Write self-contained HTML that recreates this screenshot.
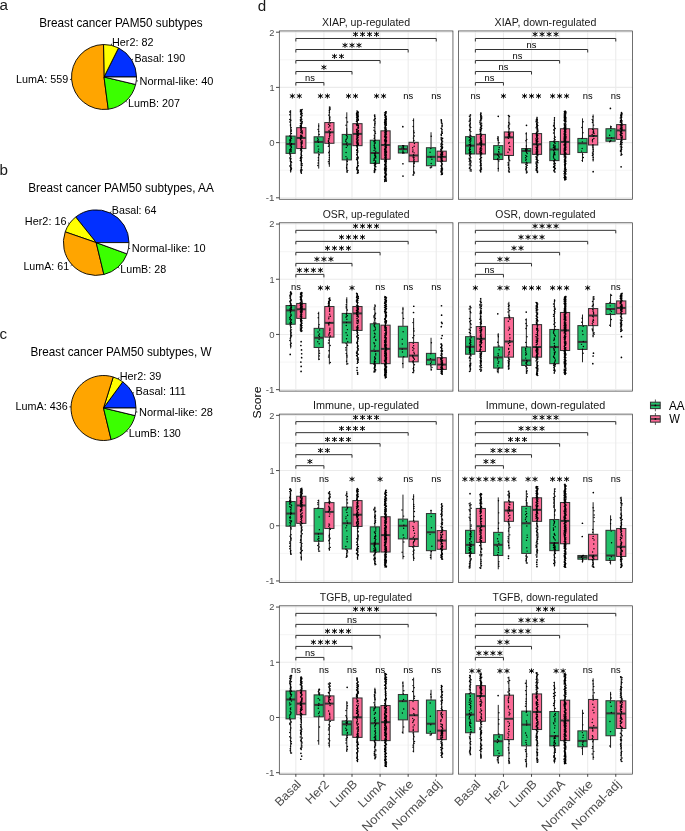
<!DOCTYPE html>
<html><head><meta charset="utf-8"><title>Figure</title>
<style>html,body{margin:0;padding:0;background:#fff;}svg{display:block;will-change:transform;}text{font-family:"Liberation Sans", sans-serif;}</style>
</head><body><svg width="685" height="831" viewBox="0 0 685 831">
<rect width="685" height="831" fill="#fff"/>
<text x="-0.6" y="9.9" font-size="15.2" fill="#1a1a1a">a</text><text x="121" y="27.2" font-size="12.1" text-anchor="middle" textLength="163.46" lengthAdjust="spacingAndGlyphs">Breast cancer PAM50 subtypes</text><path d="M104 77L136.5 77A32.5 32.5 0 0 0 118.53 47.93Z" fill="#0230FF" stroke="#000" stroke-width="0.9" stroke-linejoin="round"/><line x1="131.64" y1="59.91" x2="133.03" y2="59.06" stroke="#000" stroke-width="0.8"/><text x="134.48" y="61.72" font-size="10.05" fill="#000" textLength="50.65" lengthAdjust="spacingAndGlyphs">Basal: 190</text><path d="M104 77L118.53 47.93A32.5 32.5 0 0 0 103.53 44.5Z" fill="#FFFF00" stroke="#000" stroke-width="0.9" stroke-linejoin="round"/><line x1="111.23" y1="45.31" x2="111.59" y2="43.73" stroke="#000" stroke-width="0.8"/><text x="112.02" y="45.67" font-size="10.05" fill="#000" textLength="41.46" lengthAdjust="spacingAndGlyphs">Her2: 82</text><path d="M104 77L103.53 44.5A32.5 32.5 0 1 0 108.25 109.22Z" fill="#FFA500" stroke="#000" stroke-width="0.9" stroke-linejoin="round"/><line x1="71.59" y1="79.37" x2="69.97" y2="79.48" stroke="#000" stroke-width="0.8"/><text x="16.12" y="83.12" font-size="10.05" fill="#000" textLength="52.05" lengthAdjust="spacingAndGlyphs">LumA: 559</text><path d="M104 77L108.25 109.22A32.5 32.5 0 0 0 135.62 84.51Z" fill="#3BFF00" stroke="#000" stroke-width="0.9" stroke-linejoin="round"/><line x1="125.78" y1="101.12" x2="126.87" y2="102.33" stroke="#000" stroke-width="0.8"/><text x="128.02" y="107.05" font-size="10.05" fill="#000" textLength="51.95" lengthAdjust="spacingAndGlyphs">LumB: 207</text><path d="M104 77L135.62 84.51A32.5 32.5 0 0 0 136.5 77Z" fill="#FFFFFF" stroke="#000" stroke-width="0.9" stroke-linejoin="round"/><line x1="136.28" y1="80.78" x2="137.89" y2="80.97" stroke="#000" stroke-width="0.8"/><text x="139.55" y="84.68" font-size="10.05" fill="#000" textLength="73.87" lengthAdjust="spacingAndGlyphs">Normal-like: 40</text><text x="-0.6" y="174.7" font-size="15.2" fill="#1a1a1a">b</text><text x="121" y="191.5" font-size="12.1" text-anchor="middle" textLength="185.51" lengthAdjust="spacingAndGlyphs">Breast cancer PAM50 subtypes, AA</text><path d="M96.2 242.6L129 242.6A32.8 32.8 0 0 0 75.69 217.01Z" fill="#0230FF" stroke="#000" stroke-width="0.9" stroke-linejoin="round"/><line x1="110.39" y1="213.03" x2="111.1" y2="211.55" stroke="#000" stroke-width="0.8"/><text x="111.89" y="213.59" font-size="10.05" fill="#000" textLength="44.5" lengthAdjust="spacingAndGlyphs">Basal: 64</text><path d="M96.2 242.6L75.69 217.01A32.8 32.8 0 0 0 65.21 231.86Z" fill="#FFFF00" stroke="#000" stroke-width="0.9" stroke-linejoin="round"/><line x1="69.4" y1="223.7" x2="68.06" y2="222.75" stroke="#000" stroke-width="0.8"/><text x="24.83" y="225.32" font-size="10.05" fill="#000" textLength="41.76" lengthAdjust="spacingAndGlyphs">Her2: 16</text><path d="M96.2 242.6L65.21 231.86A32.8 32.8 0 0 0 103.9 274.48Z" fill="#FFA500" stroke="#000" stroke-width="0.9" stroke-linejoin="round"/><line x1="71.91" y1="264.65" x2="70.7" y2="265.75" stroke="#000" stroke-width="0.8"/><text x="23.42" y="270.37" font-size="10.05" fill="#000" textLength="45.7" lengthAdjust="spacingAndGlyphs">LumA: 61</text><path d="M96.2 242.6L103.9 274.48A32.8 32.8 0 0 0 127 253.88Z" fill="#3BFF00" stroke="#000" stroke-width="0.9" stroke-linejoin="round"/><line x1="118.03" y1="267.08" x2="119.12" y2="268.3" stroke="#000" stroke-width="0.8"/><text x="120.28" y="273.05" font-size="10.05" fill="#000" textLength="45.9" lengthAdjust="spacingAndGlyphs">LumB: 28</text><path d="M96.2 242.6L127 253.88A32.8 32.8 0 0 0 129 242.6Z" fill="#FFFFFF" stroke="#000" stroke-width="0.9" stroke-linejoin="round"/><line x1="128.5" y1="248.33" x2="130.11" y2="248.61" stroke="#000" stroke-width="0.8"/><text x="131.77" y="252.42" font-size="10.05" fill="#000" textLength="73.87" lengthAdjust="spacingAndGlyphs">Normal-like: 10</text><text x="-0.6" y="338.7" font-size="15.2" fill="#1a1a1a">c</text><text x="121" y="356" font-size="12.1" text-anchor="middle" textLength="180.96" lengthAdjust="spacingAndGlyphs">Breast cancer PAM50 subtypes, W</text><path d="M103.5 408L136 408A32.5 32.5 0 0 0 122.74 381.8Z" fill="#0230FF" stroke="#000" stroke-width="0.9" stroke-linejoin="round"/><line x1="132.5" y1="393.32" x2="133.94" y2="392.58" stroke="#000" stroke-width="0.8"/><text x="135.47" y="395.37" font-size="10.05" fill="#000" textLength="50.51" lengthAdjust="spacingAndGlyphs">Basal: 111</text><path d="M103.5 408L122.74 381.8A32.5 32.5 0 0 0 113.23 376.99Z" fill="#FFFF00" stroke="#000" stroke-width="0.9" stroke-linejoin="round"/><line x1="118.18" y1="379" x2="118.92" y2="377.56" stroke="#000" stroke-width="0.8"/><text x="119.71" y="379.63" font-size="10.05" fill="#000" textLength="41.72" lengthAdjust="spacingAndGlyphs">Her2: 39</text><path d="M103.5 408L113.23 376.99A32.5 32.5 0 1 0 111.11 439.6Z" fill="#FFA500" stroke="#000" stroke-width="0.9" stroke-linejoin="round"/><line x1="71.02" y1="406.9" x2="69.39" y2="406.85" stroke="#000" stroke-width="0.8"/><text x="15.55" y="410.31" font-size="10.05" fill="#000" textLength="52.09" lengthAdjust="spacingAndGlyphs">LumA: 436</text><path d="M103.5 408L111.11 439.6A32.5 32.5 0 0 0 135.1 415.61Z" fill="#3BFF00" stroke="#000" stroke-width="0.9" stroke-linejoin="round"/><line x1="126.48" y1="430.98" x2="127.63" y2="432.13" stroke="#000" stroke-width="0.8"/><text x="128.84" y="436.8" font-size="10.05" fill="#000" textLength="52.02" lengthAdjust="spacingAndGlyphs">LumB: 130</text><path d="M103.5 408L135.1 415.61A32.5 32.5 0 0 0 136 408Z" fill="#FFFFFF" stroke="#000" stroke-width="0.9" stroke-linejoin="round"/><line x1="135.77" y1="411.83" x2="137.39" y2="412.03" stroke="#000" stroke-width="0.8"/><text x="139.05" y="415.74" font-size="10.05" fill="#000" textLength="73.9" lengthAdjust="spacingAndGlyphs">Normal-like: 28</text><rect x="279.3" y="30.95" width="173.65" height="168.3" fill="#fff"/><path d="M279.3 170.2H452.95M279.3 115H452.95M279.3 59.8H452.95" stroke="#EBEBEB" stroke-width="0.55" fill="none"/><path d="M279.3 197.8H452.95M279.3 142.6H452.95M279.3 87.4H452.95M279.3 32.2H452.95M295.84 30.95V199.25M323.92 30.95V199.25M352 30.95V199.25M380.08 30.95V199.25M408.16 30.95V199.25M436.24 30.95V199.25" stroke="#EBEBEB" stroke-width="1.07" fill="none"/><text x="321.95" y="25.95" font-size="10" fill="#1a1a1a" textLength="88.22" lengthAdjust="spacingAndGlyphs">XIAP, up-regulated</text><path d="M290.64 110.09V136.09M290.64 153.36V172.63" stroke="#222" stroke-width="1.0"/><rect x="286.04" y="136.09" width="9.2" height="17.28" fill="#22C16A" stroke="#333333" stroke-width="1.05"/><path d="M286.04 143.98H295.24" stroke="#333333" stroke-width="2"/><path d="M301.29 108.98V127.64M301.29 148.56V173.46" stroke="#222" stroke-width="1.0"/><rect x="296.69" y="127.64" width="9.2" height="20.92" fill="#FB6A96" stroke="#333333" stroke-width="1.05"/><path d="M296.69 137.91H305.89" stroke="#333333" stroke-width="2"/><path d="M318.72 123.22V136.8M318.72 152.98V168.6" stroke="#222" stroke-width="1.0"/><rect x="314.12" y="136.8" width="9.2" height="16.17" fill="#22C16A" stroke="#333333" stroke-width="1.05"/><path d="M314.12 141.91H323.32" stroke="#333333" stroke-width="2"/><path d="M329.37 106.33V122.56M329.37 143.29V166.83" stroke="#222" stroke-width="1.0"/><rect x="324.77" y="122.56" width="9.2" height="20.73" fill="#FB6A96" stroke="#333333" stroke-width="1.05"/><path d="M324.77 132.22H333.97" stroke="#333333" stroke-width="2"/><path d="M346.8 112.3V134.43M346.8 159.88V172.63" stroke="#222" stroke-width="1.0"/><rect x="342.2" y="134.43" width="9.2" height="25.45" fill="#22C16A" stroke="#333333" stroke-width="1.05"/><path d="M342.2 144.26H351.4" stroke="#333333" stroke-width="2"/><path d="M357.45 110.8V123.67M357.45 145.64V173.46" stroke="#222" stroke-width="1.0"/><rect x="352.85" y="123.67" width="9.2" height="21.97" fill="#FB6A96" stroke="#333333" stroke-width="1.05"/><path d="M352.85 133.88H362.05" stroke="#333333" stroke-width="2"/><path d="M374.88 114.23V140.23M374.88 163.36V172.63" stroke="#222" stroke-width="1.0"/><rect x="370.28" y="140.23" width="9.2" height="23.13" fill="#22C16A" stroke="#333333" stroke-width="1.05"/><path d="M370.28 152.98H379.48" stroke="#333333" stroke-width="2"/><path d="M385.53 111.47V130.84M385.53 159.22V181.63" stroke="#222" stroke-width="1.0"/><rect x="380.93" y="130.84" width="9.2" height="28.37" fill="#FB6A96" stroke="#333333" stroke-width="1.05"/><path d="M380.93 144.97H390.13" stroke="#333333" stroke-width="2"/><path d="M402.96 145.8V145.8M402.96 152.98V152.98" stroke="#222" stroke-width="1.0"/><rect x="398.36" y="145.8" width="9.2" height="7.18" fill="#22C16A" stroke="#333333" stroke-width="1.05"/><path d="M398.36 149.11H407.56" stroke="#333333" stroke-width="2"/><path d="M413.61 118.37V142.32M413.61 161.7V175.72" stroke="#222" stroke-width="1.0"/><rect x="409.01" y="142.32" width="9.2" height="19.38" fill="#FB6A96" stroke="#333333" stroke-width="1.05"/><path d="M409.01 155.46H418.21" stroke="#333333" stroke-width="2"/><path d="M431.04 132.22V147.73M431.04 165.73V168.21" stroke="#222" stroke-width="1.0"/><rect x="426.44" y="147.73" width="9.2" height="18" fill="#22C16A" stroke="#333333" stroke-width="1.05"/><path d="M426.44 156.84H435.64" stroke="#333333" stroke-width="2"/><path d="M441.69 137.08V151.16M441.69 161.26V174.84" stroke="#222" stroke-width="1.0"/><rect x="437.09" y="151.16" width="9.2" height="10.1" fill="#FB6A96" stroke="#333333" stroke-width="1.05"/><path d="M437.09 156.84H446.29" stroke="#333333" stroke-width="2"/><path d="M290.8 170.88h0M290.55 170.22h0M291.32 169.33h0M291.53 168.29h0M290.59 167.62h0M290.97 166.9h0M289.76 166.02h0M291.04 165.32h0M290.93 164.02h0M291.63 162.37h0M291.28 161.76h0M290.21 160.94h0M290.41 159.55h0M290.98 158.69h0M289.69 158.04h0M290.56 156.33h0M289.98 154.76h0M289.87 153.49h0M289.76 152.74h0M291.18 151.63h0M289.9 151.3h0M290.14 150.82h0M290.42 150.36h0M291.38 149.97h0M289.8 149.67h0M290.54 149.19h0M290.74 148.11h0M291.41 147.69h0M291.28 146.95h0M291.37 146.25h0M290.2 145.84h0M290.47 145.49h0M290.36 145.08h0M291.41 144.42h0M291.56 143.54h0M289.94 143h0M289.99 142.47h0M290.1 142.06h0M290.11 141.62h0M290.61 140.98h0M290.82 140.71h0M290.17 140.42h0M289.65 140.1h0M290.48 139.79h0M290.38 139.41h0M290.77 138.64h0M291.55 138.21h0M291.02 137.77h0M290.67 137.25h0M290.88 136.82h0M290.99 136.33h0M289.75 135.89h0M291.44 133.5h0M291.2 131.25h0M291.39 130.05h0M291.24 127.69h0M290.42 125.74h0M290.44 124.37h0M289.85 121.92h0M290.91 120.24h0M289.76 119.41h0M289.77 114.84h0M290.06 112.54h0M289.96 111.52h0M301.46 173.22h0M300.81 172.07h0M301.13 171.19h0M300.55 170.62h0M302.11 170.09h0M301 169.6h0M301.21 169.1h0M301.46 167.47h0M302.1 165.42h0M301.13 164.92h0M302.13 163.69h0M301.29 163.21h0M301.35 161.73h0M301.34 161.08h0M300.33 160.43h0M301.17 159.23h0M300.66 158.76h0M300.3 158.21h0M301.89 157.63h0M300.63 157.18h0M301.24 156.22h0M301.74 155.5h0M301.4 154.9h0M300.94 154.03h0M301.33 152.67h0M301.4 151.84h0M301.86 151.06h0M300.5 150.14h0M301.41 149.57h0M300.79 148.93h0M300.84 148.53h0M301.83 148.04h0M301.31 147.61h0M301.41 147.41h0M301.81 147.07h0M302.11 146.84h0M301.18 146.57h0M301.52 146.06h0M301.3 145.58h0M301.31 144.61h0M301.68 144.36h0M301.19 144h0M301.36 143.76h0M301.25 143.46h0M302.17 143.21h0M301.69 142.91h0M302.04 142.54h0M302.17 142.34h0M300.81 142.14h0M301.41 141.9h0M302.18 141.09h0M301.97 140.78h0M300.56 139.89h0M300.53 139.42h0M301.17 138.82h0M300.44 138.38h0M300.77 138.15h0M300.44 137.87h0M301.63 136.99h0M301.86 136.62h0M302.08 136.41h0M300.6 136.22h0M301.72 135.94h0M301.61 135.54h0M300.58 135.24h0M302.06 133.72h0M302.23 133.33h0M300.73 132.61h0M302.2 132.36h0M301.09 132.09h0M301.26 131.84h0M302.27 130.99h0M301.95 130.73h0M300.61 129.96h0M301.15 129.47h0M301.32 129.07h0M300.97 128.44h0M300.68 128.11h0M300.93 127.86h0M301.73 127.44h0M300.33 126.71h0M301.4 126.33h0M301.17 125.8h0M300.33 125.45h0M300.95 124.93h0M301.54 124.33h0M301.31 123.71h0M300.42 123.36h0M302.26 122.93h0M301.87 122.17h0M302.23 121.51h0M300.5 121.04h0M300.82 120.3h0M300.37 119.65h0M301.85 119.22h0M300.83 117.91h0M300.55 117.41h0M301.13 116.89h0M302.11 115.66h0M301.93 115.2h0M300.81 114.5h0M300.59 114.01h0M302.13 113.52h0M301.43 113.13h0M301.69 112.25h0M300.47 111.89h0M300.41 111.3h0M301.67 110.89h0M301.14 110.39h0M300.43 109.93h0M302.17 109.41h0M317.82 165.54h0M318.12 163.05h0M318.34 160.3h0M318.33 157.73h0M319.24 154.77h0M318.3 151.16h0M318.72 149.12h0M318.08 146.16h0M318.41 142.24h0M317.76 140.68h0M318.22 139.77h0M317.75 138.3h0M319.19 134.55h0M318.82 131.37h0M318.1 129.5h0M318.67 126.07h0M329.08 163.67h0M328.37 161.69h0M329.13 159.84h0M329.32 157.6h0M329.38 155.29h0M328.77 152.77h0M329.38 151.3h0M328.38 146.37h0M328.9 145.06h0M328.55 143.33h0M329.17 142.57h0M328.45 141.59h0M328.41 140.78h0M328.98 139.84h0M328.84 138.54h0M329.54 137.87h0M329.43 136.29h0M329.87 135.47h0M329.69 134.29h0M329.8 133.42h0M330.13 132.55h0M329.15 131.33h0M329.02 130.61h0M330.34 129.33h0M328.67 127.12h0M329.82 125.96h0M329.66 125.13h0M328.46 124.27h0M330.04 123.11h0M330.15 120.12h0M329.62 118.85h0M329.84 117.94h0M329.99 116.9h0M328.65 115.11h0M329.42 112.2h0M329.38 110.49h0M330.04 109.53h0M329.98 108.47h0M330.02 107.32h0M347.28 172.09h0M347.75 170.47h0M346.79 168.67h0M346.57 167.54h0M346.76 165.85h0M347.17 164.23h0M347.33 161.48h0M347.03 159.93h0M347.09 158.14h0M345.95 156.6h0M346.09 152.51h0M346.31 147.38h0M347.29 145.84h0M346.41 143.92h0M346.94 142.75h0M345.82 141.55h0M345.92 140.02h0M346.34 139.29h0M347.14 137.97h0M347.18 136.85h0M347.15 136.1h0M346.38 135.19h0M346.83 132.97h0M346.73 131.06h0M346.73 128.97h0M346.04 125.2h0M347.59 121.94h0M346.2 117.83h0M357.23 173.23h0M358.3 172.72h0M358.1 172.19h0M358.16 170.98h0M358.39 170.32h0M356.95 169.72h0M356.67 168.88h0M356.76 167.56h0M357.49 167.09h0M357.81 166.64h0M358.33 165.51h0M357.89 163.49h0M357.74 163.04h0M357.98 162.02h0M357.36 160.57h0M357.55 159.82h0M356.53 159.31h0M358.01 158.59h0M356.92 157.77h0M358.29 157.28h0M357.74 156.8h0M357.06 155.26h0M356.71 154.52h0M356.95 152.84h0M357.72 152.26h0M357.85 150.98h0M356.67 150.44h0M356.59 149.96h0M357.5 149.24h0M357.62 148.59h0M357.23 147.53h0M356.9 146.67h0M357.65 145.72h0M356.47 145.47h0M357.05 145.08h0M357.37 144.85h0M358.37 144.54h0M357.74 144.29h0M358.22 144.06h0M357.4 143.78h0M356.92 143.54h0M356.94 143.17h0M358.37 142.98h0M357.86 142.71h0M357.06 142.34h0M356.49 142.09h0M357.45 141.88h0M357.8 141.37h0M357.29 140.67h0M356.96 140.4h0M357.78 140.18h0M358.3 139.99h0M356.9 139.41h0M356.52 138.96h0M357.13 138.76h0M357.29 138.49h0M357.82 137.93h0M356.85 137.72h0M358.04 137.41h0M357.93 136.92h0M357.46 136.72h0M356.86 136.2h0M358.39 135.6h0M357.07 135.34h0M358.09 135.15h0M356.91 134.95h0M356.89 134.76h0M357.97 134.39h0M357.04 133.9h0M358.35 133.72h0M357.44 133.3h0M356.82 133.03h0M356.9 132.76h0M357.28 132.47h0M357.78 132.21h0M358.35 132h0M356.74 131.58h0M357.24 131.42h0M356.88 130.75h0M358.4 130.43h0M356.73 130.02h0M356.55 129.62h0M356.57 129.35h0M357.24 129.15h0M358.25 128.17h0M358.22 127.98h0M357.92 127.55h0M358.45 127.16h0M358.31 126.03h0M357.11 125.75h0M356.82 125.52h0M358.32 125.23h0M357.94 124.81h0M356.51 124.52h0M357.78 124.14h0M357.21 123.97h0M357.2 123.77h0M357.11 122.07h0M356.79 121.67h0M356.46 121.46h0M357.01 120.89h0M357.15 120.58h0M358.36 120.36h0M356.7 119.94h0M358.38 119.38h0M356.86 118.92h0M357.16 118.43h0M358.09 118.17h0M358.09 117.96h0M357.31 117.54h0M356.55 117.29h0M357.4 117h0M357.2 116.69h0M358.29 116.48h0M356.84 116.1h0M357.18 115.57h0M358.24 115.36h0M356.51 114.94h0M357.27 114.72h0M358.07 114.41h0M357.98 114.08h0M356.53 113.7h0M356.52 113.47h0M356.58 113.22h0M358.29 112.72h0M356.96 112.52h0M357.94 112.11h0M358.25 111.86h0M357.13 111.19h0M356.99 110.93h0M374.28 172.41h0M374.37 171.72h0M374.37 171.24h0M374.19 170.36h0M375.65 169.8h0M375.04 169.4h0M374.53 168.86h0M374.67 168.1h0M375.86 166.65h0M374.89 166.08h0M374.34 165.1h0M375.5 164.79h0M375.19 164.24h0M375.86 163.87h0M374.08 163.36h0M374.83 162.96h0M375.52 162.4h0M375.56 161.68h0M375.71 160.87h0M373.96 160.47h0M374.47 160h0M374.12 159.61h0M374.26 158.57h0M375.83 158h0M375.05 157.37h0M375.74 156.4h0M374.62 155.79h0M375.61 155.1h0M374.78 154.17h0M374.4 153.45h0M375.44 153.01h0M375.77 151.22h0M374.09 150.44h0M375.07 148.99h0M375.12 148.32h0M374.32 147.82h0M374.62 147.05h0M374.16 145.86h0M374.29 145.19h0M374.39 143.87h0M375.08 143.27h0M375.18 142.31h0M374.29 141.88h0M373.9 141.22h0M374.53 140.68h0M375.24 140.15h0M374.25 138.4h0M374.5 137.06h0M374.29 135.15h0M375.47 133.25h0M374.98 131.45h0M374.01 130.28h0M374.08 127.53h0M374.67 124.96h0M374.98 123.51h0M375.16 121.87h0M374.06 120.46h0M374.21 119.46h0M375.27 118.56h0M374.7 116.53h0M374.45 115.29h0M384.66 181.47h0M386.27 181.29h0M386.36 180.99h0M386.42 180.82h0M384.74 180.44h0M384.94 180.25h0M384.75 179.99h0M384.6 179.82h0M386.23 179.36h0M386.15 179.16h0M385.8 178.85h0M386.18 178.62h0M385.79 178.24h0M385.1 177.96h0M384.73 177.75h0M384.73 177.57h0M386.04 177.33h0M384.94 177.17h0M385.17 177h0M385.38 176.74h0M384.57 176.4h0M385.04 176.24h0M385.1 175.87h0M385.96 175.68h0M385.27 175.35h0M385.17 174.88h0M386.46 174.72h0M385.54 174.03h0M386.23 173.68h0M385.77 173.23h0M384.59 172.96h0M385.36 172.63h0M385.4 172.08h0M386.08 171.9h0M385.22 171.7h0M385.94 171.54h0M385.61 171.37h0M384.96 171.15h0M386.25 170.72h0M384.71 170.45h0M386.17 170.06h0M384.87 169.75h0M384.53 169.52h0M384.93 169.21h0M386.05 168.94h0M386.49 168.72h0M384.54 168.32h0M385.51 168.15h0M385.51 167.94h0M386.12 167.75h0M384.9 167.54h0M385.52 167.24h0M385.22 167.09h0M386.19 166.52h0M385.05 166.3h0M386.42 166.11h0M385.1 165.9h0M384.96 165.63h0M385.93 165.32h0M385.53 164.91h0M384.75 164.66h0M385.8 164.39h0M384.69 164.13h0M386.11 163.94h0M385.92 163.31h0M386.1 163h0M385.79 162.85h0M385.24 162.6h0M385.33 162.26h0M385.32 162.09h0M386.31 161.76h0M384.7 161.44h0M386.31 161.07h0M384.58 160.87h0M384.94 160.54h0M385.06 160.29h0M386.33 160.07h0M385.53 159.86h0M385.29 159.49h0M386.3 159.21h0M385 159.09h0M385.45 158.95h0M385.59 158.81h0M386.04 158.59h0M386.04 158.4h0M385.82 158.26h0M385.23 158.02h0M385.18 157.73h0M384.84 157.57h0M386.22 157.43h0M385.85 157.32h0M386.01 157.21h0M384.87 157.1h0M385.41 156.75h0M386.08 156.42h0M385.69 155.84h0M384.78 155.57h0M385.45 155.44h0M386.3 155.34h0M385.01 155.2h0M384.91 155.02h0M385.13 154.91h0M385.94 154.64h0M386.22 154.32h0M384.84 154.18h0M384.84 153.88h0M385.03 153.52h0M385.18 153.27h0M385.57 153.16h0M384.85 152.95h0M385.19 152.79h0M384.91 152.7h0M386.48 152.53h0M385.99 152.42h0M384.73 152.23h0M386.45 152.13h0M384.73 151.83h0M385.3 151.54h0M386.5 151.28h0M386.12 151.06h0M386 150.79h0M385.4 150.54h0M384.92 150.38h0M385.81 150.21h0M384.74 150.07h0M384.94 149.97h0M385.31 149.58h0M384.6 149.39h0M385.33 149.19h0M386.11 149.04h0M385.92 148.8h0M385.53 148.66h0M385.79 148.46h0M385.46 148.33h0M384.81 148.2h0M385.74 148h0M385.34 147.9h0M386.01 147.76h0M386.35 147.58h0M385.39 147.32h0M385.68 147.06h0M386.03 146.89h0M385.37 146.68h0M384.99 146.46h0M385.97 146.26h0M386.29 146.12h0M386.08 145.8h0M385.93 145.51h0M386.23 145.39h0M385.89 145.25h0M385.81 144.86h0M385.44 144.72h0M385.16 144.61h0M385.79 144.47h0M384.73 144.35h0M385.37 144.17h0M386.09 144.04h0M385.96 143.91h0M385.79 143.67h0M385.03 143.48h0M385.38 143.33h0M385.44 143.02h0M385.77 142.9h0M385.35 142.29h0M385.88 142.17h0M386.39 142.06h0M384.9 141.9h0M385.84 141.77h0M386.09 141.47h0M385.31 141.37h0M385.51 141.16h0M386.48 140.96h0M384.61 140.67h0M385.62 140.5h0M384.85 140.33h0M386.09 140.21h0M386.41 140.05h0M385.57 139.86h0M384.73 139.73h0M385.68 139.38h0M385.61 139.05h0M385.96 138.73h0M385.55 138.55h0M385.81 138.42h0M386.19 138.27h0M385.57 138.16h0M385.35 138.03h0M386.43 137.85h0M384.95 137.68h0M385.9 137.56h0M385.31 137.37h0M386.06 137.21h0M384.77 137.11h0M386.5 136.97h0M385.24 136.85h0M384.64 136.71h0M385.08 136.59h0M385.33 136.49h0M384.56 136.31h0M385.37 136.2h0M385.37 135.89h0M385.93 135.63h0M385.23 135.4h0M385.06 135.26h0M384.98 134.76h0M386.01 134.3h0M386.41 134.2h0M385.58 134.04h0M384.97 133.89h0M386.13 133.78h0M385.31 133.29h0M384.95 133.09h0M384.79 132.74h0M386.08 132.64h0M386.15 132.45h0M385.8 132.24h0M385.47 132.11h0M385.65 132.01h0M384.98 131.83h0M386.46 131.59h0M385.24 131.45h0M385.81 131.35h0M386.17 131.21h0M386.16 131.09h0M385.47 130.9h0M385.12 130.54h0M385.63 130.36h0M384.78 129.99h0M386.2 129.82h0M385.24 129.19h0M386.23 129.01h0M385.06 128.84h0M385.28 128.63h0M385.04 128.47h0M385.38 128.26h0M384.9 128.1h0M384.54 127.87h0M385.97 127.74h0M385.09 127.25h0M385.02 126.85h0M385.13 126.38h0M385.49 126.19h0M385.39 126.04h0M385.8 125.83h0M385.85 125.63h0M385.25 125.49h0M386.39 125.34h0M386.24 125.05h0M384.64 124.74h0M386.19 124.26h0M386.34 124.07h0M386.1 123.76h0M384.81 123.6h0M386.19 123.43h0M385.8 122.88h0M384.56 122.74h0M384.55 122.35h0M386.43 121.94h0M385.84 121.75h0M385.03 121.35h0M384.73 121.21h0M384.82 120.99h0M385 120.85h0M386.08 120.47h0M385.22 120.27h0M384.84 119.98h0M386.34 119.84h0M386.11 119.67h0M384.87 119.52h0M386.31 119.22h0M385.75 119.02h0M386.09 118.86h0M385.87 118.6h0M386.32 118.39h0M386.11 118.22h0M386.21 117.89h0M384.92 117.61h0M385.92 117.26h0M385.59 117.11h0M386.01 116.87h0M385.41 116.68h0M386.3 116.32h0M385.64 116.18h0M385.06 116.03h0M385 115.76h0M384.81 115.55h0M385.52 115.35h0M384.65 114.99h0M385.46 114.77h0M384.82 114.5h0M385.51 114.05h0M385.53 113.85h0M385.61 113.38h0M386.26 113.12h0M384.54 112.89h0M386.21 112.67h0M385.47 112.29h0M385.66 112.06h0M385.86 111.81h0M386.21 111.66h0M402.62 152.98h0M403.92 152.98h0M402.98 152.01h0M402.93 150.9h0M403.76 148.72h0M402.03 147.88h0M403.4 147.21h0M403.21 146.25h0M402.64 145.8h0M403.68 145.8h0M412.99 175.05h0M414.45 173.09h0M413.83 171.82h0M413.93 166.31h0M414.19 163.59h0M414.43 162h0M413.83 161.31h0M413.84 160.85h0M413.86 160.19h0M414 159.58h0M413.8 158.22h0M413.97 157.54h0M413.04 156.94h0M413.94 155.64h0M413.53 154.82h0M414.14 152.86h0M412.81 151.7h0M412.97 149.91h0M412.68 147.7h0M414.16 146.24h0M414.44 143.51h0M413.92 140.48h0M413.35 138.12h0M414.26 136.04h0M414.18 132.66h0M413.73 130.9h0M413.13 126.42h0M413.21 120.42h0M430.28 167.71h0M431.66 167.01h0M431.19 163.4h0M431.88 159.34h0M430.93 156.96h0M430.07 152.2h0M430.81 148.57h0M431.22 136.21h0M441.24 174.64h0M442.39 174.25h0M442.3 173.77h0M442.06 173.38h0M442.52 173.06h0M441.38 172.69h0M440.86 171.73h0M441.8 171.21h0M442.28 170.65h0M441.09 170.32h0M442.19 169.5h0M442.55 169.08h0M441.16 168.67h0M441.9 167.99h0M442.05 167.16h0M441.62 166.66h0M441.1 165.92h0M441.2 165.43h0M442.19 164.75h0M442.27 163.86h0M441.61 162.89h0M440.87 161.77h0M442.3 161.22h0M442.23 161.04h0M441.16 160.77h0M441.85 160.59h0M442.48 160.35h0M442.46 160.23h0M441.73 159.94h0M441.64 159.57h0M441.87 159.43h0M441.07 159.26h0M441.07 159.08h0M441.05 158.74h0M442.09 158.6h0M441.42 158.46h0M441.82 158.31h0M441.49 158.12h0M441.72 157.83h0M440.99 157.6h0M440.78 157.4h0M442.68 156.52h0M441.44 156.34h0M440.9 156.18h0M441.96 155.92h0M442.26 155.63h0M441 155.49h0M441.88 155.32h0M441.38 154.94h0M441.73 154.8h0M440.73 154.5h0M440.76 154.37h0M442.67 154.18h0M442.42 153.76h0M441.66 153.55h0M441.82 153.41h0M441.21 153.08h0M442.25 152.88h0M441.54 152.71h0M442.58 152.54h0M442.22 152.39h0M442.33 152.15h0M442.62 152.02h0M441.2 151.85h0M440.77 151.26h0M441.09 150.81h0M441.05 150.45h0M440.86 149.82h0M440.79 149.22h0M441.8 148.79h0M442.43 148.36h0M441.61 148.01h0M442.58 147.41h0M442.51 146.99h0M440.82 146.62h0M441.89 145.68h0M441.48 145.22h0M440.93 144.73h0M442.61 144.35h0M441.2 143.53h0M441.82 143.2h0M441.97 142.66h0M442.6 141.33h0M442.03 140.87h0M441.48 140.35h0M441.59 139.49h0M441.01 139.12h0M442.62 138.6h0M442.67 138.18h0M441.13 137.78h0" stroke="#000" stroke-width="1.45" stroke-linecap="round" fill="none"/><path d="M402.83 126.7h0M402.93 163.74h0M402.99 176.11h0M441.23 119.75h0M441.45 121.07h0M441.54 122.73h0M442.09 123.83h0M442.09 125.49h0M442.03 126.59h0M441.24 128.25h0M441.98 129.35h0M441.9 131.01h0M441.84 132.11h0M442.18 133.22h0M441.25 134.32h0M441.33 135.42h0" stroke="#000" stroke-width="1.7" stroke-linecap="round" fill="none"/><path d="M292.34 98.57L292.34 93.57M289.87 97.49L294.81 94.64M289.87 94.64L294.81 97.49M299.34 98.57L299.34 93.57M296.87 97.49L301.81 94.64M296.87 94.64L301.81 97.49" stroke="#000" stroke-width="0.95" fill="none"/><path d="M320.42 98.57L320.42 93.57M317.95 97.49L322.89 94.64M317.95 94.64L322.89 97.49M327.42 98.57L327.42 93.57M324.95 97.49L329.89 94.64M324.95 94.64L329.89 97.49" stroke="#000" stroke-width="0.95" fill="none"/><path d="M348.5 98.57L348.5 93.57M346.03 97.49L350.97 94.64M346.03 94.64L350.97 97.49M355.5 98.57L355.5 93.57M353.03 97.49L357.97 94.64M353.03 94.64L357.97 97.49" stroke="#000" stroke-width="0.95" fill="none"/><path d="M376.58 98.57L376.58 93.57M374.11 97.49L379.05 94.64M374.11 94.64L379.05 97.49M383.58 98.57L383.58 93.57M381.11 97.49L386.05 94.64M381.11 94.64L386.05 97.49" stroke="#000" stroke-width="0.95" fill="none"/><text x="403.26" y="98.53" font-size="9.15" fill="#000" textLength="9.89" lengthAdjust="spacingAndGlyphs">ns</text><text x="431.34" y="98.53" font-size="9.15" fill="#000" textLength="9.89" lengthAdjust="spacingAndGlyphs">ns</text><text x="304.98" y="80.81" font-size="9.15" fill="#000" textLength="9.89" lengthAdjust="spacingAndGlyphs">ns</text><path d="M323.92 69.83L323.92 64.83M321.45 68.75L326.39 65.9M321.45 65.9L326.39 68.75" stroke="#000" stroke-width="0.95" fill="none"/><path d="M334.46 58.82L334.46 53.82M331.99 57.74L336.93 54.89M331.99 54.89L336.93 57.74M341.46 58.82L341.46 53.82M338.99 57.74L343.93 54.89M338.99 54.89L343.93 57.74" stroke="#000" stroke-width="0.95" fill="none"/><path d="M345 47.81L345 42.81M342.53 46.73L347.47 43.88M342.53 43.88L347.47 46.73M352 47.81L352 42.81M349.53 46.73L354.47 43.88M349.53 43.88L354.47 46.73M359 47.81L359 42.81M356.53 46.73L361.47 43.88M356.53 43.88L361.47 46.73" stroke="#000" stroke-width="0.95" fill="none"/><path d="M355.54 36.79L355.54 31.79M353.07 35.72L358.01 32.87M353.07 32.87L358.01 35.72M362.54 36.79L362.54 31.79M360.07 35.72L365.01 32.87M360.07 32.87L365.01 35.72M369.54 36.79L369.54 31.79M367.07 35.72L372.01 32.87M367.07 32.87L372.01 35.72M376.54 36.79L376.54 31.79M374.07 35.72L379.01 32.87M374.07 32.87L379.01 35.72" stroke="#000" stroke-width="0.95" fill="none"/><path d="M295.84 85.54V82.54H323.92V85.54M295.84 74.53V71.53H352V74.53M295.84 63.52V60.52H380.08V63.52M295.84 52.51V49.51H408.16V52.51M295.84 41.49V38.49H436.24V41.49" stroke="#333" stroke-width="1.0" fill="none"/><rect x="279.3" y="30.95" width="173.65" height="168.3" fill="none" stroke="#333" stroke-width="0.7"/><text x="265.84" y="201.18" font-size="9.46" fill="#4D4D4D" textLength="8.7" lengthAdjust="spacingAndGlyphs">-1</text><text x="269.34" y="145.98" font-size="9.46" fill="#4D4D4D" textLength="5.33" lengthAdjust="spacingAndGlyphs">0</text><text x="269.41" y="90.78" font-size="9.46" fill="#4D4D4D" textLength="5.1" lengthAdjust="spacingAndGlyphs">1</text><text x="269.31" y="35.58" font-size="9.46" fill="#4D4D4D" textLength="5.14" lengthAdjust="spacingAndGlyphs">2</text><path d="M276 197.8H279.3M276 142.6H279.3M276 87.4H279.3M276 32.2H279.3" stroke="#333" stroke-width="0.9"/><rect x="458.6" y="30.95" width="173.9" height="168.3" fill="#fff"/><path d="M458.6 170.2H632.5M458.6 115H632.5M458.6 59.8H632.5" stroke="#EBEBEB" stroke-width="0.55" fill="none"/><path d="M458.6 197.8H632.5M458.6 142.6H632.5M458.6 87.4H632.5M458.6 32.2H632.5M475.37 30.95V199.25M503.45 30.95V199.25M531.53 30.95V199.25M559.61 30.95V199.25M587.69 30.95V199.25M615.77 30.95V199.25" stroke="#EBEBEB" stroke-width="1.07" fill="none"/><text x="494.62" y="25.95" font-size="10" fill="#1a1a1a" textLength="101.73" lengthAdjust="spacingAndGlyphs">XIAP, down-regulated</text><path d="M470.17 114.23V136.64M470.17 153.97V171.64" stroke="#222" stroke-width="1.0"/><rect x="465.57" y="136.64" width="9.2" height="17.33" fill="#22C16A" stroke="#333333" stroke-width="1.05"/><path d="M465.57 145.64H474.77" stroke="#333333" stroke-width="2"/><path d="M480.82 112.18V134.43M480.82 153.97V172.63" stroke="#222" stroke-width="1.0"/><rect x="476.22" y="134.43" width="9.2" height="19.54" fill="#FB6A96" stroke="#333333" stroke-width="1.05"/><path d="M476.22 144.42H485.42" stroke="#333333" stroke-width="2"/><path d="M498.25 136.36V145.64M498.25 159.49V171.64" stroke="#222" stroke-width="1.0"/><rect x="493.65" y="145.64" width="9.2" height="13.86" fill="#22C16A" stroke="#333333" stroke-width="1.05"/><path d="M493.65 154.36H502.85" stroke="#333333" stroke-width="2"/><path d="M508.9 114.94V131.95M508.9 155.46V172.63" stroke="#222" stroke-width="1.0"/><rect x="504.3" y="131.95" width="9.2" height="23.52" fill="#FB6A96" stroke="#333333" stroke-width="1.05"/><path d="M504.3 137.36H513.5" stroke="#333333" stroke-width="2"/><path d="M526.33 132.22V148.56M526.33 162.91V173.73" stroke="#222" stroke-width="1.0"/><rect x="521.73" y="148.56" width="9.2" height="14.35" fill="#22C16A" stroke="#333333" stroke-width="1.05"/><path d="M521.73 150.88H530.93" stroke="#333333" stroke-width="2"/><path d="M536.98 116.71V133.6M536.98 154.36V172.63" stroke="#222" stroke-width="1.0"/><rect x="532.38" y="133.6" width="9.2" height="20.76" fill="#FB6A96" stroke="#333333" stroke-width="1.05"/><path d="M532.38 144.26H541.58" stroke="#333333" stroke-width="2"/><path d="M554.41 116.99V141.5M554.41 160.6V172.63" stroke="#222" stroke-width="1.0"/><rect x="549.81" y="141.5" width="9.2" height="19.1" fill="#22C16A" stroke="#333333" stroke-width="1.05"/><path d="M549.81 149.5H559.01" stroke="#333333" stroke-width="2"/><path d="M565.06 110.8V128.74M565.06 154.36V180.36" stroke="#222" stroke-width="1.0"/><rect x="560.46" y="128.74" width="9.2" height="25.61" fill="#FB6A96" stroke="#333333" stroke-width="1.05"/><path d="M560.46 141.91H569.66" stroke="#333333" stroke-width="2"/><path d="M582.49 118.37V138.46M582.49 152.54V161.98" stroke="#222" stroke-width="1.0"/><rect x="577.89" y="138.46" width="9.2" height="14.08" fill="#22C16A" stroke="#333333" stroke-width="1.05"/><path d="M577.89 143.29H587.09" stroke="#333333" stroke-width="2"/><path d="M593.14 114.5V128.74M593.14 144.97V161.53" stroke="#222" stroke-width="1.0"/><rect x="588.54" y="128.74" width="9.2" height="16.23" fill="#FB6A96" stroke="#333333" stroke-width="1.05"/><path d="M588.54 135.98H597.74" stroke="#333333" stroke-width="2"/><path d="M610.57 125.6V128.74M610.57 141.22V141.91" stroke="#222" stroke-width="1.0"/><rect x="605.97" y="128.74" width="9.2" height="12.48" fill="#22C16A" stroke="#333333" stroke-width="1.05"/><path d="M605.97 138.18H615.17" stroke="#333333" stroke-width="2"/><path d="M621.22 112.18V124.6M621.22 139.4V155.46" stroke="#222" stroke-width="1.0"/><rect x="616.62" y="124.6" width="9.2" height="14.79" fill="#FB6A96" stroke="#333333" stroke-width="1.05"/><path d="M616.62 130.4H625.82" stroke="#333333" stroke-width="2"/><path d="M471.17 170.91h0M471.02 169.53h0M469.37 168.25h0M469.75 167.69h0M470.96 165.72h0M469.28 164.87h0M470.62 164.01h0M469.76 163.11h0M471.13 162.01h0M469.2 161.35h0M470.78 160.78h0M469.85 160.17h0M469.45 159.24h0M469.17 158.26h0M470.83 157.68h0M470.22 156.19h0M469.54 155.4h0M470.04 154.52h0M470.99 153.81h0M469.61 153.53h0M470.31 152.99h0M469.45 152.42h0M469.53 152.15h0M470.71 151.74h0M470.59 151.41h0M469.56 150.89h0M469.33 150.42h0M469.34 149.84h0M470.39 149.48h0M470.16 149.05h0M469.72 148.7h0M469.58 148.03h0M470.39 146.98h0M470.59 146.12h0M470.79 145.78h0M470.34 145.06h0M469.57 144.77h0M469.3 144.43h0M470.64 143.97h0M469.99 142.57h0M470.61 141.6h0M469.28 140.66h0M470.79 140.37h0M469.84 139.37h0M470.85 138.94h0M470.9 138.64h0M470.16 137.71h0M469.2 137.37h0M470.99 136.07h0M470.12 135.23h0M470.91 131.61h0M469.7 130.17h0M469.54 129.35h0M470.83 127.55h0M469.9 126.68h0M469.5 125.17h0M469.91 124.18h0M470.36 123.12h0M469.18 121.32h0M470.21 120.57h0M470.06 119.64h0M470.2 118.7h0M469.41 116.24h0M470.6 114.98h0M480.63 171.8h0M480.4 171.35h0M480.31 171.01h0M480 170.33h0M480.91 169.83h0M481.5 169.09h0M481.04 168.45h0M480.96 167.82h0M481.12 167.19h0M480.22 165.84h0M481.24 165.27h0M480.74 164.92h0M480.92 163.93h0M481.05 163.54h0M480.76 163.16h0M480.44 162.79h0M480.3 162.18h0M480.26 161.64h0M480.84 161.21h0M480.59 160.58h0M480.99 160.2h0M479.84 159.27h0M480.53 158.26h0M481.54 157.45h0M480.3 156.05h0M480.93 155.09h0M480.8 154.42h0M480.39 154.04h0M481.8 153.83h0M480.41 153.37h0M481.36 153.15h0M480.14 152.88h0M479.95 152.59h0M481.56 152.27h0M480.7 151.98h0M479.94 151.58h0M480.6 151.11h0M480.7 150.67h0M481.29 150.43h0M480.04 149.76h0M480.27 149.27h0M481.74 148.96h0M481.3 148.65h0M480.13 148.29h0M480.49 147.83h0M480.52 147.63h0M481.17 147.25h0M481.05 147.06h0M481.52 146.86h0M481.46 146.1h0M480.86 145.4h0M481.3 145.21h0M481.31 144.92h0M481.34 144.67h0M480.77 144.34h0M481.39 144.15h0M481.24 143.89h0M481.65 143.66h0M480.07 143.42h0M481.56 143.19h0M479.83 142.91h0M481.35 142.73h0M480.99 142.49h0M480.82 142.24h0M481.75 141.96h0M480.96 141.17h0M480.66 140.91h0M481.39 140.43h0M481.57 140.2h0M481.03 139.92h0M480.58 139.3h0M480.72 138.89h0M480.74 138.7h0M481.27 138.35h0M480.41 138.05h0M480.6 137.26h0M480.93 136.67h0M480.59 136.41h0M480.46 136.06h0M481.39 135.76h0M481.52 134.99h0M480.82 134.72h0M480.71 133.55h0M480.19 133.13h0M480.43 131.51h0M480.11 130.89h0M480.97 130.23h0M480.98 129.77h0M480 129.34h0M481.66 128.54h0M480.47 127.53h0M481.51 126.78h0M481.5 125.78h0M481.74 125.18h0M480.23 124.6h0M480.67 124.06h0M481.64 123.14h0M479.84 122.73h0M479.91 121.08h0M480.95 120.16h0M480.81 119.32h0M481.66 118.8h0M481.37 118.37h0M480.9 117.8h0M481.82 116.98h0M480.85 116.43h0M480.85 115.94h0M481.19 115.46h0M480.6 114.64h0M480.54 114.13h0M481.01 113.22h0M498.31 168.47h0M498.88 161.02h0M497.59 159.42h0M497.89 158.53h0M499.21 157.62h0M498.9 156.58h0M498.28 155.46h0M497.47 154.42h0M499.04 152.74h0M498.63 151.43h0M498.89 149.46h0M499.23 147.46h0M499.03 142.65h0M498.09 140.23h0M497.56 138.76h0M497.83 137.01h0M509.44 172.05h0M508.55 170.88h0M509.33 168.98h0M508.61 167.41h0M508.24 165.23h0M508.43 164.13h0M508.1 162.73h0M509.71 160.64h0M509.06 159.29h0M508.6 158h0M508.8 156.93h0M508.67 155.75h0M508.01 152.33h0M509.68 150.01h0M509.07 149h0M509.82 146.39h0M508.78 143.36h0M509.14 142.42h0M508.4 138.36h0M507.99 137.3h0M509.76 136.84h0M509.61 136.46h0M508.53 135.95h0M509.7 135.44h0M509.53 135.04h0M508.51 134.58h0M509.11 134.19h0M509.82 133.73h0M508.89 133.38h0M509.8 132.99h0M508.39 132.49h0M508.68 131.96h0M509.34 128.79h0M508.34 126.96h0M508.52 125.44h0M509.65 124.01h0M508.87 122.49h0M509.49 116.47h0M508.39 115.48h0M527 172.59h0M526.94 171.16h0M525.65 169.8h0M526.04 168.54h0M526.77 167.59h0M526.08 166.72h0M527.25 165.34h0M525.75 164.18h0M527.23 163.13h0M526.34 162.18h0M525.78 160.21h0M526.24 159.17h0M525.59 157.71h0M526.74 156.52h0M525.85 155.49h0M527.13 153.41h0M526.51 152.31h0M526.07 151.28h0M525.82 150.67h0M526.55 150.42h0M525.76 150.07h0M527.07 149.48h0M525.58 149.19h0M526.36 148.45h0M526.42 145.92h0M525.87 140.83h0M526.87 139.36h0M526.1 133.74h0M537.51 172.45h0M537.64 171.13h0M536.21 170.49h0M536.56 170.18h0M536.7 169.89h0M536.39 169.51h0M536.1 169.21h0M536.54 168.79h0M536.37 168.26h0M537.38 167.79h0M536.88 167.27h0M536.21 166.25h0M536.63 165.97h0M536.92 165.55h0M536.71 164.57h0M536.32 164.21h0M536.12 163.78h0M536 163.1h0M537.96 162.76h0M537.48 162.32h0M536.15 161.88h0M537.41 161.4h0M537.94 160.38h0M537.11 159.84h0M536.2 159.27h0M536.96 158.9h0M536.85 158.54h0M536.36 157.66h0M537.07 157.26h0M536 156.66h0M537.82 155.78h0M537.27 155.08h0M537.24 154.66h0M537.85 154.31h0M537.29 154.08h0M536.48 153.9h0M536.47 153.64h0M536.26 153.35h0M536.04 152.89h0M537.53 152.64h0M537.66 152.46h0M536.57 152.22h0M536.35 151.85h0M537.26 151.65h0M537.67 151.42h0M537.83 151.11h0M536.32 150.95h0M537.55 150.8h0M537.64 150.63h0M537.46 150.28h0M536.63 149.87h0M536.35 149.4h0M537.63 149.2h0M536.62 149.04h0M536.72 148.88h0M537.08 148.6h0M536.72 148.38h0M537.64 147.83h0M536.46 147.49h0M536.06 147.26h0M537.11 146.91h0M537.24 146.59h0M537.62 146.41h0M537.39 146.03h0M537.79 145.78h0M537.87 145.49h0M536.97 145.13h0M536.98 144.82h0M536.29 144.5h0M536.58 143.51h0M537.14 143.1h0M536.14 142.86h0M537.36 142.09h0M536.31 141.87h0M536.87 141.67h0M537.92 141.21h0M536.16 141.02h0M536.06 140.77h0M536.86 140.55h0M536.36 139.78h0M537.43 139.43h0M535.99 138.82h0M537.66 138.64h0M537.69 138.29h0M537.55 138.11h0M536.83 137.51h0M536.55 137.26h0M537.3 137.08h0M537.01 136.86h0M536.82 136.61h0M536.66 136.25h0M536.86 135.99h0M537.31 135.67h0M537.63 135.44h0M537.79 135.2h0M536.31 135.01h0M536.57 134.77h0M536.87 134.52h0M537.11 134.24h0M536.68 133.99h0M536.37 133.82h0M536.15 133.1h0M536.63 132.69h0M536.9 132.13h0M537.92 131.8h0M537.8 131.17h0M537.71 130.86h0M537.93 130.16h0M537.9 129.85h0M537.22 129.08h0M537.6 128.34h0M536.1 127.76h0M537.33 127.04h0M537.2 126.74h0M536.57 126.34h0M537.12 125.9h0M537.89 125.4h0M536.94 124.99h0M537.27 124.63h0M536.58 124.13h0M536.67 123.14h0M537.75 122.82h0M536.04 121.74h0M536.36 121.35h0M537.34 121.03h0M536.87 120.31h0M536.15 119.98h0M537.3 119.53h0M536.72 118.91h0M537.14 117.87h0M555.06 172.07h0M553.66 170.65h0M554.16 169.87h0M554.88 169.32h0M555.31 168.57h0M554.85 168h0M553.5 167.36h0M554.62 166.95h0M553.61 166.53h0M554.51 166.12h0M555.02 165.19h0M553.64 164.05h0M555.26 163.58h0M554.76 162.96h0M553.92 161.78h0M553.8 161.06h0M554.3 160.43h0M555.09 159.74h0M554.57 159.34h0M553.64 157.94h0M553.45 156.66h0M553.63 155.61h0M555.01 154.81h0M553.78 154.35h0M554.52 153.72h0M553.99 153.17h0M554.78 152.6h0M554.17 151.93h0M553.7 150.47h0M555.16 149.57h0M554.49 149.02h0M554.79 148.74h0M555.03 148.2h0M555.31 147.9h0M553.44 147.59h0M554.09 147.18h0M553.71 146.92h0M554.41 146.63h0M555.16 146.24h0M555.01 145.72h0M553.48 145.37h0M553.77 144.67h0M555.05 143.46h0M554.77 142.77h0M554.2 142.39h0M554.36 142.02h0M553.73 141.12h0M555.1 139.75h0M554.2 138.62h0M555.16 137.26h0M554.63 136.4h0M553.56 132.94h0M554.07 130.57h0M553.84 129.71h0M555.2 128.54h0M554.59 127.67h0M553.5 126.06h0M553.75 125.19h0M554.13 123.04h0M554.35 120.15h0M554.56 117.85h0M564.86 179.96h0M564.7 179.72h0M564.9 179.45h0M566.01 179.26h0M564.83 179.03h0M564.83 178.7h0M564.88 178.19h0M564.35 177.99h0M566.06 177.68h0M564.07 177.44h0M565.28 177.08h0M565.91 176.85h0M564.57 176.48h0M565.28 176.24h0M564.81 175.87h0M564.54 175.42h0M564.46 175.14h0M564.29 174.96h0M565.75 174.24h0M565.63 173.99h0M565.88 173.68h0M564.16 173.5h0M565.45 173.31h0M564.71 172.88h0M565.35 172.66h0M565.16 172.41h0M564.69 172.18h0M566 171.47h0M564.06 171.26h0M565.55 170.57h0M565.77 170.4h0M565.08 170.21h0M565.24 169.86h0M566.05 169.48h0M564.53 168.92h0M565.32 168.6h0M565.55 168.23h0M564.82 168.01h0M565.48 167.42h0M564.85 166.65h0M565.11 166.36h0M565.29 166.11h0M565.41 165.93h0M564.7 165.71h0M565.32 165.23h0M565.15 164.89h0M564.51 164.6h0M565.29 164.36h0M564.59 164.11h0M565.88 163.66h0M565.01 163.45h0M565.5 163.03h0M565.1 162.83h0M565.01 162.53h0M564.5 162.14h0M564.34 161.95h0M565.91 161.35h0M565.12 161.16h0M565.11 160.92h0M565.11 160.74h0M565.69 160.42h0M564.54 160.22h0M564.4 159.74h0M565.7 159.12h0M564.98 158.76h0M565.34 158.44h0M565.71 157.92h0M565.85 157.62h0M565.8 157.3h0M564.15 157.05h0M564.82 156.79h0M565.72 156.31h0M565.7 155.93h0M564.31 155.59h0M564.37 155.4h0M564.56 155.07h0M564.27 154.89h0M564.77 154.33h0M565.67 154.23h0M565.1 153.94h0M564.97 153.73h0M564.24 153.63h0M564.85 153.54h0M566.05 153.35h0M565.45 153.26h0M564.96 153.12h0M565.02 152.97h0M565.66 152.87h0M565.58 152.67h0M564.36 152.58h0M565.42 152.49h0M564.79 152.34h0M565.1 152.2h0M564.54 152.04h0M564.8 151.93h0M564.74 151.47h0M564.82 151.37h0M564.1 151.21h0M564.46 151.1h0M565.2 150.98h0M564.18 150.79h0M564.42 150.68h0M565.5 150.42h0M564.61 150.17h0M564.71 150.07h0M564.54 149.92h0M565.73 149.77h0M564.24 149.65h0M565.33 149.55h0M565.78 149.41h0M564.46 149.31h0M564.91 149.16h0M565.64 149.06h0M565.3 148.93h0M564.8 148.83h0M564.15 148.73h0M564.95 148.57h0M564.79 148.36h0M565.49 148.27h0M564.65 148.16h0M564.88 148h0M565.36 147.92h0M565.68 147.75h0M564.76 147.59h0M564.83 147.45h0M565.22 147.36h0M565.91 147.27h0M564.44 147.12h0M566 147h0M565.48 146.4h0M564.8 146.03h0M565.39 145.89h0M564.72 145.72h0M564.2 145.62h0M565.57 145.48h0M564.82 145.36h0M565.11 145.16h0M565.05 144.86h0M565.86 144.65h0M565.57 144.56h0M564.11 144.43h0M565.25 144.26h0M564.99 143.89h0M564.98 143.62h0M565.74 143.53h0M564.89 143.45h0M565.01 143.21h0M565.84 143.11h0M564.94 142.95h0M565.04 142.55h0M565.08 142.33h0M565.71 142.17h0M565.4 142.06h0M565.54 141.93h0M564.86 141.66h0M564.14 141.53h0M565.42 141.37h0M565.17 141.25h0M565.6 141.14h0M565.6 141.03h0M564.3 140.86h0M564.5 140.67h0M564.21 140.58h0M565.69 140.11h0M564.26 139.9h0M564.24 139.58h0M565.57 139.44h0M565.19 139.22h0M564.17 139h0M565.42 138.86h0M565.48 138.76h0M565.03 138.57h0M564.17 138.48h0M565.44 138.36h0M564.9 138.16h0M565.23 137.98h0M566.06 137.89h0M565.69 137.69h0M565.8 137.59h0M564.35 137.49h0M564.73 137.15h0M565.1 137.06h0M564.07 136.94h0M566.04 136.78h0M564.61 136.55h0M564.58 136.22h0M564.69 136.13h0M564.57 135.96h0M565.78 135.86h0M565.17 135.73h0M565.08 135.35h0M564.9 134.94h0M564.16 134.83h0M564.67 134.59h0M565.79 134.46h0M565.66 134.36h0M565.77 134.24h0M564.57 134.06h0M564.46 133.9h0M564.16 133.74h0M565.13 133.58h0M564.81 133.47h0M564.99 133.27h0M565.04 133.12h0M565.23 132.98h0M564.79 132.54h0M565.66 132.24h0M564.46 132.09h0M565.9 131.96h0M565.17 131.88h0M564.16 131.72h0M564.69 131.56h0M565.13 131.44h0M564.88 131.33h0M565.19 130.87h0M564.71 130.59h0M564.61 130.38h0M565.65 130.25h0M564.64 130h0M565.48 129.84h0M565.66 129.63h0M565.24 129.49h0M564.97 129.39h0M565.93 129.24h0M564.95 129.11h0M565.82 129.01h0M564.18 128.89h0M564.93 128.76h0M565.34 128.35h0M564.16 128.15h0M565.79 127.85h0M564.2 127.64h0M565.25 127.37h0M564.42 127.25h0M565.9 126.99h0M565.18 126.74h0M565.66 126.56h0M565.06 126.38h0M565.41 126.26h0M565.41 126.13h0M564.65 125.96h0M564.48 125.76h0M565.74 125.58h0M564.35 125.02h0M565.9 124.79h0M564.47 124.48h0M564.26 124.04h0M564.25 123.76h0M565.63 123.32h0M565.96 121.76h0M564.89 121.63h0M565.38 121.49h0M564.58 121.36h0M565.87 121.24h0M565.43 120.97h0M564.37 120.82h0M564.17 120.64h0M565.45 120.47h0M564.14 120.33h0M565.73 120.17h0M564.65 120h0M564.53 119.88h0M565.22 119.65h0M564.7 119.41h0M565.18 119.25h0M564.37 119.12h0M565.88 118.99h0M564.71 118.6h0M565.74 118.19h0M564.36 117.91h0M565.66 117.5h0M566.02 117.14h0M564.84 117.01h0M564.13 116.88h0M564.82 116.68h0M565.34 116.55h0M564.51 116.38h0M565.15 116.18h0M564.25 115.62h0M564.99 115.46h0M565.52 115.3h0M564.92 115.14h0M565.42 114.87h0M564.29 114.32h0M565.72 113.98h0M564.3 113.71h0M565.91 113.34h0M566.05 113.11h0M565.94 112.91h0M565.11 112.69h0M564.64 112.57h0M564.76 112.31h0M565.56 112.15h0M565.05 112.03h0M565.92 111.88h0M564.25 111.72h0M565.03 111.55h0M565.79 111.38h0M565.26 111.19h0M565.14 111.05h0M582.18 160.42h0M583.38 157.47h0M582.8 154.62h0M581.59 151.11h0M582.16 148.45h0M582.39 141.85h0M581.98 138.5h0M582.97 132.71h0M581.85 127.42h0M583.07 121.69h0M593.13 159.83h0M593.21 157.46h0M592.38 155.46h0M593.08 154.23h0M592.47 152.99h0M593.21 151.15h0M593.15 149.47h0M592.87 147.73h0M592.54 146.05h0M592.95 144.81h0M592.55 141.86h0M592.39 140.61h0M592.62 139.59h0M593.88 138.55h0M593.14 136.35h0M593.92 135.49h0M592.17 134.49h0M594.03 133.42h0M593.12 132.8h0M593.72 132.01h0M593.28 131.24h0M593.52 129.98h0M592.6 129.23h0M593.64 125.12h0M592.45 122.56h0M592.67 120.65h0M592.2 119.47h0M592.93 116.68h0M609.69 141.71h0M610.06 141.33h0M610.77 140.59h0M611.54 137.88h0M609.65 135.21h0M610.81 130.66h0M610.95 128.14h0M611.2 126.68h0M620.93 155.14h0M621.91 154.58h0M621.46 154.04h0M620.8 151.41h0M620.4 151.03h0M620.76 150.53h0M621.62 149.59h0M621.1 149.06h0M621.54 148.09h0M621.83 147.56h0M620.46 146.85h0M621.59 146.14h0M620.3 144.64h0M621.87 144.28h0M620.59 143.89h0M620.76 143.06h0M622.14 142.52h0M620.94 141.76h0M620.67 141.26h0M622 140.64h0M621.44 140.05h0M622.01 138.72h0M621.01 137.94h0M621.22 137.66h0M622.13 137.39h0M621.23 137.1h0M622.2 136.81h0M620.6 135.84h0M621.88 135.39h0M620.54 135.17h0M621.27 134.88h0M620.22 134.56h0M620.57 134.06h0M622.11 133.47h0M621.13 133.26h0M621.84 132.99h0M620.72 132.47h0M620.92 132.1h0M620.42 131.83h0M621.33 131.55h0M621.94 130.73h0M621.25 129.8h0M620.97 129.62h0M622.08 129.38h0M622.01 129.01h0M621.55 128.76h0M620.37 128.44h0M621.47 128.08h0M621.11 127.88h0M622.14 127.7h0M620.94 127.54h0M621.54 127.12h0M621.48 126.91h0M620.97 126.6h0M621.26 126.34h0M621.57 126.2h0M622.03 126h0M621.22 125.55h0M620.95 125.37h0M622.17 125.24h0M620.33 125.08h0M621.89 124.94h0M621.59 124.77h0M621.33 124.62h0M621.12 124.35h0M621.72 123.86h0M622 123.38h0M621.68 123.06h0M621.72 122.46h0M620.29 122.17h0M620.87 121.83h0M620.49 121.45h0M622.13 121.08h0M622 120.81h0M620.51 120.48h0M621.4 120.02h0M621.37 119.12h0M620.31 118h0M621 117.64h0M621.71 117.37h0M621.5 116.77h0M620.78 116.09h0M621.74 115.74h0M620.8 115.43h0M621.31 115.05h0M621.06 114.4h0M622.18 114h0M621.52 113.66h0M621.83 113.2h0M621.57 112.39h0" stroke="#000" stroke-width="1.45" stroke-linecap="round" fill="none"/><path d="M498.26 116.32h0M526.49 125.32h0M593.16 171.64h0M610.41 108.43h0M621.1 166.83h0" stroke="#000" stroke-width="1.7" stroke-linecap="round" fill="none"/><text x="470.47" y="98.53" font-size="9.15" fill="#000" textLength="9.89" lengthAdjust="spacingAndGlyphs">ns</text><path d="M503.45 98.57L503.45 93.57M500.98 97.49L505.92 94.64M500.98 94.64L505.92 97.49" stroke="#000" stroke-width="0.95" fill="none"/><path d="M524.53 98.57L524.53 93.57M522.06 97.49L527 94.64M522.06 94.64L527 97.49M531.53 98.57L531.53 93.57M529.06 97.49L534 94.64M529.06 94.64L534 97.49M538.53 98.57L538.53 93.57M536.06 97.49L541 94.64M536.06 94.64L541 97.49" stroke="#000" stroke-width="0.95" fill="none"/><path d="M552.61 98.57L552.61 93.57M550.14 97.49L555.08 94.64M550.14 94.64L555.08 97.49M559.61 98.57L559.61 93.57M557.14 97.49L562.08 94.64M557.14 94.64L562.08 97.49M566.61 98.57L566.61 93.57M564.14 97.49L569.08 94.64M564.14 94.64L569.08 97.49" stroke="#000" stroke-width="0.95" fill="none"/><text x="582.79" y="98.53" font-size="9.15" fill="#000" textLength="9.89" lengthAdjust="spacingAndGlyphs">ns</text><text x="610.87" y="98.53" font-size="9.15" fill="#000" textLength="9.89" lengthAdjust="spacingAndGlyphs">ns</text><text x="484.51" y="80.81" font-size="9.15" fill="#000" textLength="9.89" lengthAdjust="spacingAndGlyphs">ns</text><text x="498.55" y="69.79" font-size="9.15" fill="#000" textLength="9.89" lengthAdjust="spacingAndGlyphs">ns</text><text x="512.59" y="58.78" font-size="9.15" fill="#000" textLength="9.89" lengthAdjust="spacingAndGlyphs">ns</text><text x="526.63" y="47.77" font-size="9.15" fill="#000" textLength="9.89" lengthAdjust="spacingAndGlyphs">ns</text><path d="M535.07 36.79L535.07 31.79M532.6 35.72L537.54 32.87M532.6 32.87L537.54 35.72M542.07 36.79L542.07 31.79M539.6 35.72L544.54 32.87M539.6 32.87L544.54 35.72M549.07 36.79L549.07 31.79M546.6 35.72L551.54 32.87M546.6 32.87L551.54 35.72M556.07 36.79L556.07 31.79M553.6 35.72L558.54 32.87M553.6 32.87L558.54 35.72" stroke="#000" stroke-width="0.95" fill="none"/><path d="M475.37 85.54V82.54H503.45V85.54M475.37 74.53V71.53H531.53V74.53M475.37 63.52V60.52H559.61V63.52M475.37 52.51V49.51H587.69V52.51M475.37 41.49V38.49H615.77V41.49" stroke="#333" stroke-width="1.0" fill="none"/><rect x="458.6" y="30.95" width="173.9" height="168.3" fill="none" stroke="#333" stroke-width="0.7"/><rect x="279.3" y="222.8" width="173.65" height="168.3" fill="#fff"/><path d="M279.3 362.05H452.95M279.3 306.85H452.95M279.3 251.65H452.95" stroke="#EBEBEB" stroke-width="0.55" fill="none"/><path d="M279.3 389.65H452.95M279.3 334.45H452.95M279.3 279.25H452.95M279.3 224.05H452.95M295.84 222.8V391.1M323.92 222.8V391.1M352 222.8V391.1M380.08 222.8V391.1M408.16 222.8V391.1M436.24 222.8V391.1" stroke="#EBEBEB" stroke-width="1.07" fill="none"/><text x="322.65" y="217.8" font-size="10" fill="#1a1a1a" textLength="86.8" lengthAdjust="spacingAndGlyphs">OSR, up-regulated</text><path d="M290.64 291.01V305.53M290.64 324.24V348.42" stroke="#222" stroke-width="1.0"/><rect x="286.04" y="305.53" width="9.2" height="18.71" fill="#22C16A" stroke="#333333" stroke-width="1.05"/><path d="M286.04 310.38H295.24" stroke="#333333" stroke-width="2"/><path d="M301.29 292.39V303.48M301.29 318.39V331.8" stroke="#222" stroke-width="1.0"/><rect x="296.69" y="303.48" width="9.2" height="14.9" fill="#FB6A96" stroke="#333333" stroke-width="1.05"/><path d="M296.69 309.28H305.89" stroke="#333333" stroke-width="2"/><path d="M318.72 311.76V328.38M318.72 347.48V360.17" stroke="#222" stroke-width="1.0"/><rect x="314.12" y="328.38" width="9.2" height="19.1" fill="#22C16A" stroke="#333333" stroke-width="1.05"/><path d="M314.12 337.76H323.32" stroke="#333333" stroke-width="2"/><path d="M329.37 297.63V306.52M329.37 337.1V364.31" stroke="#222" stroke-width="1.0"/><rect x="324.77" y="306.52" width="9.2" height="30.58" fill="#FB6A96" stroke="#333333" stroke-width="1.05"/><path d="M324.77 322.86H333.97" stroke="#333333" stroke-width="2"/><path d="M346.8 297.25V313.42M346.8 342.9V365.03" stroke="#222" stroke-width="1.0"/><rect x="342.2" y="313.42" width="9.2" height="29.48" fill="#22C16A" stroke="#333333" stroke-width="1.05"/><path d="M342.2 322.42H351.4" stroke="#333333" stroke-width="2"/><path d="M357.45 293.11V306.52M357.45 330.42V363.65" stroke="#222" stroke-width="1.0"/><rect x="352.85" y="306.52" width="9.2" height="23.9" fill="#FB6A96" stroke="#333333" stroke-width="1.05"/><path d="M352.85 313.42H362.05" stroke="#333333" stroke-width="2"/><path d="M374.88 304.15V323.8M374.88 363.65V372.65" stroke="#222" stroke-width="1.0"/><rect x="370.28" y="323.8" width="9.2" height="39.85" fill="#22C16A" stroke="#333333" stroke-width="1.05"/><path d="M370.28 350.9H379.48" stroke="#333333" stroke-width="2"/><path d="M385.53 296.25V325.18M385.53 363.65V378.17" stroke="#222" stroke-width="1.0"/><rect x="380.93" y="325.18" width="9.2" height="38.47" fill="#FB6A96" stroke="#333333" stroke-width="1.05"/><path d="M380.93 348.86H390.13" stroke="#333333" stroke-width="2"/><path d="M402.96 306.91V326.28M402.96 357.03V368.23" stroke="#222" stroke-width="1.0"/><rect x="398.36" y="326.28" width="9.2" height="30.75" fill="#22C16A" stroke="#333333" stroke-width="1.05"/><path d="M398.36 348.69H407.56" stroke="#333333" stroke-width="2"/><path d="M413.61 318V342.45M413.61 361.83V373.31" stroke="#222" stroke-width="1.0"/><rect x="409.01" y="342.45" width="9.2" height="19.38" fill="#FB6A96" stroke="#333333" stroke-width="1.05"/><path d="M409.01 355.59H418.21" stroke="#333333" stroke-width="2"/><path d="M431.04 337.76V353.38M431.04 364.75V370.55" stroke="#222" stroke-width="1.0"/><rect x="426.44" y="353.38" width="9.2" height="11.37" fill="#22C16A" stroke="#333333" stroke-width="1.05"/><path d="M426.44 359.79H435.64" stroke="#333333" stroke-width="2"/><path d="M441.69 343.56V357.69M441.69 369.45V374.41" stroke="#222" stroke-width="1.0"/><rect x="437.09" y="357.69" width="9.2" height="11.76" fill="#FB6A96" stroke="#333333" stroke-width="1.05"/><path d="M437.09 364.59H446.29" stroke="#333333" stroke-width="2"/><path d="M291 346.04h0M290.47 344.7h0M291.26 343.15h0M289.86 340.53h0M290.25 338.25h0M290.93 336.91h0M291.57 335.68h0M290.91 334.91h0M291.02 333.74h0M291.19 332.19h0M290.43 330.94h0M291.52 329.86h0M291.12 327.2h0M290.32 325.66h0M290.43 324.88h0M291.25 324.02h0M290.34 323.55h0M290.01 322.88h0M291.38 322.39h0M290.7 321.66h0M290.68 320.97h0M290.98 320.21h0M291.44 319.71h0M289.91 319.2h0M290.32 318.59h0M289.77 317.43h0M290.47 316.82h0M290.64 316.13h0M291.34 315.14h0M290.98 314.64h0M290.8 313.97h0M290.45 312.31h0M290.79 311.55h0M290.19 310.56h0M291.33 309.85h0M291.22 309.57h0M291.32 309.23h0M289.94 308.98h0M290.98 308.75h0M291.15 308.51h0M290.64 307.83h0M291.44 307.61h0M291.44 307.13h0M291.13 306.78h0M291.28 306.45h0M290.94 306.02h0M291.4 305.73h0M289.9 305.56h0M291.05 305.09h0M291.05 304.22h0M290.86 303.56h0M290.19 302.67h0M289.77 301.28h0M290.85 300.8h0M291.29 300.05h0M290.19 298.42h0M290.07 297.06h0M290.09 296.35h0M289.83 295.25h0M290.99 294.68h0M291.59 293.7h0M291.24 293.22h0M290.36 292.75h0M291.04 292.19h0M301.06 331.59h0M301.91 331.09h0M301.97 330.63h0M300.56 330.19h0M300.32 329.89h0M300.72 329.41h0M301.46 329.04h0M301.05 328.4h0M300.31 328.06h0M301.95 327.81h0M301.86 327.35h0M301.22 326.28h0M300.38 325.92h0M302.07 325.62h0M301.36 325.33h0M300.43 324.61h0M300.94 324.22h0M301.54 323.85h0M302.06 323.2h0M301.26 322.7h0M301.57 322.15h0M300.7 321.51h0M300.78 321.15h0M302.1 320.84h0M301.06 320.58h0M300.5 320.12h0M301.47 319.79h0M300.54 319.54h0M300.69 319.07h0M301.2 318.65h0M301.46 318.37h0M301.56 317.74h0M301.7 317.36h0M301.17 317.16h0M300.43 316.82h0M301.74 316.52h0M300.4 315.94h0M301.23 315.42h0M301.09 315.18h0M301.64 314.98h0M301.72 314.65h0M300.77 314.46h0M301.59 314.05h0M301.67 313.88h0M301.23 312.9h0M300.57 312.69h0M302.11 312.14h0M301.49 311.74h0M300.42 311.55h0M300.77 311.25h0M302.26 310.94h0M300.75 310.76h0M301.07 310.59h0M301.87 310.13h0M301.94 309.88h0M301.56 309.68h0M301.77 309.12h0M300.37 308.98h0M300.48 308.83h0M302.24 308.67h0M301.9 308.33h0M300.37 308.02h0M300.39 307.85h0M300.77 307.71h0M302.15 307.55h0M300.73 307.25h0M301.63 307.1h0M302.15 306.53h0M301.57 306.42h0M302.13 306.31h0M300.82 306.2h0M300.6 306.08h0M300.33 305.39h0M301.8 305.07h0M300.5 304.93h0M302.24 304.77h0M301.71 304.65h0M300.66 304.44h0M301.9 304.3h0M300.62 304.19h0M301.31 304.07h0M300.5 303.87h0M301.86 303.72h0M302.07 303.48h0M302.12 302.62h0M300.29 302.41h0M301.99 301.87h0M301.4 301.64h0M301.93 301.23h0M301.29 301.02h0M301.53 300.76h0M301.48 300.53h0M301.89 300.04h0M300.45 299.72h0M300.4 299.27h0M301.38 299.05h0M300.87 298.31h0M301.08 298.02h0M300.31 297.13h0M301.78 296.71h0M300.34 296.45h0M301.95 296.06h0M301.91 295.3h0M301.21 295.03h0M300.53 294.54h0M301.59 294.09h0M300.7 293.72h0M301.15 293.39h0M300.51 293.1h0M302.24 292.88h0M301.38 292.58h0M319.19 359.2h0M319.31 355.89h0M319.55 353.32h0M319.39 350.87h0M319.15 343.81h0M317.78 341.66h0M319.08 339.19h0M319.42 336.49h0M318.58 335.18h0M319.48 333.92h0M318.08 332.04h0M319.61 330.04h0M318.6 326.93h0M319.13 324.64h0M318.23 317.66h0M318.32 313.51h0M330.3 362.48h0M328.55 357.06h0M328.79 355.12h0M328.94 350.66h0M330.18 345.47h0M328.4 343.04h0M328.89 340.32h0M329.8 336.93h0M330.35 335.89h0M328.72 335.04h0M329.25 333.75h0M329.74 332.49h0M329.75 330.6h0M329.86 329.73h0M329.88 328.14h0M328.87 324.9h0M328.88 324.14h0M328.43 323.26h0M329.75 322.44h0M328.79 318.71h0M328.89 317.12h0M330.3 316.15h0M329.66 314.14h0M329.55 311.25h0M329.68 310.1h0M329.57 308.99h0M329.76 308.01h0M328.98 306.53h0M328.5 305.52h0M328.5 304.86h0M328.4 303.53h0M329.09 303.01h0M328.65 302.13h0M328.6 301.54h0M329.36 300.89h0M330.31 300.33h0M329.75 299.38h0M328.92 298.66h0M329.91 297.96h0M347.77 363.81h0M346.57 361.3h0M347.1 356.88h0M346.94 355.2h0M346.25 353.48h0M345.93 349.97h0M345.83 347.76h0M347.51 345.3h0M346.06 343.6h0M347.73 341.7h0M346.53 338.75h0M347.25 335.18h0M346.08 332.67h0M347.38 329.61h0M346.3 325.41h0M346.53 322.48h0M346.85 319.24h0M346.02 317.3h0M346.3 316.62h0M347.39 315.81h0M346.37 314.83h0M346.56 313.49h0M347.33 309.98h0M346.25 307.98h0M346.19 306.71h0M346.24 304.82h0M346.57 302.05h0M346.53 300.01h0M357.27 363.38h0M358.23 362.16h0M357.77 361.53h0M358.17 360.34h0M358.36 359.72h0M356.99 358.89h0M358.33 357.94h0M357.27 356.46h0M356.55 355.52h0M358.28 354.28h0M356.66 353.53h0M356.49 352.82h0M357.03 351.81h0M357.03 351.23h0M358.38 350.01h0M358.19 348.41h0M357.29 347.52h0M357.51 346.88h0M358.15 346.33h0M358.06 345.73h0M357.76 345.16h0M357.48 343.55h0M356.68 343h0M356.94 342.3h0M357.77 341.49h0M357.62 340.7h0M358.05 339.33h0M358.25 338.46h0M358.37 337.74h0M356.84 337.02h0M356.6 336.1h0M358.25 335.47h0M357.59 334.31h0M356.81 333.11h0M357.83 332.37h0M356.96 331.39h0M356.92 330.61h0M357.18 330.24h0M357.5 329.79h0M357.8 329.4h0M356.6 329.11h0M357.93 328.72h0M357.7 328.38h0M357.39 328.08h0M357.79 327.82h0M358.05 327.54h0M356.47 327.11h0M357.4 326.82h0M357.81 325.97h0M357.87 325.45h0M357.75 323.41h0M356.81 323.01h0M358.37 322.02h0M358.02 321.15h0M356.92 320.88h0M357.31 320.4h0M358.37 319.93h0M356.86 318.71h0M357.27 318.28h0M358.37 316.95h0M358.25 316.67h0M356.91 316.37h0M357.92 315.69h0M357.17 315.41h0M357.78 315.11h0M357.98 314.76h0M356.71 314.39h0M356.9 314.09h0M356.88 313.55h0M356.98 313.35h0M356.52 313.22h0M356.72 313.05h0M357.26 312.91h0M357.29 312.77h0M356.61 312.52h0M357.61 312.32h0M358.33 312.04h0M357.6 311.89h0M357.16 311.68h0M357.86 311.54h0M357.32 311.26h0M356.8 310.91h0M357.41 310.71h0M356.49 310.59h0M357.8 310.23h0M356.77 310.09h0M357.19 309.96h0M358.37 309.68h0M357.98 309.48h0M358.12 309.33h0M357.73 309.04h0M357.72 308.65h0M357.86 308.41h0M358.38 308.28h0M356.84 308.04h0M357.98 307.92h0M357.05 307.75h0M356.96 307.5h0M358.09 306.94h0M357.65 306.83h0M358.15 306.4h0M358.2 305.95h0M357.63 305.74h0M356.85 305.44h0M356.48 305.1h0M357.52 303.43h0M357.9 302.57h0M356.99 302.2h0M356.59 301.93h0M356.46 301.16h0M356.8 300.94h0M357.84 300.55h0M356.46 300.21h0M356.91 299.99h0M356.98 299.35h0M357.87 298.74h0M358.42 298.5h0M356.49 297.72h0M356.68 297.18h0M358.32 296.9h0M358.39 296.58h0M356.75 296.32h0M357.12 296.04h0M357.49 295.83h0M357.09 295.31h0M357.28 295.07h0M357.41 294.83h0M356.97 294.05h0M356.56 293.63h0M356.62 293.22h0M373.98 371.94h0M374.91 371.28h0M374.18 370.91h0M375.74 370.01h0M375.63 369.64h0M374.8 369.33h0M374.28 368.79h0M374.12 367.95h0M374.89 367.37h0M374.92 367.01h0M374.61 366.16h0M375.31 365.81h0M374.94 365.49h0M375.43 364.98h0M374.09 364.39h0M374.02 364h0M374.65 363.65h0M374.85 363.19h0M374.39 362.52h0M375.22 361.66h0M374.32 361.18h0M374.52 360.71h0M374.83 359.58h0M375.3 358.68h0M375.42 358.22h0M374.62 357.7h0M374.77 356.61h0M375.74 355.08h0M375.75 353.69h0M375.12 351.53h0M374.09 349.1h0M374.79 346.74h0M375.15 345.6h0M374.44 343.76h0M373.95 342.67h0M375.84 340.54h0M375.7 339.35h0M374.14 337.42h0M374.81 336.21h0M375.12 334.09h0M374.48 333.15h0M374.02 330.76h0M375.38 329.79h0M375.42 328.09h0M374.75 326.74h0M374.05 325.81h0M374.67 324.69h0M374.07 323.68h0M375.81 323.03h0M373.98 322.21h0M374.46 319.9h0M375.42 318.47h0M374.15 317.81h0M374.09 317.06h0M374.02 316.31h0M374.21 315.47h0M374.94 314.75h0M375.55 313.2h0M374.22 309.61h0M374.23 307.9h0M375.41 306.09h0M385.27 377.96h0M385.31 377.84h0M385.26 377.62h0M386.36 377.15h0M385.61 376.98h0M385.08 376.86h0M385.19 376.53h0M386.17 376.05h0M384.85 375.82h0M385.91 375.28h0M384.57 375.13h0M384.92 375h0M384.65 374.83h0M386.14 374.39h0M384.82 374.26h0M384.99 373.99h0M384.65 373.89h0M385.06 373.56h0M386 373.3h0M385.97 373.17h0M386.35 372.98h0M386.42 372.74h0M385.63 372.59h0M386.37 372.31h0M384.71 372.17h0M386.38 371.94h0M385.4 371.72h0M384.92 371.47h0M386.03 371.28h0M386.25 371.15h0M385.3 371.04h0M384.72 370.92h0M386.28 370.8h0M386.04 370.61h0M385.72 370.41h0M386.48 370.05h0M384.61 369.93h0M384.64 369.63h0M384.78 369.42h0M384.57 369.25h0M385.95 368.95h0M385.79 368.83h0M384.75 368.72h0M384.85 368.53h0M384.89 368.42h0M385.75 368.16h0M385.87 368.05h0M386.47 367.82h0M385.25 367.71h0M386.49 367.6h0M385.4 367.42h0M385.31 367.32h0M385.04 367.07h0M385 366.95h0M386.48 366.68h0M386.52 366.45h0M385.94 366.34h0M384.88 366.15h0M384.89 365.91h0M384.83 365.81h0M385.23 365.43h0M386 365.17h0M384.65 365.02h0M385.59 364.91h0M385.89 364.73h0M384.6 364.59h0M385.41 364.38h0M386.11 364.23h0M385.68 364.12h0M385.43 363.92h0M386.29 363.81h0M385.73 363.68h0M385.2 363.42h0M385.32 363.13h0M386.42 362.93h0M386.25 362.46h0M386.36 362.08h0M385.65 361.87h0M384.81 361.73h0M384.88 361.44h0M385.3 361.29h0M385.91 361.06h0M384.54 360.8h0M386.13 360.65h0M386.1 360.43h0M385.56 360.33h0M384.54 360.18h0M386.13 359.97h0M385.36 359.77h0M385.87 359.66h0M385.67 359.52h0M385.99 359.39h0M385.35 359.28h0M386.45 359.16h0M386.44 359.06h0M386.39 358.95h0M385.76 358.82h0M385.16 358.61h0M385.28 358.38h0M385.07 358.22h0M386.34 358.09h0M386.11 357.96h0M386.11 357.85h0M386.17 357.69h0M386.51 357.44h0M385.91 357.32h0M385.17 357.19h0M386.05 357.09h0M385.05 356.92h0M385.75 356.82h0M384.85 356.46h0M386.25 356.26h0M385.51 356.09h0M385.08 355.99h0M386.38 355.7h0M384.7 355.46h0M386.39 355.07h0M386.04 354.97h0M384.83 354.85h0M386.05 354.72h0M385.68 354.43h0M386.34 354.31h0M385.7 354.04h0M385.38 353.88h0M386.4 353.73h0M384.7 353.53h0M386.08 353.39h0M384.74 353.27h0M385.08 353.07h0M384.76 352.88h0M386.27 352.78h0M385.41 352.65h0M385.98 352.36h0M385.04 352.18h0M385.99 351.7h0M385.83 351.47h0M384.73 351.31h0M385.52 351.12h0M385.97 350.93h0M384.96 350.8h0M385.84 350.67h0M385.09 350.54h0M385.27 350.4h0M386.37 350.18h0M386.42 350h0M386.53 349.9h0M385.38 349.68h0M385.67 349.51h0M386.15 349.13h0M386.05 348.9h0M385.44 348.66h0M386.26 348.4h0M385.33 347.95h0M386.43 347.68h0M385.48 347.36h0M384.77 347.11h0M386.03 346.71h0M384.82 346.16h0M385.89 345.66h0M384.64 345.14h0M386.51 344.94h0M385.61 344.7h0M386.01 344.45h0M384.79 344.16h0M385.8 343.73h0M385.28 343.52h0M385.03 342.82h0M386.16 342.62h0M384.6 342.39h0M385.49 341.73h0M384.7 341.48h0M386.23 341.2h0M386.32 341h0M384.6 340.79h0M385.46 340.15h0M385.47 339.96h0M385.97 339.75h0M385.99 339.47h0M385.22 339.19h0M386.4 338.6h0M384.9 337.89h0M384.8 337.68h0M386.16 337.46h0M384.77 337.14h0M384.9 336.84h0M385.53 336.66h0M385.2 335.87h0M384.86 335.55h0M386.39 335.07h0M385.48 334.78h0M386.1 334.49h0M385.03 333.93h0M386.36 333.75h0M384.97 333.58h0M386.34 332.8h0M385.76 332.4h0M386.47 331.98h0M386.07 331.42h0M385.79 331.23h0M385.6 331h0M386.24 330.65h0M385.42 330.45h0M384.73 330.27h0M386.36 329.95h0M386.14 329.45h0M385.89 329.28h0M386.02 328.94h0M384.99 328.71h0M385.46 328.54h0M386.18 328.33h0M386.45 327.91h0M386.38 327.73h0M384.85 327.42h0M385.9 327.24h0M385.64 327.08h0M385.34 326.75h0M384.87 326.56h0M384.8 326.13h0M385.47 325.94h0M385.52 325.59h0M385.07 325.25h0M385.27 324.89h0M385.64 323.79h0M386.05 323.56h0M385.71 323.19h0M384.85 322.83h0M386.3 322.51h0M385.27 322.08h0M386.45 321.81h0M386.49 321.6h0M384.81 321.19h0M385.69 320.93h0M386.46 320.7h0M385.3 320.45h0M385.62 320.21h0M385.16 319.51h0M384.59 319.29h0M384.94 318.78h0M384.78 318.5h0M385.1 318.3h0M385.79 318.04h0M385.66 317.41h0M386.43 316.69h0M385.9 316.42h0M385.25 315.99h0M386.43 315.56h0M385.8 315.33h0M385.62 315.08h0M386.26 314.77h0M385.87 314.41h0M385.25 313.72h0M385.74 313.45h0M385.13 313.02h0M386.47 312.75h0M385.02 312.54h0M386.48 312.12h0M384.66 311.65h0M384.55 311.36h0M385.64 311.02h0M384.94 310.58h0M385.54 310.13h0M384.77 309.77h0M386.2 309.55h0M385.87 309.22h0M385.9 308.96h0M386.38 308.72h0M386.51 308.52h0M385.89 308.28h0M385.96 307.87h0M384.53 307.67h0M384.63 307.17h0M385.38 306.94h0M386.47 306.51h0M385.16 306.01h0M385.67 305.78h0M384.55 305.37h0M385.36 305.12h0M386.34 304.68h0M385.71 304.46h0M386.18 304.1h0M384.56 303.58h0M384.94 303.05h0M384.89 302.82h0M386.19 302.62h0M384.73 302.17h0M386.39 301.82h0M385.06 301.51h0M386.29 301.27h0M385.56 300.99h0M385.18 300.78h0M386.46 300.5h0M385.34 300.28h0M385.92 299.61h0M384.66 299.14h0M386.19 298.87h0M386.49 297.66h0M384.75 297.47h0M386.02 297.17h0M385.07 296.68h0M384.83 296.35h0M402.68 363.5h0M403.76 356.79h0M402.47 352h0M402.24 349.14h0M402.28 344.06h0M402.26 339.2h0M403.14 331.84h0M403.56 318.39h0M402.28 312.97h0M402.97 309.08h0M412.79 372.55h0M413.91 370.75h0M413.46 369.66h0M413.23 368.55h0M413.63 367.49h0M414.48 364.65h0M413.1 362.87h0M412.92 361.77h0M413.22 361.27h0M413.26 360.82h0M414.43 359.25h0M414.02 358.76h0M413.47 357.66h0M412.94 356.9h0M412.7 356.33h0M412.85 355.43h0M414.3 353.84h0M413.91 352.23h0M412.92 350.22h0M413.86 348.84h0M412.73 347.54h0M413.62 345.82h0M413.28 343.15h0M412.81 337.75h0M414.09 335.6h0M414.04 330.98h0M413.63 328.7h0M412.95 322.61h0M431.41 369.78h0M432.03 367.36h0M430.71 365.87h0M430.57 363.4h0M431.38 361.92h0M430.49 358.69h0M430.84 353.72h0M431.42 342.76h0M442.11 374.32h0M442.33 374.21h0M441.66 373.72h0M442.15 373.58h0M441.12 373.38h0M441.59 373.11h0M441.41 372.79h0M441.3 372.59h0M441.41 372.35h0M442.2 372.22h0M442.16 371.99h0M441.1 371.74h0M441.16 371.49h0M442.26 371.38h0M442 370.97h0M442.04 370.78h0M441.96 370.64h0M442.08 370.27h0M441.24 369.9h0M440.81 369.52h0M441.41 369.4h0M440.75 369.29h0M442.61 369.05h0M441.74 368.93h0M442.03 368.57h0M442.62 368.42h0M442.3 368.17h0M441.15 367.96h0M441.36 367.79h0M440.91 367.56h0M442.28 367.38h0M442.16 367.26h0M441.67 367.1h0M441.43 366.78h0M441.23 366.51h0M441.66 366.29h0M442.11 366.11h0M442.48 365.66h0M442.39 365.46h0M442.43 365.34h0M441.57 365.19h0M441.53 365.01h0M441.32 364.84h0M442.64 364.72h0M441.06 364.61h0M441.01 364.37h0M441.25 364.21h0M442.53 363.97h0M442.4 363.79h0M441.35 363.46h0M442.39 363.15h0M442.47 362.68h0M441.54 362.36h0M441.07 362.14h0M442.24 361.92h0M441.44 361.76h0M440.93 360.94h0M442.5 360.68h0M441.57 360.25h0M441.48 360.02h0M441.88 359.85h0M441.2 359.5h0M440.73 359.21h0M441.47 359.03h0M441.45 358.79h0M440.71 358.52h0M441.43 358.32h0M442.21 358.15h0M441.36 357.91h0M442.05 357.71h0M441.94 356.18h0M441.07 355.56h0M440.73 355.1h0M442.04 354.37h0M441.91 353.83h0M441.28 353.35h0M441.09 351.62h0M442.4 351.3h0M442.51 350.79h0M441.16 350.4h0M441.86 349.12h0M441.84 348.49h0M441.33 348.02h0M440.76 347.47h0M441.34 346.76h0M441.98 345.84h0M441.89 345.33h0M441.71 344.96h0M440.93 344.29h0M441.12 343.82h0" stroke="#000" stroke-width="1.45" stroke-linecap="round" fill="none"/><path d="M290.21 354.38h0M301.14 341.63h0M300.88 345.49h0M301.52 349.91h0M301.64 353.77h0M301.64 357.63h0M300.89 362.05h0M301.16 366.47h0M301.09 371.43h0M357.11 367.57h0M357.04 370.33h0M357.57 372.54h0M357.65 374.03h0M413.78 306.24h0M413.54 312.48h0M441.5 305.75h0M441.61 315.13h0M441.55 322.31h0M442.09 323.41h0M441.31 326.72h0M442.18 335.55h0M441.43 338.31h0" stroke="#000" stroke-width="1.7" stroke-linecap="round" fill="none"/><text x="290.94" y="290.38" font-size="9.15" fill="#000" textLength="9.89" lengthAdjust="spacingAndGlyphs">ns</text><path d="M320.42 290.42L320.42 285.42M317.95 289.34L322.89 286.49M317.95 286.49L322.89 289.34M327.42 290.42L327.42 285.42M324.95 289.34L329.89 286.49M324.95 286.49L329.89 289.34" stroke="#000" stroke-width="0.95" fill="none"/><path d="M352 290.42L352 285.42M349.53 289.34L354.47 286.49M349.53 286.49L354.47 289.34" stroke="#000" stroke-width="0.95" fill="none"/><text x="375.18" y="290.38" font-size="9.15" fill="#000" textLength="9.89" lengthAdjust="spacingAndGlyphs">ns</text><text x="403.26" y="290.38" font-size="9.15" fill="#000" textLength="9.89" lengthAdjust="spacingAndGlyphs">ns</text><text x="431.34" y="290.38" font-size="9.15" fill="#000" textLength="9.89" lengthAdjust="spacingAndGlyphs">ns</text><path d="M299.38 272.69L299.38 267.69M296.91 271.62L301.85 268.77M296.91 268.77L301.85 271.62M306.38 272.69L306.38 267.69M303.91 271.62L308.85 268.77M303.91 268.77L308.85 271.62M313.38 272.69L313.38 267.69M310.91 271.62L315.85 268.77M310.91 268.77L315.85 271.62M320.38 272.69L320.38 267.69M317.91 271.62L322.85 268.77M317.91 268.77L322.85 271.62" stroke="#000" stroke-width="0.95" fill="none"/><path d="M316.92 261.68L316.92 256.68M314.45 260.61L319.39 257.75M314.45 257.75L319.39 260.61M323.92 261.68L323.92 256.68M321.45 260.61L326.39 257.75M321.45 257.75L326.39 260.61M330.92 261.68L330.92 256.68M328.45 260.61L333.39 257.75M328.45 257.75L333.39 260.61" stroke="#000" stroke-width="0.95" fill="none"/><path d="M327.46 250.67L327.46 245.67M324.99 249.59L329.93 246.74M324.99 246.74L329.93 249.59M334.46 250.67L334.46 245.67M331.99 249.59L336.93 246.74M331.99 246.74L336.93 249.59M341.46 250.67L341.46 245.67M338.99 249.59L343.93 246.74M338.99 246.74L343.93 249.59M348.46 250.67L348.46 245.67M345.99 249.59L350.93 246.74M345.99 246.74L350.93 249.59" stroke="#000" stroke-width="0.95" fill="none"/><path d="M341.5 239.66L341.5 234.66M339.03 238.58L343.97 235.73M339.03 235.73L343.97 238.58M348.5 239.66L348.5 234.66M346.03 238.58L350.97 235.73M346.03 235.73L350.97 238.58M355.5 239.66L355.5 234.66M353.03 238.58L357.97 235.73M353.03 235.73L357.97 238.58M362.5 239.66L362.5 234.66M360.03 238.58L364.97 235.73M360.03 235.73L364.97 238.58" stroke="#000" stroke-width="0.95" fill="none"/><path d="M355.54 228.64L355.54 223.64M353.07 227.57L358.01 224.72M353.07 224.72L358.01 227.57M362.54 228.64L362.54 223.64M360.07 227.57L365.01 224.72M360.07 224.72L365.01 227.57M369.54 228.64L369.54 223.64M367.07 227.57L372.01 224.72M367.07 224.72L372.01 227.57M376.54 228.64L376.54 223.64M374.07 227.57L379.01 224.72M374.07 224.72L379.01 227.57" stroke="#000" stroke-width="0.95" fill="none"/><path d="M295.84 277.39V274.39H323.92V277.39M295.84 266.38V263.38H352V266.38M295.84 255.37V252.37H380.08V255.37M295.84 244.36V241.36H408.16V244.36M295.84 233.34V230.34H436.24V233.34" stroke="#333" stroke-width="1.0" fill="none"/><rect x="279.3" y="222.8" width="173.65" height="168.3" fill="none" stroke="#333" stroke-width="0.7"/><text x="265.84" y="393.03" font-size="9.46" fill="#4D4D4D" textLength="8.7" lengthAdjust="spacingAndGlyphs">-1</text><text x="269.34" y="337.83" font-size="9.46" fill="#4D4D4D" textLength="5.33" lengthAdjust="spacingAndGlyphs">0</text><text x="269.41" y="282.63" font-size="9.46" fill="#4D4D4D" textLength="5.1" lengthAdjust="spacingAndGlyphs">1</text><text x="269.31" y="227.43" font-size="9.46" fill="#4D4D4D" textLength="5.14" lengthAdjust="spacingAndGlyphs">2</text><path d="M276 389.65H279.3M276 334.45H279.3M276 279.25H279.3M276 224.05H279.3" stroke="#333" stroke-width="0.9"/><rect x="458.6" y="222.8" width="173.9" height="168.3" fill="#fff"/><path d="M458.6 362.05H632.5M458.6 306.85H632.5M458.6 251.65H632.5" stroke="#EBEBEB" stroke-width="0.55" fill="none"/><path d="M458.6 389.65H632.5M458.6 334.45H632.5M458.6 279.25H632.5M458.6 224.05H632.5M475.37 222.8V391.1M503.45 222.8V391.1M531.53 222.8V391.1M559.61 222.8V391.1M587.69 222.8V391.1M615.77 222.8V391.1" stroke="#EBEBEB" stroke-width="1.07" fill="none"/><text x="495.32" y="217.8" font-size="10" fill="#1a1a1a" textLength="100.32" lengthAdjust="spacingAndGlyphs">OSR, down-regulated</text><path d="M470.17 305.53V336.66M470.17 354.21V371.93" stroke="#222" stroke-width="1.0"/><rect x="465.57" y="336.66" width="9.2" height="17.55" fill="#22C16A" stroke="#333333" stroke-width="1.05"/><path d="M465.57 346.76H474.77" stroke="#333333" stroke-width="2"/><path d="M480.82 297.91V326.56M480.82 351.45V371.54" stroke="#222" stroke-width="1.0"/><rect x="476.22" y="326.56" width="9.2" height="24.9" fill="#FB6A96" stroke="#333333" stroke-width="1.05"/><path d="M476.22 338.76H485.42" stroke="#333333" stroke-width="2"/><path d="M498.25 333.18V347.04M498.25 368.07V373.31" stroke="#222" stroke-width="1.0"/><rect x="493.65" y="347.04" width="9.2" height="21.03" fill="#22C16A" stroke="#333333" stroke-width="1.05"/><path d="M493.65 357.41H502.85" stroke="#333333" stroke-width="2"/><path d="M508.9 301.83V317.72M508.9 357.14V369.61" stroke="#222" stroke-width="1.0"/><rect x="504.3" y="317.72" width="9.2" height="39.41" fill="#FB6A96" stroke="#333333" stroke-width="1.05"/><path d="M504.3 341.52H513.5" stroke="#333333" stroke-width="2"/><path d="M526.33 318.39V347.04M526.33 365.42V374.03" stroke="#222" stroke-width="1.0"/><rect x="521.73" y="347.04" width="9.2" height="18.38" fill="#22C16A" stroke="#333333" stroke-width="1.05"/><path d="M521.73 360.45H530.93" stroke="#333333" stroke-width="2"/><path d="M536.98 302.1V324.62M536.98 357.14V375.68" stroke="#222" stroke-width="1.0"/><rect x="532.38" y="324.62" width="9.2" height="32.51" fill="#FB6A96" stroke="#333333" stroke-width="1.05"/><path d="M532.38 347.04H541.58" stroke="#333333" stroke-width="2"/><path d="M554.41 299.29V329.48M554.41 363.65V373.59" stroke="#222" stroke-width="1.0"/><rect x="549.81" y="329.48" width="9.2" height="34.17" fill="#22C16A" stroke="#333333" stroke-width="1.05"/><path d="M549.81 347.04H559.01" stroke="#333333" stroke-width="2"/><path d="M565.06 296.25V312.48M565.06 350.51V374.69" stroke="#222" stroke-width="1.0"/><rect x="560.46" y="312.48" width="9.2" height="38.03" fill="#FB6A96" stroke="#333333" stroke-width="1.05"/><path d="M560.46 330.42H569.66" stroke="#333333" stroke-width="2"/><path d="M582.49 314.52V325.62M582.49 349.41V362.27" stroke="#222" stroke-width="1.0"/><rect x="577.89" y="325.62" width="9.2" height="23.79" fill="#22C16A" stroke="#333333" stroke-width="1.05"/><path d="M577.89 341.9H587.09" stroke="#333333" stroke-width="2"/><path d="M593.14 296.25V308.56M593.14 325.62V337.38" stroke="#222" stroke-width="1.0"/><rect x="588.54" y="308.56" width="9.2" height="17.06" fill="#FB6A96" stroke="#333333" stroke-width="1.05"/><path d="M588.54 315.52H597.74" stroke="#333333" stroke-width="2"/><path d="M610.57 293.77V303.48M610.57 314.52V327" stroke="#222" stroke-width="1.0"/><rect x="605.97" y="303.48" width="9.2" height="11.04" fill="#22C16A" stroke="#333333" stroke-width="1.05"/><path d="M605.97 309H615.17" stroke="#333333" stroke-width="2"/><path d="M621.22 293.11V300.94M621.22 313.86V331.8" stroke="#222" stroke-width="1.0"/><rect x="616.62" y="300.94" width="9.2" height="12.92" fill="#FB6A96" stroke="#333333" stroke-width="1.05"/><path d="M616.62 307.9H625.82" stroke="#333333" stroke-width="2"/><path d="M469.49 371.58h0M470.49 369.75h0M470.5 368.62h0M470.06 367h0M469.98 366.22h0M469.64 365.66h0M470.75 365.02h0M470.08 364.07h0M470.83 363.17h0M469.92 360.67h0M470.64 358.69h0M469.23 358.03h0M469.61 356.94h0M471.09 355.82h0M470.53 354.69h0M470.52 354.04h0M470.16 353.59h0M470.11 353.28h0M469.57 352.47h0M469.52 352.23h0M470.46 351.89h0M470.56 351.61h0M469.69 351.09h0M470.46 350.81h0M469.44 350.46h0M470.4 350.22h0M469.51 349.95h0M470.19 349.64h0M469.8 349.36h0M470.27 349.02h0M469.44 348.57h0M470.14 348.11h0M470.4 347.65h0M469.44 347.3h0M469.79 346.74h0M470.53 346.08h0M470.26 345.47h0M470.4 344.87h0M470.73 344.49h0M470.31 344.07h0M469.61 343.43h0M470.06 342.78h0M470.83 342.17h0M470.3 341.37h0M470.68 340.49h0M469.9 339.97h0M470.07 339.02h0M471.11 337.79h0M470.81 336h0M470.48 333.57h0M469.38 332.49h0M470.39 330.36h0M469.24 329.19h0M471.04 327.54h0M471.11 324.6h0M470.63 323.45h0M469.71 321.75h0M470.86 320.49h0M469.52 318.5h0M470.83 312.69h0M470.21 311.61h0M469.2 309.09h0M470.95 307.79h0M470.05 306.45h0M480.83 371.29h0M481.49 369.96h0M479.85 369.57h0M481.68 367.62h0M480.22 367.02h0M479.9 365.88h0M481.36 365.4h0M480.96 364.78h0M480.9 363.61h0M480.26 363.06h0M481.38 361.98h0M480.43 361.4h0M481.27 361.03h0M480.28 360.46h0M480.97 359.88h0M481.12 358.58h0M480.56 357.97h0M480.78 357.58h0M479.95 356.94h0M481.11 356.53h0M481.2 355.96h0M480.13 355.33h0M480.92 354.67h0M481.29 354.29h0M480.02 353.79h0M481.5 353.31h0M481.56 352.8h0M479.92 351.63h0M480.32 351.18h0M479.99 350.39h0M480.33 350.09h0M479.99 349.81h0M480.8 349.57h0M480.32 349.07h0M480.42 348.83h0M480.74 347.48h0M480.56 347.19h0M481.4 346.75h0M481.27 346.37h0M480.05 346.05h0M480.27 345.53h0M479.84 345.08h0M480.48 344.57h0M480.04 344.14h0M481.21 343.66h0M481.38 343.28h0M481.81 342.42h0M480.24 342.18h0M479.89 341.89h0M481.33 341.65h0M480.64 341.02h0M481.68 340.58h0M480.6 340.16h0M480.44 339.85h0M479.97 339.43h0M481.72 338.72h0M480.84 338.37h0M480.7 338.08h0M480.69 337.86h0M481.36 337.27h0M481.48 336.86h0M480.77 336.52h0M480.18 335.94h0M480.63 335.72h0M481.6 334.89h0M480.64 334.64h0M481.14 333.86h0M480.94 333.38h0M480.74 332.87h0M480.97 332.6h0M480.31 332.15h0M480.93 331.38h0M481.55 330.79h0M479.98 330.45h0M480.56 329.98h0M481.58 329.6h0M481.78 329.28h0M479.85 328.49h0M481.07 328.04h0M481.08 327.82h0M481.51 327.29h0M480.76 327.06h0M480.08 326.63h0M480.42 324.87h0M481.25 323.84h0M481.28 323.31h0M480.23 322.76h0M481.11 321.74h0M481.13 321.06h0M481.14 319.85h0M479.86 319.24h0M480.7 318.56h0M480.47 317.19h0M481.01 316.64h0M480.49 316.09h0M480.08 313.82h0M481.16 313.27h0M480.39 312.74h0M481.4 312.01h0M480.43 311.29h0M480.91 310.44h0M481.44 308.62h0M480.05 307.72h0M481.28 306.45h0M479.96 305.84h0M481.69 305.04h0M479.87 304.44h0M481.27 302.42h0M480.56 301.83h0M480.18 301.18h0M480.61 298.75h0M497.47 371.7h0M497.33 369.94h0M498.15 368.75h0M499 367.66h0M497.66 365.87h0M498.13 363.23h0M498.78 361.69h0M497.8 359.89h0M497.56 358.13h0M498.29 355.44h0M498.1 353.7h0M499.13 349.84h0M499.04 346.02h0M497.73 342.15h0M498.37 336.69h0M498.08 334.91h0M508.46 368.9h0M508.89 368.17h0M508.27 366.84h0M508.77 365.8h0M508.46 365.14h0M509.07 364.06h0M508.5 363.2h0M508.45 362.38h0M509.18 361.67h0M508.07 360.81h0M509.5 359.74h0M508.89 358.84h0M508.36 357.85h0M508.13 355.87h0M508.92 354.19h0M508.91 352.81h0M509.34 351.67h0M508.65 349.32h0M508.72 348.48h0M509.69 345.41h0M508.45 343.58h0M509.86 342.51h0M509.69 340.5h0M509.88 337.9h0M509.79 334.57h0M508.41 330.1h0M509.53 328.81h0M509.12 327.11h0M508.31 321.32h0M509.9 319.31h0M509.2 317.82h0M509.52 316.81h0M509.02 315.32h0M508.06 312h0M509.63 310.6h0M508.25 309.03h0M508.42 306.55h0M509.13 305.46h0M508.29 304h0M526.82 372.98h0M526.76 371.45h0M527.21 370.69h0M527 368.64h0M527.09 367.97h0M525.87 366.5h0M526.9 364.36h0M526.28 363.84h0M525.95 363.37h0M526.07 362.79h0M526.93 362.06h0M527.02 361.68h0M527.02 361.22h0M526.67 360.47h0M525.67 358.1h0M525.64 355h0M526.47 354.02h0M525.75 352.79h0M526 351.11h0M525.53 349.92h0M525.64 348.49h0M526.76 346.56h0M525.78 342.39h0M527.03 336.81h0M525.99 328.45h0M527.03 325.79h0M525.94 323.47h0M525.86 319.84h0M537.77 375.53h0M536.48 374.81h0M537.13 374.52h0M536.74 374.22h0M536.57 373.93h0M537.5 373.45h0M537.21 373.05h0M536.64 372.64h0M537.07 371.56h0M537.84 370.92h0M537.11 370.26h0M537.81 369.58h0M537.11 368.64h0M537.96 368.14h0M536.04 367.76h0M536.9 367.47h0M537.08 366.9h0M537.43 366.4h0M537.92 365.78h0M537.23 365.38h0M536.94 364.8h0M537.25 363.82h0M537.05 362.83h0M537.39 362.51h0M537.87 361.6h0M536.01 360.89h0M536.62 359.65h0M537.73 359.02h0M536.1 358.42h0M537.56 358.06h0M536.04 357.6h0M537.28 357.06h0M537.58 356.82h0M536.46 356.45h0M536.74 356.08h0M536.43 355.56h0M537.39 355.15h0M537.04 354.89h0M537.19 354.67h0M536.63 354.37h0M537.15 354.19h0M537.89 354.01h0M537.54 353.14h0M537.88 352.96h0M536.47 352.74h0M537.01 352.58h0M536.75 352.34h0M536.67 352.11h0M537.59 351.72h0M536.33 351.48h0M537.1 351.22h0M537.53 350.91h0M537.85 350.72h0M536.02 350.38h0M536.52 349.97h0M536.97 349.61h0M537.85 349.46h0M536.31 349.16h0M537.66 348.82h0M536.77 348.28h0M537.08 347.91h0M537.84 347.74h0M536.11 347.57h0M536.64 347.19h0M536.29 346.97h0M536.25 345.08h0M536.59 344.62h0M537.38 343.94h0M537.14 342.84h0M536.22 342.21h0M537.58 341.54h0M536.99 341.12h0M536.27 340.6h0M537.62 340.24h0M537.62 339.36h0M536.41 338.97h0M537.86 338.62h0M537.6 337.94h0M536.44 337.02h0M535.98 336.63h0M537.71 335.94h0M537.63 335.44h0M536.18 334.48h0M537.51 334.13h0M537.53 333.03h0M537.25 332.57h0M537.65 331.39h0M537.95 330.52h0M536.64 330.07h0M537.65 329.34h0M537.82 328.91h0M536.61 328.5h0M537.35 328.1h0M537.35 326.83h0M537.68 325.28h0M537.11 324.88h0M536.53 323.72h0M536.48 323.31h0M537.07 322.94h0M536.25 321.99h0M537.7 321.32h0M537.76 320.58h0M536.46 320.21h0M537.37 319.73h0M537.33 319.37h0M536.22 318.43h0M537.54 317.61h0M537.51 317.24h0M536.59 316.39h0M536.18 315.97h0M536.54 315.1h0M537.52 314.32h0M536.91 313.64h0M537.61 312.92h0M536.3 312.31h0M536.19 310.73h0M536.68 310.3h0M537.74 309.68h0M536.3 309.18h0M536.13 308.56h0M537.49 307.67h0M536.16 307.1h0M537.32 306.49h0M536.15 305.88h0M536.47 305.36h0M537.31 304.93h0M537.73 303.92h0M536.8 303.44h0M536.88 302.78h0M536.04 302.42h0M554.16 372.93h0M555.07 371.05h0M553.84 370.32h0M554.92 369.92h0M554.35 369.36h0M554.23 368.68h0M553.8 367.21h0M555.01 366.33h0M554.87 365.72h0M553.59 365.35h0M555.37 364.56h0M553.85 364.23h0M554.16 363.8h0M554.24 363.18h0M554.56 362.14h0M555.19 361.01h0M555.3 359.96h0M554.68 358.23h0M554.14 357.57h0M553.62 356.94h0M553.55 356.3h0M554.45 354.82h0M554.58 353.64h0M554.3 352.64h0M555.37 351.98h0M554.24 350.82h0M554.11 349.94h0M554.25 349.31h0M553.75 348.75h0M555.29 347.51h0M554.59 346.51h0M554.5 345.35h0M554.26 343.54h0M553.91 340.51h0M554.04 339.87h0M554.4 339.23h0M554.3 337.96h0M555.37 336.01h0M554.54 334.91h0M553.82 333.46h0M553.52 332.84h0M553.73 331.28h0M554.1 330.15h0M554.97 329.37h0M555.19 326.52h0M553.88 324.33h0M554.97 322.83h0M554.29 320.96h0M554.49 319.87h0M554.48 318.37h0M553.5 316.2h0M553.54 314.37h0M554.75 313h0M554.79 311.48h0M554.17 310.46h0M555.25 309.37h0M555.05 308.19h0M554.01 306.41h0M553.54 303.91h0M554.52 301.34h0M554.72 300.33h0M565.18 374.58h0M564.78 374.29h0M564.84 373.81h0M564.91 373.5h0M564.8 373.33h0M566 373.15h0M564.24 372.88h0M564.09 372.68h0M565.5 372.17h0M564.85 371.94h0M564.96 371.59h0M565.24 371.4h0M564.79 371.05h0M564.54 370.86h0M564.09 370.68h0M565.81 370.42h0M565.94 370.04h0M564.63 369.88h0M564.99 369.67h0M564.71 369.45h0M564.18 369.27h0M565.85 368.47h0M565.73 367.24h0M564.54 366.92h0M564.57 366.1h0M565.46 365.92h0M565.65 365.76h0M565 365.49h0M564.83 365.26h0M564.53 365.09h0M565.66 364.83h0M565.79 364.57h0M565.78 364.3h0M564.29 363.65h0M565.25 363.48h0M566.03 363.29h0M565.49 363.11h0M564.98 362.93h0M564.35 362.7h0M564.18 362.33h0M565.52 362.04h0M564.2 361.76h0M565.68 361.5h0M565.39 361.32h0M565.01 361.03h0M565.84 360.75h0M565.93 360.17h0M565.29 359.95h0M564.26 359.73h0M565.24 359.51h0M564.9 358.44h0M564.56 358.03h0M565.92 357.79h0M565.52 357.38h0M564.3 357.13h0M564.52 356.75h0M564.75 356.51h0M565.21 356.2h0M564.71 355.96h0M564.94 355.54h0M565.69 355.34h0M564.42 355.09h0M565.5 354.66h0M564.72 354.49h0M565.95 354.23h0M565.96 353.98h0M564.71 353.81h0M565.27 353.55h0M564.28 353.24h0M564.88 352.97h0M565.31 352.78h0M565.34 352.32h0M564.75 351.85h0M564.13 351.61h0M564.31 351.42h0M565.18 351h0M564.4 350.79h0M564.67 350.18h0M565.3 349.97h0M565.86 349.71h0M565.09 349.42h0M564.57 348.99h0M565.23 348.7h0M564.61 348.55h0M565.62 348.34h0M564.37 348.14h0M564.58 347.96h0M564.94 347.67h0M565.88 347.36h0M564.39 346.62h0M564.44 346.38h0M564.32 346.23h0M564.49 346.09h0M564.72 345.82h0M564.85 345.53h0M565.58 345.33h0M564.87 345.09h0M565.01 344.89h0M564.85 344.66h0M565.61 344.38h0M565.87 343.94h0M564.91 343.77h0M565.9 343.61h0M564.56 343.3h0M566.02 343.03h0M565.11 342.69h0M565.42 342.54h0M564.82 342.39h0M564.6 342.24h0M564.33 341.97h0M565.83 341.8h0M564.78 341.61h0M565.46 341.45h0M564.98 340.65h0M565.11 340.05h0M564.47 339.69h0M564.41 339.4h0M564.73 339.08h0M565.42 338.74h0M565.15 338.1h0M564.06 337.86h0M565.48 337.53h0M564.93 337.35h0M564.2 337.19h0M564.58 337h0M564.48 336.71h0M565.71 336.57h0M565.16 336.41h0M564.71 336.1h0M564.56 335.89h0M564.64 335.5h0M564.62 335.18h0M564.75 334.99h0M565.64 334.81h0M565.64 334.66h0M565.46 334.24h0M565.83 333.85h0M565.37 333.29h0M564.29 333.1h0M564.15 332.96h0M564.39 332.68h0M564.58 332.19h0M565.12 331.94h0M565.7 331.72h0M565.23 331.59h0M564.92 331.37h0M564.54 331.17h0M566.02 331h0M565.57 330.69h0M564.74 330.07h0M564.15 329.92h0M566.02 329.79h0M564.57 329.58h0M565.76 329.43h0M564.29 328.95h0M565.37 328.75h0M564.77 328.48h0M565.84 328.26h0M564.65 328.13h0M564.26 327.67h0M564.46 327.54h0M565.67 327.4h0M566.02 327.12h0M565.35 326.84h0M565.42 326.49h0M564.62 326.35h0M564.6 326.23h0M564.23 326.09h0M566.03 325.7h0M564.15 325.48h0M565.28 325.35h0M564.76 325.06h0M564.43 324.92h0M564.93 324.63h0M565.92 324.3h0M564.56 323.96h0M564.39 323.83h0M565.32 323.69h0M565.37 323.5h0M565.08 323.28h0M564.42 322.97h0M565.81 322.77h0M564.28 322.12h0M564.41 321.91h0M564.54 321.76h0M565.09 321.28h0M565.01 321.08h0M565.17 320.64h0M565.51 320.5h0M565.85 320.38h0M565 320.05h0M564.14 319.86h0M565.72 319.42h0M564.1 319.29h0M564.7 319.16h0M564.35 318.92h0M565.26 318.68h0M565.62 318.38h0M564.32 317.99h0M564.65 317.49h0M565.76 317.36h0M565.44 317.17h0M564.28 316.94h0M565.43 316.7h0M565.65 316.57h0M564.88 316.21h0M564.37 315.93h0M565.38 315.69h0M564.7 315.42h0M564.33 315.29h0M564.39 315.16h0M564.86 315.03h0M564.31 314.78h0M564.83 314.62h0M565.16 314.49h0M565.16 314.35h0M564.87 314.22h0M565.66 314.04h0M564.24 313.91h0M564.72 313.76h0M565.93 313.49h0M565.79 313.27h0M565.9 312.94h0M565.59 312.68h0M565.13 312.54h0M565.64 312.4h0M565.21 312.28h0M564.3 312.03h0M564.57 311.88h0M564.25 311.72h0M565.81 311.54h0M564.7 311.32h0M564.87 311.19h0M565.14 310.92h0M564.26 310.76h0M565.47 310.56h0M565.65 310.45h0M565.65 310.3h0M565.82 310.06h0M564.69 309.85h0M564.35 309.71h0M565.58 309.59h0M565.45 309.25h0M564.8 309.03h0M564.75 308.68h0M564.37 308.54h0M565.72 308.38h0M564.98 308.2h0M565.68 307.91h0M564.74 307.73h0M564.7 307.6h0M565.09 307.48h0M565.55 307.09h0M565.83 306.66h0M564.77 306.5h0M565.45 306.22h0M564.87 306.05h0M565.78 305.76h0M565.58 305.31h0M565.17 305.14h0M564.79 304.79h0M564.61 304.44h0M565.83 304.29h0M565.66 304.13h0M564.67 303.86h0M564.23 303.7h0M564.45 303.54h0M565.99 303.34h0M564.14 303.2h0M565.68 302.87h0M565.12 302.75h0M565.17 302.59h0M565.14 301.89h0M564.88 301.69h0M565.17 301.57h0M564.24 301.39h0M565.9 301.27h0M564.27 301.1h0M564.34 300.78h0M565.41 300.63h0M565.34 300.36h0M565.67 300.16h0M565.45 299.88h0M565.92 299.77h0M564.16 299.57h0M564.08 299.32h0M564.53 299.12h0M565.62 299.01h0M564.37 298.87h0M565.12 298.74h0M565.6 298.37h0M564.37 298.02h0M565.11 297.9h0M565.86 297.67h0M565.55 297.41h0M564.86 297.2h0M565.02 297.07h0M564.62 296.88h0M565.98 296.58h0M565.63 296.38h0M583.1 353.16h0M582.55 349.2h0M583.41 346.4h0M581.5 344.35h0M583.28 341.49h0M582.92 334.4h0M582.47 331h0M583.19 326.21h0M581.79 322.33h0M582.17 318.26h0M592.99 335.89h0M594.11 334.35h0M593.81 333.48h0M594.06 332.6h0M592.58 330.7h0M592.58 329.85h0M592.19 328.95h0M592.69 325.03h0M592.25 323.36h0M593.2 322.36h0M592.74 321.16h0M593.49 320.42h0M593.26 319.17h0M593.33 317h0M592.74 316.21h0M593.61 313.96h0M593.52 313.3h0M593.57 312.35h0M593.08 311.21h0M593.07 309.81h0M592.71 309.13h0M592.22 306.31h0M593.07 305.37h0M593.37 304.19h0M592.51 301.57h0M593.86 299.53h0M593.9 298.17h0M593.85 296.84h0M609.79 325.28h0M611.26 319.54h0M610.25 313.6h0M611.39 311.36h0M610.23 309.93h0M610.18 305.85h0M609.92 302.51h0M611.5 295.28h0M620.67 331.5h0M621.1 331.02h0M622.19 330.14h0M620.87 329.74h0M620.85 329.12h0M621.17 328.69h0M620.54 326.95h0M621.02 326.24h0M621.62 325.72h0M620.87 325.21h0M621.81 324.3h0M620.59 323.81h0M620.42 323.09h0M621.47 322.56h0M621.13 321.29h0M622.06 320.47h0M620.43 319.97h0M621.71 318.56h0M621.56 317.78h0M620.96 316.88h0M620.48 316.12h0M621.44 314.74h0M621.74 314.32h0M621.17 313.69h0M621.17 313.54h0M621.59 313.4h0M621.44 313.25h0M621.07 313.03h0M620.59 312.77h0M621.15 311.76h0M621.32 311.48h0M622.01 311.3h0M622.21 311.14h0M621.33 310.93h0M620.88 310.38h0M620.67 310.21h0M621.48 310.02h0M621.7 309.74h0M620.72 309.58h0M621.6 309.35h0M622.22 308.99h0M621 308.14h0M622.1 307.83h0M621.09 307.65h0M621.52 307.46h0M621.95 307.22h0M620.63 306.85h0M620.91 306.67h0M622.19 306.32h0M620.35 306.12h0M620.83 305.91h0M621.17 305.67h0M621.71 305.5h0M621.48 305.31h0M622.08 305.05h0M621.56 304.15h0M620.22 303.76h0M620.36 303.26h0M620.29 303.08h0M621.08 302.76h0M620.27 302.54h0M621.27 302.15h0M621.49 301.95h0M620.62 301.5h0M621.93 300.77h0M621.05 300.51h0M622.14 300.22h0M620.94 299.83h0M621.46 299.58h0M621.3 299.14h0M620.75 298.87h0M621.78 298.54h0M620.23 298.32h0M620.72 297.91h0M620.86 297.66h0M621.98 296.88h0M621.22 296.68h0M620.29 296.44h0M620.82 296.15h0M621.44 295.93h0M621.84 295.64h0M620.44 295.43h0M621.78 295.24h0M621 294.91h0M621.27 294.54h0M621.06 294.19h0M621.1 294.01h0M622.2 293.79h0M622.06 293.4h0M622.06 293.21h0" stroke="#000" stroke-width="1.45" stroke-linecap="round" fill="none"/><path d="M497.78 313.86h0M526.22 312.04h0M593.46 353.22h0M593.13 355.98h0M592.82 363.71h0M621.46 336.66h0M621.42 357.41h0" stroke="#000" stroke-width="1.7" stroke-linecap="round" fill="none"/><path d="M475.37 290.42L475.37 285.42M472.9 289.34L477.84 286.49M472.9 286.49L477.84 289.34" stroke="#000" stroke-width="0.95" fill="none"/><path d="M499.95 290.42L499.95 285.42M497.48 289.34L502.42 286.49M497.48 286.49L502.42 289.34M506.95 290.42L506.95 285.42M504.48 289.34L509.42 286.49M504.48 286.49L509.42 289.34" stroke="#000" stroke-width="0.95" fill="none"/><path d="M524.53 290.42L524.53 285.42M522.06 289.34L527 286.49M522.06 286.49L527 289.34M531.53 290.42L531.53 285.42M529.06 289.34L534 286.49M529.06 286.49L534 289.34M538.53 290.42L538.53 285.42M536.06 289.34L541 286.49M536.06 286.49L541 289.34" stroke="#000" stroke-width="0.95" fill="none"/><path d="M552.61 290.42L552.61 285.42M550.14 289.34L555.08 286.49M550.14 286.49L555.08 289.34M559.61 290.42L559.61 285.42M557.14 289.34L562.08 286.49M557.14 286.49L562.08 289.34M566.61 290.42L566.61 285.42M564.14 289.34L569.08 286.49M564.14 286.49L569.08 289.34" stroke="#000" stroke-width="0.95" fill="none"/><path d="M587.69 290.42L587.69 285.42M585.22 289.34L590.16 286.49M585.22 286.49L590.16 289.34" stroke="#000" stroke-width="0.95" fill="none"/><text x="610.87" y="290.38" font-size="9.15" fill="#000" textLength="9.89" lengthAdjust="spacingAndGlyphs">ns</text><text x="484.51" y="272.66" font-size="9.15" fill="#000" textLength="9.89" lengthAdjust="spacingAndGlyphs">ns</text><path d="M499.95 261.68L499.95 256.68M497.48 260.61L502.42 257.75M497.48 257.75L502.42 260.61M506.95 261.68L506.95 256.68M504.48 260.61L509.42 257.75M504.48 257.75L509.42 260.61" stroke="#000" stroke-width="0.95" fill="none"/><path d="M513.99 250.67L513.99 245.67M511.52 249.59L516.46 246.74M511.52 246.74L516.46 249.59M520.99 250.67L520.99 245.67M518.52 249.59L523.46 246.74M518.52 246.74L523.46 249.59" stroke="#000" stroke-width="0.95" fill="none"/><path d="M521.03 239.66L521.03 234.66M518.56 238.58L523.5 235.73M518.56 235.73L523.5 238.58M528.03 239.66L528.03 234.66M525.56 238.58L530.5 235.73M525.56 235.73L530.5 238.58M535.03 239.66L535.03 234.66M532.56 238.58L537.5 235.73M532.56 235.73L537.5 238.58M542.03 239.66L542.03 234.66M539.56 238.58L544.5 235.73M539.56 235.73L544.5 238.58" stroke="#000" stroke-width="0.95" fill="none"/><path d="M535.07 228.64L535.07 223.64M532.6 227.57L537.54 224.72M532.6 224.72L537.54 227.57M542.07 228.64L542.07 223.64M539.6 227.57L544.54 224.72M539.6 224.72L544.54 227.57M549.07 228.64L549.07 223.64M546.6 227.57L551.54 224.72M546.6 224.72L551.54 227.57M556.07 228.64L556.07 223.64M553.6 227.57L558.54 224.72M553.6 224.72L558.54 227.57" stroke="#000" stroke-width="0.95" fill="none"/><path d="M475.37 277.39V274.39H503.45V277.39M475.37 266.38V263.38H531.53V266.38M475.37 255.37V252.37H559.61V255.37M475.37 244.36V241.36H587.69V244.36M475.37 233.34V230.34H615.77V233.34" stroke="#333" stroke-width="1.0" fill="none"/><rect x="458.6" y="222.8" width="173.9" height="168.3" fill="none" stroke="#333" stroke-width="0.7"/><rect x="279.3" y="414.1" width="173.65" height="168.3" fill="#fff"/><path d="M279.3 553.35H452.95M279.3 498.15H452.95M279.3 442.95H452.95" stroke="#EBEBEB" stroke-width="0.55" fill="none"/><path d="M279.3 580.95H452.95M279.3 525.75H452.95M279.3 470.55H452.95M279.3 415.35H452.95M295.84 414.1V582.4M323.92 414.1V582.4M352 414.1V582.4M380.08 414.1V582.4M408.16 414.1V582.4M436.24 414.1V582.4" stroke="#EBEBEB" stroke-width="1.07" fill="none"/><text x="313.04" y="409.1" font-size="10" fill="#1a1a1a" textLength="105.93" lengthAdjust="spacingAndGlyphs">Immune, up-regulated</text><path d="M290.64 488.38V501.52M290.64 526.19V554.79" stroke="#222" stroke-width="1.0"/><rect x="286.04" y="501.52" width="9.2" height="24.67" fill="#22C16A" stroke="#333333" stroke-width="1.05"/><path d="M286.04 513.55H295.24" stroke="#333333" stroke-width="2"/><path d="M301.29 488.1V496.27M301.29 523.38V560.64" stroke="#222" stroke-width="1.0"/><rect x="296.69" y="496.27" width="9.2" height="27.1" fill="#FB6A96" stroke="#333333" stroke-width="1.05"/><path d="M296.69 505.44H305.89" stroke="#333333" stroke-width="2"/><path d="M318.72 499.75V508.47M318.72 541.26V552.03" stroke="#222" stroke-width="1.0"/><rect x="314.12" y="508.47" width="9.2" height="32.79" fill="#22C16A" stroke="#333333" stroke-width="1.05"/><path d="M314.12 533.64H323.32" stroke="#333333" stroke-width="2"/><path d="M329.37 491.42V502.62M329.37 528.51V550.65" stroke="#222" stroke-width="1.0"/><rect x="324.77" y="502.62" width="9.2" height="25.89" fill="#FB6A96" stroke="#333333" stroke-width="1.05"/><path d="M324.77 511.89H333.97" stroke="#333333" stroke-width="2"/><path d="M346.8 491.14V507.09M346.8 548.99V557.55" stroke="#222" stroke-width="1.0"/><rect x="342.2" y="507.09" width="9.2" height="41.9" fill="#22C16A" stroke="#333333" stroke-width="1.05"/><path d="M342.2 523.27H351.4" stroke="#333333" stroke-width="2"/><path d="M357.45 488.38V500.58M357.45 526.44V559.64" stroke="#222" stroke-width="1.0"/><rect x="352.85" y="500.58" width="9.2" height="25.86" fill="#FB6A96" stroke="#333333" stroke-width="1.05"/><path d="M352.85 514.71H362.05" stroke="#333333" stroke-width="2"/><path d="M374.88 506.65V526.85M374.88 552.03V565.44" stroke="#222" stroke-width="1.0"/><rect x="370.28" y="526.85" width="9.2" height="25.17" fill="#22C16A" stroke="#333333" stroke-width="1.05"/><path d="M370.28 543.75H379.48" stroke="#333333" stroke-width="2"/><path d="M385.53 489.76V516.75M385.53 552.03V567.26" stroke="#222" stroke-width="1.0"/><rect x="380.93" y="516.75" width="9.2" height="35.27" fill="#FB6A96" stroke="#333333" stroke-width="1.05"/><path d="M380.93 535.13H390.13" stroke="#333333" stroke-width="2"/><path d="M402.96 494.62V519.13M402.96 538.89V559.26" stroke="#222" stroke-width="1.0"/><rect x="398.36" y="519.13" width="9.2" height="19.76" fill="#22C16A" stroke="#333333" stroke-width="1.05"/><path d="M398.36 525.75H407.56" stroke="#333333" stroke-width="2"/><path d="M413.61 494.23V521.17M413.61 546.51V561.02" stroke="#222" stroke-width="1.0"/><rect x="409.01" y="521.17" width="9.2" height="25.34" fill="#FB6A96" stroke="#333333" stroke-width="1.05"/><path d="M409.01 538.89H418.21" stroke="#333333" stroke-width="2"/><path d="M431.04 509.85V513.55M431.04 550.65V559.64" stroke="#222" stroke-width="1.0"/><rect x="426.44" y="513.55" width="9.2" height="37.09" fill="#22C16A" stroke="#333333" stroke-width="1.05"/><path d="M426.44 532.26H435.64" stroke="#333333" stroke-width="2"/><path d="M441.69 503.34V530.61M441.69 549.27V559.64" stroke="#222" stroke-width="1.0"/><rect x="437.09" y="530.61" width="9.2" height="18.66" fill="#FB6A96" stroke="#333333" stroke-width="1.05"/><path d="M437.09 540.54H446.29" stroke="#333333" stroke-width="2"/><path d="M291.11 554.23h0M290.79 553.2h0M290.46 551.79h0M290.77 550.53h0M289.79 548.75h0M289.83 546.42h0M290.26 545.11h0M289.89 543.39h0M289.74 541.88h0M291.07 539.91h0M291.1 538.52h0M290.87 537.6h0M290.05 536.29h0M291.08 534.63h0M291.29 528.89h0M290.88 527.52h0M290.09 525.56h0M290.77 524.1h0M290.43 523.62h0M290.18 522.92h0M289.94 522.52h0M291.37 521.83h0M290.9 521.34h0M291.51 520.91h0M289.98 520.33h0M290.17 518.31h0M290.66 517.87h0M289.76 517.41h0M290.24 516.58h0M290.72 514.64h0M290.6 513.74h0M291.46 513.25h0M290.79 512.59h0M290.92 511.04h0M290.81 509.47h0M291.21 508.07h0M290.37 507h0M289.64 506.61h0M291.6 505.67h0M291.22 504.85h0M289.89 504.32h0M289.86 503.55h0M290.08 503.08h0M290.96 502.62h0M289.9 501.89h0M289.68 501.45h0M290.63 500.78h0M289.65 500.16h0M290.16 499.61h0M290.4 498.82h0M290.05 498.37h0M289.64 497.65h0M290.16 497.09h0M290.13 496.45h0M290.29 495.23h0M290.47 494.42h0M290.36 493.54h0M290.29 492.96h0M289.68 491.6h0M291.31 490.8h0M291.12 490.27h0M290.63 489.75h0M289.65 489.3h0M290.11 488.65h0M301.29 559.1h0M301.35 557.7h0M301.07 556.97h0M300.56 553.16h0M300.33 552.36h0M301.41 551.28h0M302.23 550.53h0M300.85 549.61h0M300.99 548.39h0M300.93 547.26h0M301.77 546.12h0M301.28 545.07h0M301.88 543.5h0M300.3 542.47h0M300.56 540.77h0M300.7 539.28h0M301.03 536.94h0M301.09 536.09h0M301.06 535.41h0M302.22 533.81h0M301.17 531.95h0M301.44 530.9h0M302.22 529.9h0M301.57 528.73h0M301.48 527.87h0M301.95 527.04h0M300.96 525.61h0M300.36 524.76h0M302.21 523.59h0M301.36 523.11h0M301.45 522.13h0M300.42 521.67h0M301.78 520.84h0M301.04 519.43h0M301.58 518.71h0M300.86 517.64h0M302.13 517.09h0M301.03 516.7h0M300.84 516.3h0M302.08 515.72h0M300.74 514.66h0M300.83 514.21h0M301.26 513.88h0M302.25 513.06h0M300.52 511.75h0M300.71 511.29h0M301.88 510.52h0M300.44 510.03h0M301.12 509.6h0M301.86 508.91h0M301.72 508.12h0M301.88 507.3h0M300.52 506.79h0M302.07 506.24h0M301 505.72h0M301.92 504.98h0M301.23 504.73h0M302.07 504.56h0M301.25 504.35h0M300.81 504.14h0M300.59 503.9h0M301.28 503.71h0M300.39 503.16h0M300.62 502.91h0M302.04 502.7h0M301.44 502.43h0M302.02 501.98h0M300.59 501.78h0M301.25 501.44h0M301.23 500.96h0M300.51 500.76h0M300.82 500.44h0M302.13 500.12h0M301.74 499.93h0M301.31 499.73h0M301.51 499.27h0M302.01 498.87h0M302.2 498.63h0M301.48 498.46h0M300.39 497.69h0M302.03 497.47h0M300.62 497.17h0M300.77 496.86h0M300.56 496.2h0M301.31 495.93h0M301.46 495.63h0M301.21 495.48h0M301.23 495.28h0M300.57 494.99h0M301.73 494.59h0M301.37 494.39h0M300.91 493.93h0M301.96 493.77h0M302.17 493.41h0M302.13 493.19h0M302.26 493.01h0M300.43 492.63h0M301.07 492.38h0M301.19 492.15h0M300.8 491.65h0M301.78 491.42h0M302.1 491.13h0M300.57 490.91h0M301.3 490.25h0M302.22 490.03h0M302.07 489.79h0M301.19 489.43h0M300.5 489.1h0M301.2 488.67h0M301.33 488.49h0M301.86 488.2h0M319.66 551.1h0M318.43 548.98h0M319.15 547.02h0M317.79 545.46h0M318.75 543.93h0M318.8 540.81h0M317.92 539.29h0M318.88 538.27h0M318.61 536.53h0M318.37 533.91h0M319.38 529.63h0M319.1 517.04h0M317.96 507.92h0M317.93 504.61h0M317.82 502.69h0M318.25 500.56h0M329.46 549.82h0M329.08 548.51h0M330.3 547.35h0M329.53 543.15h0M328.85 540.81h0M329.5 539.47h0M330.08 538.22h0M329.11 536.89h0M329.24 535.49h0M329.52 534.12h0M330.34 529.17h0M329.65 527.93h0M328.73 526.14h0M329.53 524.91h0M329.01 523.99h0M329.32 516.21h0M329.8 513.88h0M328.41 511.69h0M329.39 510.53h0M329 509.92h0M329.57 509.41h0M330.01 508.89h0M329.3 508.36h0M329.63 507.69h0M328.95 506.98h0M328.88 506.2h0M329.39 503.7h0M329.44 503.06h0M328.82 502.11h0M329.9 501.52h0M329.37 500.86h0M329.08 498.91h0M328.88 498.19h0M330.04 497.56h0M330.17 496.32h0M330.25 494.13h0M328.87 493.55h0M328.51 492.89h0M329.63 491.8h0M346.2 557.2h0M347.05 556.2h0M346.82 555.48h0M346.75 553.64h0M347.65 552.05h0M347.32 550.47h0M345.97 549.18h0M345.86 546.46h0M347.2 541.76h0M346.99 539.06h0M347.1 536.64h0M346.8 530.87h0M345.87 527.86h0M346.7 525.79h0M347.47 523.09h0M347 520.97h0M345.89 518.62h0M346.05 516.87h0M347.61 515.31h0M346.89 512.39h0M346.13 509.96h0M347.21 508.76h0M347.65 507.53h0M347.53 503.07h0M347.09 499.71h0M347.41 496.59h0M345.98 495.26h0M346.73 493.73h0M357.67 558.89h0M357.5 557.4h0M358.19 555.75h0M358.24 554.79h0M357.1 554.15h0M356.47 553.34h0M358.01 552.1h0M357.75 551.38h0M357.76 550.73h0M356.6 550.15h0M356.6 549.33h0M358.25 548.75h0M357.18 548.14h0M357.4 547.35h0M358.4 546.54h0M356.84 544.8h0M357.72 544.23h0M356.57 542.14h0M357.57 540.64h0M357.93 539.77h0M356.76 538.69h0M357.97 538.15h0M358.39 536.65h0M358.1 535.57h0M358.03 534.98h0M358.34 531.81h0M357.88 530.94h0M357.55 528.69h0M358.1 527.9h0M358.06 526.83h0M357.71 526.39h0M357.79 526.12h0M356.81 525.84h0M357.13 525.64h0M357.1 525.46h0M358.17 525.12h0M358.01 524.41h0M357.03 524.13h0M358.44 523.56h0M356.57 523.25h0M356.57 522.86h0M357.11 522.67h0M356.6 522.25h0M358.35 521.92h0M357.17 521.71h0M357.23 521.48h0M358.16 521.24h0M357.52 520.59h0M357.71 520.29h0M357.33 519.6h0M357.37 519.19h0M358.36 518.9h0M357 517.9h0M357.5 517.63h0M357.41 517.02h0M356.73 516.8h0M356.74 516.57h0M357.46 516.3h0M358.05 516.07h0M357.31 515.88h0M356.57 515.7h0M358.32 515.4h0M356.73 515.12h0M358.22 514.72h0M356.54 514.41h0M357.75 513.98h0M356.74 513.4h0M356.97 513.06h0M357.29 512.75h0M357.96 512.52h0M357.32 512.23h0M357.29 511.82h0M357.25 511.46h0M357.49 510.93h0M357.01 510.5h0M358.36 509.46h0M356.83 508.88h0M356.72 508.58h0M357.55 507.64h0M357.15 507.42h0M357.89 507.07h0M356.53 506.78h0M357.8 506.48h0M357.18 506.22h0M358.3 505.88h0M357.05 505.6h0M357.32 505.22h0M357.08 504.57h0M357.52 504.33h0M357.01 503.86h0M357.79 503.42h0M357.27 503.18h0M357.87 502.95h0M357.03 502.58h0M357.36 502.36h0M357.56 502.01h0M357.89 501.04h0M357.75 500.41h0M357.31 500.09h0M356.62 499.76h0M356.67 499.48h0M356.74 499.17h0M356.82 498.31h0M356.82 497.98h0M357.77 497.21h0M357.13 496.89h0M358.27 496.57h0M356.92 496.22h0M356.94 495.95h0M356.82 495.74h0M356.74 495.32h0M357.81 495.05h0M357.61 494.85h0M356.95 494.51h0M358.07 494.31h0M357.8 494.03h0M357.31 493.31h0M357.67 493.11h0M357.76 492.86h0M357.33 492.6h0M356.63 491.83h0M357.18 491.53h0M358.34 491.31h0M357.2 490.79h0M357.73 490.54h0M356.63 490.27h0M358 489.76h0M358.18 489.54h0M357.2 489.05h0M357.19 488.58h0M375.75 564.56h0M375.56 563.92h0M374.64 563.18h0M375.09 561.75h0M374.98 561.26h0M374.28 560h0M373.95 559.31h0M375.35 558.69h0M374.21 558.22h0M375.01 557.35h0M373.91 555.85h0M373.92 555.36h0M374.21 554.49h0M375.19 553.89h0M375.11 553.43h0M375.86 552.39h0M375.2 551.65h0M374.92 551h0M373.91 550.7h0M375.8 550.3h0M374.86 549.87h0M375.6 549.41h0M373.96 548.8h0M375.55 548.18h0M374.83 547.18h0M374.31 546.42h0M374.69 546.08h0M374.03 545.61h0M375.04 544.74h0M374.32 544.24h0M375.28 543.8h0M374.23 543.01h0M375.26 542.32h0M375.12 541.65h0M375.3 540.75h0M375.78 539.35h0M374.47 538.57h0M375.25 537.94h0M374.67 536.79h0M375.67 536.17h0M375.53 535.52h0M375.41 533.74h0M375.08 533.06h0M374.4 532.02h0M375.7 531h0M375.82 529.12h0M375.78 527.85h0M374.56 523.57h0M375.52 522.28h0M375.24 521.11h0M375.56 520.14h0M375.48 518.18h0M374.79 517.38h0M374.67 516.7h0M375.47 515.96h0M375.19 515.03h0M374.96 512.04h0M375.63 511.21h0M373.94 510.08h0M373.91 509.16h0M374.81 507.95h0M386.37 567.06h0M384.78 566.89h0M385.25 566.78h0M386.34 566.64h0M386.26 566.44h0M386.49 566.26h0M386.52 566.11h0M385.14 565.5h0M384.66 565.33h0M385.03 565.15h0M385.53 564.91h0M384.56 564.73h0M385.04 564.08h0M385.48 563.98h0M385.89 563.84h0M384.84 563.54h0M384.78 563.37h0M385.19 563.26h0M384.71 563.07h0M384.77 562.92h0M384.74 562.61h0M386.13 562.41h0M386.29 562.29h0M384.62 562.17h0M386.14 561.96h0M386.22 561.71h0M385.83 561.59h0M385.13 561.25h0M386.17 561.1h0M384.69 560.9h0M384.62 560.76h0M386.44 560.63h0M384.97 560.53h0M386.36 560.42h0M386.04 559.98h0M384.62 559.76h0M384.72 559.63h0M385.82 559.37h0M384.82 559.27h0M385.86 559.14h0M385.87 558.88h0M384.99 558.38h0M385.48 558.04h0M384.95 557.92h0M386.27 557.61h0M385.79 557.46h0M385.91 557.32h0M385.77 557.12h0M384.65 556.79h0M386.3 556.66h0M386.09 556.54h0M385.56 556.41h0M385.71 556.28h0M385.51 556.14h0M386.04 555.88h0M385.6 555.65h0M385.09 555.4h0M385.56 555.16h0M384.96 555.05h0M384.54 554.93h0M385.57 554.82h0M386.27 554.44h0M385.97 554.21h0M384.95 554h0M385.55 553.85h0M385.7 553.55h0M385.69 553.4h0M385.45 553.14h0M385.55 552.97h0M385.91 552.64h0M386.29 552.49h0M385.56 552.23h0M386.1 552.06h0M385.89 551.87h0M384.77 551.76h0M385.05 551.64h0M385.16 551.48h0M385.24 551.25h0M385.51 551h0M385.12 550.88h0M386.53 550.68h0M386 550.45h0M385.27 550.25h0M385.93 549.98h0M386.38 549.85h0M384.85 549.56h0M385.79 549.4h0M386.45 548.91h0M385.28 548.74h0M386.28 548.56h0M386.14 548.38h0M385.17 548.16h0M384.82 548.03h0M386.14 547.81h0M385.36 547.62h0M385.23 547.5h0M385.46 547.31h0M385.99 547.09h0M386.32 546.86h0M386.36 546.73h0M386.06 546.49h0M384.88 546.15h0M385.27 545.89h0M384.54 545.57h0M384.93 545.21h0M385.21 544.96h0M384.88 544.7h0M385.48 544.53h0M384.79 544.31h0M385.84 544.03h0M385.35 543.8h0M385.02 543.28h0M385.9 543.01h0M385.19 542.73h0M384.58 542.5h0M386.21 542.19h0M386.04 541.93h0M386.29 541.77h0M385.12 541.49h0M385.06 541.28h0M385.92 541.11h0M384.82 540.25h0M386.46 540.1h0M385.84 539.85h0M385.63 539.7h0M384.63 539.57h0M385.1 539.27h0M385.38 538.95h0M386.49 538.72h0M384.82 538.54h0M385.71 538.43h0M384.69 538.19h0M386.47 537.97h0M386.02 537.84h0M386.15 537.66h0M386.03 537.54h0M384.89 537.38h0M385.01 537.22h0M384.61 537h0M385.63 536.56h0M384.69 536.43h0M384.91 536.26h0M384.88 536.02h0M386.37 535.65h0M386.11 535.5h0M385.1 535.38h0M386.47 535.26h0M384.85 535.07h0M384.81 534.94h0M385.29 534.79h0M386.14 534.55h0M384.73 534.32h0M386.11 534.13h0M385.62 533.97h0M386.13 533.59h0M385.2 533.47h0M384.61 533.22h0M384.73 532.82h0M385.98 532.65h0M385.54 532.51h0M386.06 532.3h0M384.93 532.14h0M385.09 531.97h0M384.95 531.81h0M386.23 531.67h0M385.94 531.45h0M384.84 531.16h0M385.98 531h0M384.61 530.67h0M385.46 530.42h0M385.04 530.23h0M386.06 529.81h0M385.97 529.69h0M385.9 529.56h0M384.92 529.16h0M384.62 528.91h0M385.81 528.64h0M385.92 528.48h0M384.55 528.1h0M386.21 527.93h0M386.32 527.79h0M385.25 527.33h0M385.57 527.18h0M385.83 526.83h0M386.38 526.65h0M385.83 526.48h0M385.56 526.3h0M386.07 526.03h0M385.51 525.6h0M384.6 525.45h0M385.62 525.31h0M385.36 524.61h0M385.2 524.34h0M385.32 523.84h0M384.97 523.56h0M385.15 523.42h0M386.02 523.17h0M386.3 523.04h0M385.44 522.83h0M386.22 522.54h0M384.78 522.39h0M385.56 522.17h0M386.02 521.84h0M386.09 521.65h0M385.3 521.5h0M384.87 521.35h0M386.45 521.2h0M385.75 521.02h0M385.84 520.76h0M385.22 520.59h0M384.76 520.23h0M385.67 520.02h0M385.34 519.73h0M386.31 519.58h0M385.86 519.34h0M386.04 518.96h0M385.67 518.8h0M386.04 518.53h0M384.8 518.1h0M386.52 517.96h0M385.69 517.72h0M385.72 517.55h0M384.91 517.27h0M384.71 517.13h0M385.94 516.84h0M385.98 516.71h0M385.86 516.52h0M385.04 516.19h0M385.5 516.01h0M386.07 515.74h0M385.81 515.16h0M386.35 514.94h0M384.71 514.6h0M386.08 514.27h0M384.56 513.61h0M385.78 512.93h0M385.6 512.67h0M384.68 512.09h0M385.37 511.73h0M385.87 511.51h0M386.26 511.16h0M384.68 510.91h0M385.55 510.52h0M386.12 510.16h0M384.76 509.53h0M386.32 509.07h0M386.41 508.88h0M385.22 508.53h0M384.95 508.05h0M384.82 507.65h0M384.97 507.39h0M385.37 507.01h0M385.94 506.75h0M386.4 506.52h0M385.65 506.26h0M386.44 506.02h0M385.38 505.73h0M385.85 505.54h0M384.53 505.34h0M385.37 505.08h0M384.58 504.52h0M384.79 504.23h0M386.15 503.74h0M384.76 503.51h0M385.13 503.27h0M385.58 502.85h0M385.58 502.26h0M384.59 502.08h0M384.75 501.8h0M385.88 501.61h0M385.34 501.42h0M384.71 501.12h0M385.49 500.71h0M385.27 500.45h0M386.53 500.03h0M384.63 499.85h0M384.89 499.28h0M384.68 498.96h0M385.63 498.52h0M386.45 498.32h0M386.09 497.73h0M384.75 496.94h0M385.61 496.6h0M385.25 496.35h0M386.48 495.32h0M385.94 495.03h0M385.74 494.78h0M385.04 494.42h0M385.4 494.24h0M385.58 493.94h0M385.29 493.7h0M385.66 493.51h0M384.71 493.14h0M385.37 492.8h0M386.5 492.38h0M385.33 491.87h0M385.54 491.19h0M386.04 490.73h0M386.15 490.46h0M386 490.16h0M403.71 556.57h0M402.14 552.3h0M403.86 541.94h0M403.86 537.77h0M403.19 534.96h0M403.64 528.32h0M403.84 525.34h0M402.86 520.89h0M403.67 516.1h0M402.03 509.91h0M414.03 558.34h0M413.51 557.05h0M413.1 554.81h0M413.74 553.06h0M413.23 551.32h0M414.27 550.12h0M412.7 546.94h0M413.88 545.78h0M413.29 543.98h0M413.45 542.58h0M413.69 541.7h0M414.57 540.74h0M414.6 539.35h0M413.32 537.29h0M414.52 535.85h0M414.52 533.22h0M413.66 530.47h0M413.74 528.33h0M413.01 526.55h0M414.19 522.13h0M413.58 520.47h0M414.13 516.45h0M414.45 511.52h0M413.86 508.46h0M414 506.46h0M413.71 504.46h0M412.87 499.23h0M413.53 496.87h0M430.5 557.44h0M430.47 555.14h0M431.31 551.59h0M431.89 546.3h0M430.07 534.37h0M431.47 527.68h0M431.2 516.56h0M431.01 510.46h0M442.59 559.3h0M441.9 559.03h0M442.18 558.67h0M441.88 557.95h0M441.13 557.57h0M440.85 557.32h0M442.18 556.82h0M441.59 556.54h0M440.94 555.56h0M441.81 555.3h0M441.22 555.04h0M441.21 554.55h0M442.44 554.23h0M441.93 553.82h0M442.19 553.42h0M442.32 553.17h0M441.56 552.35h0M441.59 551.64h0M441.55 551.38h0M441.4 550.86h0M442.25 550.39h0M442.46 550.02h0M441.29 549.52h0M442.11 549.19h0M441.12 548.8h0M440.71 548.4h0M442.06 547.87h0M442.24 547.25h0M441.35 546.97h0M442.68 546.42h0M442.13 546.21h0M441.33 545.99h0M442.21 545.75h0M442.38 545.36h0M440.97 544.22h0M442.51 543.76h0M441.56 543.39h0M441.24 542.81h0M441.45 542.29h0M441.75 542.01h0M441.74 541.71h0M441.28 541.46h0M440.81 541.18h0M441.95 540.98h0M442.13 540.71h0M442.08 540.44h0M441.48 539.85h0M442.41 539.61h0M440.72 539.31h0M440.95 538.96h0M440.73 537.84h0M441.8 537.53h0M441.74 537h0M441.15 536.77h0M441.74 535.9h0M440.7 535.01h0M440.76 534.65h0M442.61 534.41h0M442.46 534.11h0M440.83 532.67h0M442 532.21h0M441.71 531.87h0M441.77 531.63h0M442.37 531.01h0M441.97 530.18h0M442.57 529.39h0M442.05 528.32h0M442.52 527.55h0M440.92 526.7h0M442.33 524.55h0M441.33 523.69h0M442.53 522.97h0M442.27 522.23h0M442.62 520.05h0M442.2 518.91h0M441.47 516.41h0M441.74 515.7h0M442.26 514.94h0M440.81 514.17h0M441.77 513.48h0M441.83 512.73h0M442.13 511.26h0M441.37 510.3h0M441.9 509.5h0M442.16 508.78h0M441.45 507.47h0M442.05 506.86h0M442.5 506.05h0M441.43 504.57h0M441.74 503.81h0" stroke="#000" stroke-width="1.45" stroke-linecap="round" fill="none"/><path d="" stroke="#000" stroke-width="1.7" stroke-linecap="round" fill="none"/><text x="290.94" y="481.68" font-size="9.15" fill="#000" textLength="9.89" lengthAdjust="spacingAndGlyphs">ns</text><text x="319.02" y="481.68" font-size="9.15" fill="#000" textLength="9.89" lengthAdjust="spacingAndGlyphs">ns</text><path d="M352 481.72L352 476.72M349.53 480.64L354.47 477.79M349.53 477.79L354.47 480.64" stroke="#000" stroke-width="0.95" fill="none"/><path d="M380.08 481.72L380.08 476.72M377.61 480.64L382.55 477.79M377.61 477.79L382.55 480.64" stroke="#000" stroke-width="0.95" fill="none"/><text x="403.26" y="481.68" font-size="9.15" fill="#000" textLength="9.89" lengthAdjust="spacingAndGlyphs">ns</text><text x="431.34" y="481.68" font-size="9.15" fill="#000" textLength="9.89" lengthAdjust="spacingAndGlyphs">ns</text><path d="M309.88 463.99L309.88 458.99M307.41 462.92L312.35 460.07M307.41 460.07L312.35 462.92" stroke="#000" stroke-width="0.95" fill="none"/><path d="M320.42 452.98L320.42 447.98M317.95 451.91L322.89 449.06M317.95 449.06L322.89 451.91M327.42 452.98L327.42 447.98M324.95 451.91L329.89 449.06M324.95 449.06L329.89 451.91" stroke="#000" stroke-width="0.95" fill="none"/><path d="M327.46 441.97L327.46 436.97M324.99 440.89L329.93 438.04M324.99 438.04L329.93 440.89M334.46 441.97L334.46 436.97M331.99 440.89L336.93 438.04M331.99 438.04L336.93 440.89M341.46 441.97L341.46 436.97M338.99 440.89L343.93 438.04M338.99 438.04L343.93 440.89M348.46 441.97L348.46 436.97M345.99 440.89L350.93 438.04M345.99 438.04L350.93 440.89" stroke="#000" stroke-width="0.95" fill="none"/><path d="M341.5 430.96L341.5 425.96M339.03 429.88L343.97 427.03M339.03 427.03L343.97 429.88M348.5 430.96L348.5 425.96M346.03 429.88L350.97 427.03M346.03 427.03L350.97 429.88M355.5 430.96L355.5 425.96M353.03 429.88L357.97 427.03M353.03 427.03L357.97 429.88M362.5 430.96L362.5 425.96M360.03 429.88L364.97 427.03M360.03 427.03L364.97 429.88" stroke="#000" stroke-width="0.95" fill="none"/><path d="M355.54 419.94L355.54 414.94M353.07 418.87L358.01 416.02M353.07 416.02L358.01 418.87M362.54 419.94L362.54 414.94M360.07 418.87L365.01 416.02M360.07 416.02L365.01 418.87M369.54 419.94L369.54 414.94M367.07 418.87L372.01 416.02M367.07 416.02L372.01 418.87M376.54 419.94L376.54 414.94M374.07 418.87L379.01 416.02M374.07 416.02L379.01 418.87" stroke="#000" stroke-width="0.95" fill="none"/><path d="M295.84 468.69V465.69H323.92V468.69M295.84 457.68V454.68H352V457.68M295.84 446.67V443.67H380.08V446.67M295.84 435.66V432.66H408.16V435.66M295.84 424.64V421.64H436.24V424.64" stroke="#333" stroke-width="1.0" fill="none"/><rect x="279.3" y="414.1" width="173.65" height="168.3" fill="none" stroke="#333" stroke-width="0.7"/><text x="265.84" y="584.33" font-size="9.46" fill="#4D4D4D" textLength="8.7" lengthAdjust="spacingAndGlyphs">-1</text><text x="269.34" y="529.13" font-size="9.46" fill="#4D4D4D" textLength="5.33" lengthAdjust="spacingAndGlyphs">0</text><text x="269.41" y="473.93" font-size="9.46" fill="#4D4D4D" textLength="5.1" lengthAdjust="spacingAndGlyphs">1</text><text x="269.31" y="418.73" font-size="9.46" fill="#4D4D4D" textLength="5.14" lengthAdjust="spacingAndGlyphs">2</text><path d="M276 580.95H279.3M276 525.75H279.3M276 470.55H279.3M276 415.35H279.3" stroke="#333" stroke-width="0.9"/><rect x="458.6" y="414.1" width="173.9" height="168.3" fill="#fff"/><path d="M458.6 553.35H632.5M458.6 498.15H632.5M458.6 442.95H632.5" stroke="#EBEBEB" stroke-width="0.55" fill="none"/><path d="M458.6 580.95H632.5M458.6 525.75H632.5M458.6 470.55H632.5M458.6 415.35H632.5M475.37 414.1V582.4M503.45 414.1V582.4M531.53 414.1V582.4M559.61 414.1V582.4M587.69 414.1V582.4M615.77 414.1V582.4" stroke="#EBEBEB" stroke-width="1.07" fill="none"/><text x="485.72" y="409.1" font-size="10" fill="#1a1a1a" textLength="119.43" lengthAdjust="spacingAndGlyphs">Immune, down-regulated</text><path d="M470.17 502.23V530.33M470.17 553.41V568.36" stroke="#222" stroke-width="1.0"/><rect x="465.57" y="530.33" width="9.2" height="23.07" fill="#22C16A" stroke="#333333" stroke-width="1.05"/><path d="M465.57 544.85H474.77" stroke="#333333" stroke-width="2"/><path d="M480.82 493.24V508.47M480.82 542.37V568.64" stroke="#222" stroke-width="1.0"/><rect x="476.22" y="508.47" width="9.2" height="33.89" fill="#FB6A96" stroke="#333333" stroke-width="1.05"/><path d="M476.22 526.19H485.42" stroke="#333333" stroke-width="2"/><path d="M498.25 497.38V532.37M498.25 555.5V569.3" stroke="#222" stroke-width="1.0"/><rect x="493.65" y="532.37" width="9.2" height="23.13" fill="#22C16A" stroke="#333333" stroke-width="1.05"/><path d="M493.65 544.85H502.85" stroke="#333333" stroke-width="2"/><path d="M508.9 490.48V501.96M508.9 521.33V549.27" stroke="#222" stroke-width="1.0"/><rect x="504.3" y="501.96" width="9.2" height="19.38" fill="#FB6A96" stroke="#333333" stroke-width="1.05"/><path d="M504.3 510.51H513.5" stroke="#333333" stroke-width="2"/><path d="M526.33 490.48V506.37M526.33 553.41V563.78" stroke="#222" stroke-width="1.0"/><rect x="521.73" y="506.37" width="9.2" height="47.03" fill="#22C16A" stroke="#333333" stroke-width="1.05"/><path d="M521.73 523.27H530.93" stroke="#333333" stroke-width="2"/><path d="M536.98 486.34V497.82M536.98 521.33V557.55" stroke="#222" stroke-width="1.0"/><rect x="532.38" y="497.82" width="9.2" height="23.52" fill="#FB6A96" stroke="#333333" stroke-width="1.05"/><path d="M532.38 509.85H541.58" stroke="#333333" stroke-width="2"/><path d="M554.41 488.38V519.51M554.41 550.65V566.54" stroke="#222" stroke-width="1.0"/><rect x="549.81" y="519.51" width="9.2" height="31.13" fill="#22C16A" stroke="#333333" stroke-width="1.05"/><path d="M549.81 543.03H559.01" stroke="#333333" stroke-width="2"/><path d="M565.06 483.96V502.51M565.06 543.75V567.92" stroke="#222" stroke-width="1.0"/><rect x="560.46" y="502.51" width="9.2" height="41.23" fill="#FB6A96" stroke="#333333" stroke-width="1.05"/><path d="M560.46 520.89H569.66" stroke="#333333" stroke-width="2"/><path d="M582.49 555.5V555.5M582.49 559.2V562.4" stroke="#222" stroke-width="1.0"/><rect x="577.89" y="555.5" width="9.2" height="3.7" fill="#22C16A" stroke="#333333" stroke-width="1.05"/><path d="M577.89 557.16H587.09" stroke="#333333" stroke-width="2"/><path d="M593.14 502.23V534.31M593.14 559.64V567.92" stroke="#222" stroke-width="1.0"/><rect x="588.54" y="534.31" width="9.2" height="25.34" fill="#FB6A96" stroke="#333333" stroke-width="1.05"/><path d="M588.54 555.5H597.74" stroke="#333333" stroke-width="2"/><path d="M610.57 515.37V530.33M610.57 560.36V564.5" stroke="#222" stroke-width="1.0"/><rect x="605.97" y="530.33" width="9.2" height="30.03" fill="#22C16A" stroke="#333333" stroke-width="1.05"/><path d="M605.97 555.5H615.17" stroke="#333333" stroke-width="2"/><path d="M621.22 496.71V528.51M621.22 556.44V567.92" stroke="#222" stroke-width="1.0"/><rect x="616.62" y="528.51" width="9.2" height="27.93" fill="#FB6A96" stroke="#333333" stroke-width="1.05"/><path d="M616.62 546.78H625.82" stroke="#333333" stroke-width="2"/><path d="M469.31 567.97h0M469.22 566.85h0M469.39 566.33h0M469.79 565.1h0M469.44 563.76h0M470.03 563.09h0M469.9 561.46h0M470.62 560.24h0M471.1 559.28h0M471.13 558.71h0M470.01 556.73h0M470.46 556.11h0M469.43 555.64h0M470.39 554.68h0M470.94 553.51h0M470.94 553.19h0M469.45 552.92h0M469.5 552.44h0M470.97 552.16h0M470.56 551.85h0M470.69 551.46h0M469.3 550.44h0M470.41 549.93h0M469.22 549.31h0M470.64 549.03h0M470.76 548.55h0M469.81 548.16h0M469.18 547.55h0M470.64 546.73h0M471.17 546.44h0M470.41 546.03h0M469.9 545.68h0M469.83 544.99h0M470.79 544.64h0M471.11 544.15h0M469.9 543.33h0M469.61 542.72h0M471.16 541.83h0M470.03 540.02h0M470.05 539.37h0M469.79 538.73h0M470.62 538.01h0M471.14 536.52h0M470.11 535.94h0M470.88 534.84h0M469.97 534.37h0M470.01 533.85h0M470.77 533.27h0M471.11 532.3h0M470.68 531.45h0M470.58 530.88h0M470.82 528.35h0M471.01 526.37h0M471.08 524.99h0M470.23 520.42h0M469.95 518.77h0M469.18 517.25h0M470.22 514.37h0M469.88 510.9h0M469.17 509.72h0M471.16 508.25h0M469.78 505.64h0M471.03 504.67h0M469.2 503.65h0M480.57 568.21h0M479.88 567.68h0M481.51 565.68h0M480.92 563.8h0M480.98 563.14h0M481.19 561.24h0M480.92 559.37h0M481.63 555.77h0M479.84 554.91h0M481.76 554.41h0M481.05 552.23h0M480.63 551.69h0M481.63 549.55h0M481.61 548.45h0M481.01 547.05h0M479.84 545.56h0M481.07 545.02h0M480.64 543.27h0M480.97 542.32h0M481.48 541.79h0M480.08 541.2h0M481.51 540.72h0M480.44 540.31h0M480.32 539.96h0M479.89 539.62h0M480.03 539.25h0M480.36 538.86h0M480.88 538.38h0M481.7 538.03h0M480.16 537.61h0M480.4 537.32h0M480.57 537.01h0M481.1 536.58h0M480.53 536.15h0M481.16 535.16h0M480.12 534.61h0M479.91 534.28h0M480.98 533.59h0M481.27 532.86h0M480.09 532.23h0M479.92 531.35h0M481.16 530.99h0M479.95 530.48h0M481.67 530.07h0M481.2 529.74h0M480.14 529.31h0M480.64 529h0M479.93 528.55h0M480 528.25h0M480.52 527.47h0M481.58 526.84h0M481.64 525.99h0M481.33 525.54h0M481.09 524.72h0M480.99 524.31h0M480.84 523.96h0M481.13 523.31h0M480.81 522.89h0M480.62 521.78h0M481.49 521.21h0M480.42 520.1h0M480.63 519.31h0M481.18 518.92h0M481.75 518.6h0M480.51 518.24h0M480.69 517.82h0M480.62 516.55h0M480.24 516.23h0M480.53 515.89h0M481.4 515.42h0M480.2 513.65h0M480.78 513.24h0M480.39 512.86h0M480.98 512.41h0M481.37 511.78h0M480.05 511.44h0M480.79 510.99h0M480.2 510.66h0M481.11 510.26h0M481.18 509.69h0M480.26 509.24h0M480.28 508.63h0M480.43 508.23h0M480.48 507.76h0M481.61 507.33h0M481.57 507.01h0M481.4 506.59h0M480.61 506.28h0M480.73 505.79h0M480.22 505.11h0M480.74 504.03h0M481.72 503.73h0M480 503.44h0M480.61 502.68h0M480.21 502.27h0M481.51 501.92h0M480.42 501.05h0M480.79 500.68h0M479.92 500.01h0M481.2 499.71h0M480.85 499.3h0M481.42 498.92h0M481.26 498.36h0M481.31 497.48h0M480.35 496.84h0M480.32 495.47h0M481.02 495.06h0M479.92 494.59h0M481.69 494.25h0M481.26 493.76h0M480.81 493.45h0M498.89 566.3h0M498.66 563.98h0M498.89 561.75h0M497.76 554.65h0M498.26 552.46h0M498.34 550.06h0M498.42 547.9h0M497.28 546.16h0M498.87 543.16h0M498.15 541.15h0M497.57 538.78h0M498.96 534.76h0M498.36 528.57h0M498.73 522.9h0M498.73 512.85h0M498.5 500.8h0M509.6 547.87h0M508.66 545.54h0M508.41 542.56h0M507.96 541.08h0M508.31 538.81h0M508.18 536.69h0M509.76 534.85h0M508.52 530.91h0M508.6 528.86h0M509.85 527.23h0M509.28 525.09h0M508.77 523.64h0M508.11 522.05h0M508.63 520.89h0M508.48 519.36h0M509.8 518.07h0M508.74 515.99h0M509.85 515.23h0M508.44 513.22h0M507.99 511.89h0M509.7 510.93h0M508.05 510.26h0M509.48 509.8h0M509.09 509.05h0M508.47 508.12h0M509.57 507.4h0M508.76 506.75h0M509.87 504.67h0M509.02 504h0M509.79 502.35h0M509.76 501.57h0M508.65 500.48h0M509.28 497.77h0M509.36 496.57h0M509.21 495.63h0M507.95 494.9h0M509.28 494.08h0M509.42 493.33h0M508.29 491.57h0M527.2 562.93h0M525.89 560.71h0M526.3 559.73h0M526.34 558.59h0M527.21 556.95h0M525.94 555.92h0M527.11 551.1h0M526.78 547.83h0M526.47 540.21h0M527.22 537.38h0M527.1 535.12h0M526.83 525.99h0M526.42 521.46h0M525.42 519.63h0M525.77 517.89h0M526.63 516.48h0M525.56 514.69h0M526.62 513.42h0M526.02 511.51h0M526.1 508.73h0M526.98 505.25h0M527.01 503.83h0M526.83 502.4h0M526.22 500.42h0M526.4 498.86h0M527.3 496.75h0M527.18 493.9h0M526.55 491.19h0M536.56 557.07h0M536.08 554.88h0M537.12 553.01h0M537.22 552.29h0M536.77 551.25h0M537.58 550.64h0M537.07 549.99h0M537.35 549.36h0M536.15 547.26h0M536.64 546.54h0M536.02 545.81h0M536.3 545.08h0M537.68 543.64h0M536.25 542.85h0M537.17 541.76h0M536.74 541.15h0M537.33 539.87h0M537.72 539.22h0M537.64 537.8h0M537.91 536.95h0M537.91 535.91h0M536.78 535.06h0M537.96 534h0M537.51 532.48h0M536.54 531.83h0M536.64 530.97h0M537.03 530.14h0M537.67 529.13h0M536.18 528.26h0M537.76 526.89h0M537.32 526.28h0M537.17 525.59h0M536.79 524.01h0M536.74 523.19h0M536.79 521.12h0M537.41 520.93h0M536.87 520.26h0M537.41 519.49h0M537.73 518.81h0M536.15 518.56h0M536.02 518.37h0M537.86 518.19h0M536.37 517.64h0M537.61 517.43h0M536.79 516.94h0M536.43 516.38h0M536 516.13h0M536.84 515.92h0M537.18 515.7h0M536.09 514.73h0M536 514.35h0M536.55 514.16h0M537.74 513.67h0M537.48 513h0M536.49 512.74h0M536.79 512.54h0M536.81 512.31h0M537.4 512.07h0M536.55 511.89h0M536.69 511.44h0M536.99 511.23h0M536.45 511h0M536.84 510.8h0M537.48 509.98h0M536.99 509.62h0M536.09 509.26h0M536.68 509.07h0M537.12 508.69h0M536.44 508.02h0M536.76 507.69h0M537.1 507.3h0M536.71 507.03h0M536.35 506.48h0M537.73 506.18h0M536.11 505.78h0M537.79 505.54h0M536.17 504.94h0M537.09 504.75h0M537.07 504.51h0M536.8 504.11h0M537.23 503.82h0M537.75 503.34h0M536.62 502.84h0M536.1 502.6h0M536.38 502.09h0M537.74 501.57h0M537.18 501.31h0M537.49 501.09h0M536.76 500.82h0M536.63 500.6h0M537.36 500.3h0M537.12 500.04h0M537.81 499.6h0M536.3 499.12h0M536.67 498.67h0M537.36 498.29h0M537.79 497.94h0M536.91 497.74h0M537.56 497.52h0M536.2 497.24h0M537.26 496.95h0M536.64 496.38h0M537.37 496.19h0M536.57 495.58h0M536.35 495.32h0M536.52 495.1h0M537.43 494.52h0M537.4 494.24h0M537.81 493.9h0M536.81 493.62h0M536.11 493.41h0M537.6 493.1h0M536.49 492.2h0M537.42 491.91h0M536.96 491.4h0M536.87 491.21h0M536.04 490.98h0M536.43 490.77h0M537.48 490.47h0M536.9 490.13h0M537.74 489.49h0M537.59 489.25h0M537.05 488.83h0M537.95 488.49h0M535.98 487.93h0M536.78 487.54h0M537.05 487.06h0M536.09 486.88h0M537.72 486.64h0M536.28 486.47h0M554.65 565h0M553.69 563.57h0M555.07 562.67h0M554.69 561.5h0M554.71 560.82h0M554.02 560.09h0M554.94 557.71h0M554.46 557.01h0M554.05 555.02h0M555.39 553.4h0M554.95 552.73h0M554.77 551.97h0M555.09 551.08h0M554.8 550.48h0M554.18 549.54h0M555.32 549.19h0M555.22 548.9h0M554.75 548.62h0M554.28 548.23h0M554.41 547.94h0M553.5 547.59h0M555.19 547.32h0M555.07 547.06h0M554.6 546.8h0M554.34 546.19h0M555.02 545.94h0M553.45 545.29h0M554.21 544.78h0M553.91 544.37h0M554.63 543.79h0M554.12 543.34h0M554.62 542.71h0M555.2 540.07h0M554.23 538.72h0M553.64 537.54h0M553.44 536.7h0M555.08 535.28h0M554.35 534.49h0M554.29 533.37h0M553.47 530.25h0M553.62 529.38h0M553.41 528.02h0M555.2 526.81h0M553.5 525.14h0M554.05 523.77h0M554.36 522.74h0M554.56 521.63h0M553.85 520.82h0M554.7 515.03h0M554.69 511.53h0M555.38 510.04h0M553.6 507.05h0M554 505.34h0M553.62 503.07h0M553.99 501.05h0M553.84 499.37h0M553.47 497.66h0M555.02 496.25h0M553.96 493.87h0M554.9 491.59h0M555.04 488.97h0M565.73 567.34h0M564.68 566.99h0M564.55 566.76h0M564.1 566.54h0M565.13 566.3h0M565.16 565.83h0M564.48 565.63h0M564.58 565.21h0M565.33 564.99h0M564.41 564.42h0M565.63 563.95h0M565.8 563.53h0M564.9 562.94h0M564.32 562.59h0M565.2 562.37h0M564.65 562.03h0M564.27 561.33h0M565.48 560.56h0M565.18 559.95h0M564.6 559.46h0M564.55 559.2h0M565.51 558.47h0M565.89 558.22h0M564.76 557.84h0M565.23 557.64h0M564.5 557.32h0M564.99 556.95h0M565.22 556.75h0M564.67 556.59h0M565.27 556.4h0M565.14 556.21h0M564.15 556.05h0M564.3 555.7h0M564.89 555.51h0M564.36 555.31h0M565.15 555.05h0M565.25 554.72h0M565.31 554.5h0M565.83 554.27h0M565.28 554.04h0M565.6 553.8h0M564.29 553.54h0M565.81 553.19h0M565.92 552.87h0M565.24 552.14h0M565.72 551.68h0M565.16 551.5h0M564.93 551.32h0M564.38 551.05h0M565.02 550.7h0M565.49 550.1h0M565.65 549.71h0M565.85 549.2h0M565.1 549h0M565.95 548.76h0M564.8 548.43h0M564.1 548.18h0M564.91 547.58h0M565.14 547.41h0M565.61 547.17h0M564.53 546.99h0M564.11 546.7h0M565.51 546.41h0M564.44 546.21h0M565.76 545.89h0M565.19 545.65h0M564.33 545.4h0M565.1 545.24h0M565.6 544.96h0M564.51 544.63h0M565.97 544.25h0M564.17 543.89h0M564.36 543.61h0M565.25 543.4h0M565.41 543.08h0M565.26 542.58h0M565.91 542.05h0M564.46 541.82h0M564.15 541.61h0M565.13 541.2h0M564.76 540.84h0M564.85 540.61h0M564.85 540.02h0M565.82 539.83h0M564.63 539.27h0M565.44 538.7h0M565.19 538.32h0M564.63 538.08h0M565.88 537.81h0M564.57 537.25h0M564.66 537.06h0M564.45 536.58h0M565.46 535.89h0M565.45 535.6h0M564.79 535.39h0M564.3 535.23h0M565.25 535.02h0M564.73 534.83h0M565.16 534.64h0M565.37 534.24h0M564.06 533.99h0M564.15 533.84h0M565.7 533.27h0M565.8 533h0M564.23 532.68h0M564.51 532.17h0M564.91 531.95h0M565.73 531.71h0M564.68 531.42h0M565.97 531.26h0M564.24 531.08h0M565.87 530.91h0M564.17 530.64h0M565.26 530.23h0M566 530.03h0M565.5 529.79h0M565.89 529.59h0M564.76 529.42h0M565.97 529.22h0M565.87 528.94h0M564.61 528.51h0M565.6 528.3h0M565.9 528.1h0M564.49 527.94h0M564.84 527.68h0M565.6 527.51h0M565.21 527.36h0M565.9 527.14h0M564.93 526.91h0M564.96 526.75h0M564.39 526.44h0M564.61 526.06h0M565.81 525.69h0M564.58 525.46h0M565.85 525h0M565.67 524.61h0M565.2 524.34h0M564.66 524.1h0M564.06 523.63h0M564.3 523.4h0M565.72 522.81h0M565.98 522.64h0M565.98 522.37h0M564.62 522.16h0M565.93 521.92h0M564.94 521.33h0M564.8 521.08h0M565.88 520.9h0M565.7 520.64h0M565.42 520.46h0M564.63 519.96h0M564.27 519.81h0M564.43 519.68h0M564.59 519.23h0M564.44 519.08h0M565.2 518.79h0M564.69 518.64h0M564.49 518.46h0M565.81 518.17h0M564.8 518h0M564.07 517.87h0M564.08 517.72h0M565.16 517.36h0M564.12 517.15h0M565.17 516.96h0M564.11 516.8h0M565 516.56h0M565.3 516.34h0M565.14 516.12h0M564.49 515.81h0M565.74 515.41h0M566 515.21h0M565.69 514.95h0M565.92 514.72h0M566 514.56h0M564.8 514.26h0M565.15 513.92h0M564.89 513.7h0M565.63 513.43h0M564.4 513.26h0M564.51 513.04h0M564.96 512.82h0M565.15 512.17h0M566.04 511.92h0M564.73 511.79h0M564.07 511.6h0M564.84 511.06h0M565.81 510.88h0M564.25 510.72h0M565.1 510.52h0M565.26 510.28h0M565.74 510.1h0M564.71 509.59h0M565.27 509.44h0M565.96 509.24h0M566 508.97h0M565.19 508.58h0M564.74 508.35h0M565.36 508.21h0M565.52 507.98h0M565.42 507.61h0M565.41 507.36h0M564.83 507.21h0M565.49 507.05h0M564.76 506.86h0M564.53 506.65h0M564.26 506.49h0M565.17 506.35h0M564.4 506.21h0M564.62 505.88h0M564.66 505.68h0M564.8 505.5h0M564.89 505.33h0M566.01 505.16h0M565.11 505.01h0M565.16 504.77h0M564.86 504.65h0M565.16 504.43h0M565.69 504.25h0M565.11 504.11h0M565.08 503.92h0M564.76 503.78h0M564.43 503.47h0M564.49 503.34h0M564.24 503.04h0M564.63 502.81h0M564.14 502.65h0M564.89 502.49h0M565.21 502.15h0M564.29 502h0M565.57 501.79h0M564.96 501.33h0M565.31 501.17h0M564.92 501.03h0M565.65 500.88h0M565.42 500.73h0M564.3 500.49h0M565.16 500.26h0M564.59 500.12h0M565.55 499.8h0M564.8 499.66h0M564.51 499.52h0M564.13 499.32h0M566.03 498.88h0M564.3 498.38h0M564.56 498.11h0M565.92 497.55h0M564.16 497.21h0M564.88 497.08h0M564.93 496.79h0M565.42 496.64h0M565.62 496.47h0M566.01 496.24h0M564.7 496.03h0M564.23 495.86h0M564.49 495.73h0M564.07 495.52h0M564.6 495.36h0M565.3 495.02h0M565.85 494.49h0M564.26 494.07h0M564.6 493.76h0M565.84 493.46h0M565.23 493.27h0M564.86 493.08h0M564.2 492.93h0M564.17 492.73h0M564.49 492.52h0M565.29 492.03h0M564.18 491.6h0M565.07 491.47h0M565.7 491.34h0M564.06 491.04h0M564.63 490.59h0M564.89 490.28h0M565.28 489.99h0M565.53 489.81h0M565.42 489.63h0M564.93 489.41h0M564.74 489.29h0M565.31 489.09h0M564.98 488.87h0M565.92 488.64h0M565.12 488.43h0M565.23 488.28h0M565.39 487.95h0M565.02 487.58h0M565.04 487.32h0M565.39 486.84h0M565.26 486.54h0M566.06 486.36h0M564.67 486.12h0M565.05 485.93h0M566.01 485.74h0M565.69 485.37h0M565.17 485.06h0M564.67 484.87h0M564.42 484.73h0M564.89 484.48h0M564.91 484.27h0M582.43 561.84h0M582.84 560.79h0M582.31 559.55h0M582.67 558.8h0M582.7 558.36h0M581.58 557.23h0M581.6 556.73h0M582.5 556.09h0M583.34 555.5h0M582.9 555.5h0M593.89 567.24h0M593.47 566.62h0M592.25 565.92h0M592.76 564.44h0M593.3 563.83h0M592.97 562.49h0M592.57 560.69h0M592.28 559.38h0M593.87 558.98h0M593.47 558.6h0M592.74 557.45h0M593.08 557.13h0M593.88 556.82h0M592.43 556.48h0M593.4 555.51h0M592.61 551.91h0M593.95 548.7h0M593.74 544.01h0M594.04 539.97h0M592.91 538.39h0M593.16 536.39h0M592.78 532.23h0M592.84 529.53h0M594.05 521.6h0M594.08 517.49h0M594.13 515.01h0M593.96 510.69h0M593.12 507.69h0M610.08 562.62h0M609.96 560.6h0M609.78 558.69h0M611.39 556.78h0M611.57 542.76h0M611.21 531.1h0M610.58 523.74h0M611.06 519.67h0M620.72 567.54h0M621.57 566.62h0M621.39 566.25h0M622.15 565.82h0M621.25 564.82h0M620.93 564.47h0M622.03 564h0M621.47 563.08h0M620.9 561.5h0M621.52 561.02h0M620.52 560h0M620.6 559.53h0M621.99 559.19h0M621.15 558.92h0M621.82 558.63h0M620.65 557.7h0M621.16 557.35h0M620.69 557.06h0M621.82 556.65h0M621.41 556.15h0M621.01 555.78h0M620.99 554.94h0M620.64 554.63h0M620.64 554.38h0M621.6 553.94h0M620.84 553.35h0M620.43 553h0M620.99 552.58h0M621.13 552.35h0M622.2 551.5h0M620.99 551.15h0M621.03 550.81h0M622.16 550.49h0M621.66 550.17h0M621.14 549.73h0M621.02 549.16h0M620.67 548.84h0M620.53 548.48h0M621.16 548.08h0M621.5 547.57h0M620.43 547.21h0M621.17 545.76h0M620.57 545.2h0M621.42 544.23h0M620.91 543.73h0M621.55 543.27h0M621.79 542.67h0M621.03 541.95h0M620.99 541.11h0M620.38 539.81h0M620.64 539.1h0M621.46 538.32h0M621.83 537.88h0M620.5 537.24h0M622.17 536.12h0M622.05 535.68h0M620.95 535.11h0M621.3 534.58h0M621.57 533.8h0M620.88 532.43h0M620.95 531.83h0M621.66 531.27h0M621.19 530.85h0M621.09 530.43h0M621.35 529.97h0M620.45 529.41h0M621.16 528.59h0M620.81 527.5h0M620.55 526.56h0M621.27 525.66h0M621.62 524.63h0M621.27 523.84h0M621.22 523.05h0M621.56 522.24h0M621.06 520.46h0M622.18 519.55h0M620.65 518.57h0M620.24 517.75h0M621.36 516.94h0M621.61 515.71h0M620.98 514.4h0M621.02 513.28h0M620.91 509.99h0M620.71 507.78h0M621.8 504.91h0M621.95 503.58h0M620.78 502.8h0M621.35 500.69h0M621.14 499.91h0M620.48 497.99h0" stroke="#000" stroke-width="1.45" stroke-linecap="round" fill="none"/><path d="M470.03 493.68h0M508.5 556.11h0M508.47 558.32h0M537.06 559.97h0M536.75 562.18h0M536.86 564.39h0M536.95 566.54h0M582.44 523.27h0M582.25 536.51h0M593.3 492.57h0" stroke="#000" stroke-width="1.7" stroke-linecap="round" fill="none"/><path d="M464.87 481.72L464.87 476.72M462.4 480.64L467.34 477.79M462.4 477.79L467.34 480.64M471.87 481.72L471.87 476.72M469.4 480.64L474.34 477.79M469.4 477.79L474.34 480.64M478.87 481.72L478.87 476.72M476.4 480.64L481.34 477.79M476.4 477.79L481.34 480.64M485.87 481.72L485.87 476.72M483.4 480.64L488.34 477.79M483.4 477.79L488.34 480.64" stroke="#000" stroke-width="0.95" fill="none"/><path d="M492.95 481.72L492.95 476.72M490.48 480.64L495.42 477.79M490.48 477.79L495.42 480.64M499.95 481.72L499.95 476.72M497.48 480.64L502.42 477.79M497.48 477.79L502.42 480.64M506.95 481.72L506.95 476.72M504.48 480.64L509.42 477.79M504.48 477.79L509.42 480.64M513.95 481.72L513.95 476.72M511.48 480.64L516.42 477.79M511.48 477.79L516.42 480.64" stroke="#000" stroke-width="0.95" fill="none"/><path d="M528.03 481.72L528.03 476.72M525.56 480.64L530.5 477.79M525.56 477.79L530.5 480.64M535.03 481.72L535.03 476.72M532.56 480.64L537.5 477.79M532.56 477.79L537.5 480.64" stroke="#000" stroke-width="0.95" fill="none"/><path d="M552.61 481.72L552.61 476.72M550.14 480.64L555.08 477.79M550.14 477.79L555.08 480.64M559.61 481.72L559.61 476.72M557.14 480.64L562.08 477.79M557.14 477.79L562.08 480.64M566.61 481.72L566.61 476.72M564.14 480.64L569.08 477.79M564.14 477.79L569.08 480.64" stroke="#000" stroke-width="0.95" fill="none"/><text x="582.79" y="481.68" font-size="9.15" fill="#000" textLength="9.89" lengthAdjust="spacingAndGlyphs">ns</text><text x="610.87" y="481.68" font-size="9.15" fill="#000" textLength="9.89" lengthAdjust="spacingAndGlyphs">ns</text><path d="M485.91 463.99L485.91 458.99M483.44 462.92L488.38 460.07M483.44 460.07L488.38 462.92M492.91 463.99L492.91 458.99M490.44 462.92L495.38 460.07M490.44 460.07L495.38 462.92" stroke="#000" stroke-width="0.95" fill="none"/><path d="M492.95 452.98L492.95 447.98M490.48 451.91L495.42 449.06M490.48 449.06L495.42 451.91M499.95 452.98L499.95 447.98M497.48 451.91L502.42 449.06M497.48 449.06L502.42 451.91M506.95 452.98L506.95 447.98M504.48 451.91L509.42 449.06M504.48 449.06L509.42 451.91M513.95 452.98L513.95 447.98M511.48 451.91L516.42 449.06M511.48 449.06L516.42 451.91" stroke="#000" stroke-width="0.95" fill="none"/><path d="M510.49 441.97L510.49 436.97M508.02 440.89L512.96 438.04M508.02 438.04L512.96 440.89M517.49 441.97L517.49 436.97M515.02 440.89L519.96 438.04M515.02 438.04L519.96 440.89M524.49 441.97L524.49 436.97M522.02 440.89L526.96 438.04M522.02 438.04L526.96 440.89" stroke="#000" stroke-width="0.95" fill="none"/><path d="M521.03 430.96L521.03 425.96M518.56 429.88L523.5 427.03M518.56 427.03L523.5 429.88M528.03 430.96L528.03 425.96M525.56 429.88L530.5 427.03M525.56 427.03L530.5 429.88M535.03 430.96L535.03 425.96M532.56 429.88L537.5 427.03M532.56 427.03L537.5 429.88M542.03 430.96L542.03 425.96M539.56 429.88L544.5 427.03M539.56 427.03L544.5 429.88" stroke="#000" stroke-width="0.95" fill="none"/><path d="M535.07 419.94L535.07 414.94M532.6 418.87L537.54 416.02M532.6 416.02L537.54 418.87M542.07 419.94L542.07 414.94M539.6 418.87L544.54 416.02M539.6 416.02L544.54 418.87M549.07 419.94L549.07 414.94M546.6 418.87L551.54 416.02M546.6 416.02L551.54 418.87M556.07 419.94L556.07 414.94M553.6 418.87L558.54 416.02M553.6 416.02L558.54 418.87" stroke="#000" stroke-width="0.95" fill="none"/><path d="M475.37 468.69V465.69H503.45V468.69M475.37 457.68V454.68H531.53V457.68M475.37 446.67V443.67H559.61V446.67M475.37 435.66V432.66H587.69V435.66M475.37 424.64V421.64H615.77V424.64" stroke="#333" stroke-width="1.0" fill="none"/><rect x="458.6" y="414.1" width="173.9" height="168.3" fill="none" stroke="#333" stroke-width="0.7"/><rect x="279.3" y="605.82" width="173.65" height="168.3" fill="#fff"/><path d="M279.3 745.07H452.95M279.3 689.87H452.95M279.3 634.67H452.95" stroke="#EBEBEB" stroke-width="0.55" fill="none"/><path d="M279.3 772.67H452.95M279.3 717.47H452.95M279.3 662.27H452.95M279.3 607.07H452.95M295.84 605.82V774.12M323.92 605.82V774.12M352 605.82V774.12M380.08 605.82V774.12M408.16 605.82V774.12M436.24 605.82V774.12" stroke="#EBEBEB" stroke-width="1.07" fill="none"/><text x="319.84" y="600.82" font-size="10" fill="#1a1a1a" textLength="92.12" lengthAdjust="spacingAndGlyphs">TGFB, up-regulated</text><path d="M290.64 674.86V691.03M290.64 718.85V753.74" stroke="#222" stroke-width="1.0"/><rect x="286.04" y="691.03" width="9.2" height="27.82" fill="#22C16A" stroke="#333333" stroke-width="1.05"/><path d="M286.04 699.47H295.24" stroke="#333333" stroke-width="2"/><path d="M301.29 676.68V690.75M301.29 714.71V750.26" stroke="#222" stroke-width="1.0"/><rect x="296.69" y="690.75" width="9.2" height="23.96" fill="#FB6A96" stroke="#333333" stroke-width="1.05"/><path d="M296.69 703.61H305.89" stroke="#333333" stroke-width="2"/><path d="M318.72 688.71V694.89M318.72 716.78V744.74" stroke="#222" stroke-width="1.0"/><rect x="314.12" y="694.89" width="9.2" height="21.89" fill="#22C16A" stroke="#333333" stroke-width="1.05"/><path d="M314.12 704.88H323.32" stroke="#333333" stroke-width="2"/><path d="M329.37 682.2V695.89M329.37 720.23V747.5" stroke="#222" stroke-width="1.0"/><rect x="324.77" y="695.89" width="9.2" height="24.34" fill="#FB6A96" stroke="#333333" stroke-width="1.05"/><path d="M324.77 703.61H333.97" stroke="#333333" stroke-width="2"/><path d="M346.8 701.13V720.95M346.8 735.02V751.91" stroke="#222" stroke-width="1.0"/><rect x="342.2" y="720.95" width="9.2" height="14.08" fill="#22C16A" stroke="#333333" stroke-width="1.05"/><path d="M342.2 724.26H351.4" stroke="#333333" stroke-width="2"/><path d="M357.45 677.62V697.98M357.45 737.4V762.02" stroke="#222" stroke-width="1.0"/><rect x="352.85" y="697.98" width="9.2" height="39.41" fill="#FB6A96" stroke="#333333" stroke-width="1.05"/><path d="M352.85 717.33H362.05" stroke="#333333" stroke-width="2"/><path d="M374.88 687.72V706.98M374.88 740.6V759.26" stroke="#222" stroke-width="1.0"/><rect x="370.28" y="706.98" width="9.2" height="33.62" fill="#22C16A" stroke="#333333" stroke-width="1.05"/><path d="M370.28 723.27H379.48" stroke="#333333" stroke-width="2"/><path d="M385.53 673.03V705.55M385.53 740.6V766.87" stroke="#222" stroke-width="1.0"/><rect x="380.93" y="705.55" width="9.2" height="35.05" fill="#FB6A96" stroke="#333333" stroke-width="1.05"/><path d="M380.93 722.16H390.13" stroke="#333333" stroke-width="2"/><path d="M402.96 681.37V694.51M402.96 719.84V733.92" stroke="#222" stroke-width="1.0"/><rect x="398.36" y="694.51" width="9.2" height="25.34" fill="#22C16A" stroke="#333333" stroke-width="1.05"/><path d="M398.36 701.13H407.56" stroke="#333333" stroke-width="2"/><path d="M413.61 677.62V700.47M413.61 731.88V752.36" stroke="#222" stroke-width="1.0"/><rect x="409.01" y="700.47" width="9.2" height="31.41" fill="#FB6A96" stroke="#333333" stroke-width="1.05"/><path d="M409.01 715.26H418.21" stroke="#333333" stroke-width="2"/><path d="M431.04 689.81V700.03M431.04 733.26V735.74" stroke="#222" stroke-width="1.0"/><rect x="426.44" y="700.03" width="9.2" height="33.23" fill="#22C16A" stroke="#333333" stroke-width="1.05"/><path d="M426.44 723.71H435.64" stroke="#333333" stroke-width="2"/><path d="M441.69 684.96V710.57M441.69 739.61V757.88" stroke="#222" stroke-width="1.0"/><rect x="437.09" y="710.57" width="9.2" height="29.04" fill="#FB6A96" stroke="#333333" stroke-width="1.05"/><path d="M437.09 730.61H446.29" stroke="#333333" stroke-width="2"/><path d="M291.53 753.02h0M290.19 750.81h0M290.22 748.83h0M290.54 746.17h0M291.41 743.82h0M291.26 741.63h0M290.41 740.52h0M290.97 738.01h0M289.7 736.81h0M289.77 732.46h0M290.38 730.04h0M290.91 728.02h0M289.92 724.51h0M289.73 723.27h0M291.35 722.09h0M290.01 719.73h0M289.75 718.09h0M289.81 717.06h0M289.8 715.29h0M290.21 714.53h0M290.8 713.68h0M290.95 712.44h0M290.21 711.31h0M290.67 709.37h0M290.3 708.71h0M290.8 707.85h0M289.86 705.09h0M290.89 704.12h0M289.64 702.99h0M291.49 701h0M290.06 699.78h0M290.75 699.12h0M290.02 698.81h0M290.53 698.33h0M290.17 697.79h0M290.92 696.25h0M291.2 695.89h0M291.33 695.01h0M291.59 694.6h0M290.55 694.15h0M290.74 693.77h0M290.34 693.49h0M290.22 692.76h0M290.66 691.87h0M291.59 691.37h0M289.75 691.05h0M291.13 690.47h0M290.29 689.71h0M290.84 688.83h0M290.17 688.29h0M291.08 687.17h0M290.63 686.47h0M290.26 685.87h0M290.54 684.44h0M289.65 683.74h0M289.84 682.28h0M291.46 681.63h0M289.8 681.06h0M290.44 679.84h0M290.98 678.82h0M289.71 678.15h0M291.5 677.02h0M290.05 676.25h0M291.56 675.41h0M301.06 749.34h0M300.56 748.19h0M301.97 746.92h0M301.88 745.13h0M302.22 742.88h0M301.64 741.48h0M300.61 740.81h0M301.14 739.13h0M302.28 738.06h0M300.29 736.91h0M300.97 734.43h0M300.59 733.49h0M300.63 732.75h0M300.84 731.97h0M301.53 731.15h0M300.42 730.24h0M302.02 729.12h0M301.15 727.69h0M300.64 726.82h0M300.49 724.76h0M301.34 722.41h0M300.99 720.92h0M301.29 719.73h0M300.51 718.63h0M301 717.67h0M301.3 716.6h0M300.46 715.72h0M301.29 714.74h0M301.97 714.43h0M301.47 714.19h0M300.55 713.78h0M301.55 713.54h0M300.46 713.24h0M300.57 712.63h0M300.31 711.45h0M301.35 710.56h0M300.65 710.27h0M300.85 710.06h0M300.53 709.82h0M302.08 709.51h0M300.58 708.96h0M301.64 708.43h0M301.9 708.1h0M301.19 707.9h0M301.46 707.43h0M300.96 707.19h0M301.93 706.89h0M301.66 706.04h0M300.45 705.39h0M301.7 705.07h0M300.57 704.85h0M301.25 704.42h0M300.66 704.08h0M301.26 703.81h0M301.6 703.52h0M301.76 703.22h0M300.94 702.7h0M300.4 702.27h0M301.19 701.47h0M302.12 701.03h0M301.39 700.8h0M301.53 700.17h0M301.82 699.78h0M301.57 699.28h0M302.19 698.96h0M302.2 698.63h0M301.77 698.33h0M301.9 697.74h0M300.57 696.95h0M300.82 696.55h0M301.71 695.5h0M301.45 695.2h0M302.01 694.84h0M301.84 694.58h0M300.95 693.62h0M300.63 693.3h0M301.61 693.04h0M300.51 692.53h0M301.28 692.27h0M300.84 692.02h0M301.09 691.73h0M301.6 691.17h0M301.56 690.68h0M301.52 690.3h0M300.41 689.99h0M302.08 689.07h0M301.7 688.49h0M302.1 688.09h0M301.52 687.65h0M301.58 687.22h0M302.07 686.2h0M301.78 685.81h0M301.56 685.26h0M300.37 684.7h0M300.34 684.16h0M301.72 683.47h0M301.98 683.17h0M301.06 682.89h0M300.71 682.54h0M301.17 682.01h0M301.97 681.75h0M301.8 681.41h0M300.55 681.06h0M300.69 679.97h0M300.71 679.66h0M301.78 679.04h0M300.79 678.42h0M302.07 678.12h0M301.11 677.74h0M300.68 677.27h0M301.12 676.99h0M318.08 740.84h0M319.52 727.09h0M319.23 715.95h0M318.61 713.56h0M319.42 711.97h0M318.29 708.33h0M318.5 705.52h0M318.87 703.48h0M319.66 699.94h0M318.21 698.49h0M319.41 694.72h0M319.03 693.93h0M319.56 692.98h0M318.32 691.78h0M319.05 690.2h0M319.5 689.23h0M329.07 745.23h0M328.51 743.11h0M329.67 740.72h0M328.49 738.95h0M328.85 734.37h0M328.47 729.88h0M328.71 727.92h0M329.87 726.31h0M328.9 724.67h0M330.34 721.15h0M328.93 719.34h0M329.97 717.91h0M329.84 716.11h0M329.66 714.41h0M329.58 713.2h0M328.65 710.98h0M330.03 705.56h0M330.22 703.6h0M329.43 702.75h0M328.74 701.55h0M328.54 701.15h0M328.88 700.29h0M330.31 699.81h0M329 699.29h0M328.93 698.57h0M329.42 697.47h0M328.44 697.07h0M329.95 696.49h0M329.93 695.94h0M328.99 693.25h0M328.43 692.49h0M330.17 690.64h0M329.99 689.76h0M329.9 688.41h0M328.79 687.01h0M330.28 686.13h0M329.65 685.12h0M328.43 684h0M330.33 683.18h0M346.64 750.85h0M347.25 749.16h0M347.46 746.55h0M346.08 743.04h0M346.15 740.27h0M346.22 738.8h0M347.33 737.53h0M347.15 735.65h0M347.23 733.74h0M347.42 732.38h0M346.27 730.56h0M346.79 729.71h0M345.81 728.33h0M346.5 725.68h0M347 723.59h0M346.32 723.26h0M347.39 722.83h0M346.22 722.53h0M346.68 721.88h0M347.17 721.48h0M346.24 720.38h0M347.13 718.88h0M346.6 717.15h0M345.9 715.67h0M346.01 710.42h0M347.1 708.1h0M347.45 705.71h0M347.16 702.96h0M357.52 761.45h0M357.02 760.55h0M357.59 759.91h0M357.88 759.43h0M356.9 758.42h0M356.71 757.21h0M357.48 756.73h0M357.25 755.99h0M357.34 755.18h0M357.19 754.19h0M356.78 753.33h0M356.7 752.6h0M357.9 751.81h0M357.72 751.28h0M357.83 750.87h0M357.73 750.38h0M357.48 749.75h0M356.84 748.93h0M358.28 748.26h0M357.52 747.82h0M357.37 746.86h0M356.97 745.92h0M357.2 745.1h0M358.41 744.53h0M357.26 744.06h0M358.06 742.9h0M356.7 742.26h0M357.65 741.63h0M356.99 741.17h0M356.92 740.76h0M357.06 739.62h0M357.24 739.09h0M357.74 738.61h0M357.26 737.7h0M358.17 737.03h0M356.76 736.68h0M358.16 736.21h0M357.32 735.71h0M358.04 735.24h0M357.24 734.68h0M356.96 734.27h0M358.24 733.86h0M357.72 733.48h0M357.89 733.14h0M357.5 732h0M357.87 731.39h0M358.36 730.95h0M357.93 730.52h0M358.39 729.27h0M357.15 728.94h0M357.05 728.02h0M358.22 727.64h0M358.12 727.24h0M358.23 726.77h0M357.32 725.6h0M357.28 724.61h0M358.34 723.98h0M356.86 723.43h0M356.78 722.59h0M356.79 722.22h0M357.06 721.77h0M357.29 721.43h0M357.22 720.1h0M357.37 719.63h0M356.52 718.37h0M357.13 717.93h0M357.47 717.52h0M356.56 717.01h0M357.41 716.64h0M358.26 715.94h0M357.76 715.62h0M358.34 714.83h0M358.17 714.28h0M357.44 713.84h0M356.49 713.32h0M356.57 712.99h0M357.6 712.44h0M358.14 711.67h0M357.11 711.18h0M356.71 710.58h0M357.97 709.99h0M357.53 709.52h0M357.39 708.65h0M356.71 708.31h0M357.56 707.84h0M357.6 706.98h0M357.87 706.3h0M358.25 705.79h0M356.6 705.26h0M358.11 703.63h0M357.09 702.12h0M357.28 701.7h0M357.14 701.38h0M358.07 700.92h0M357.33 700.34h0M356.59 698.88h0M357.4 697.5h0M356.75 697.06h0M356.48 696.66h0M356.55 696.19h0M357.21 695.78h0M357.35 695.45h0M356.45 695.02h0M356.72 694.15h0M358.25 693.46h0M357.54 693.01h0M358.41 692.68h0M357.53 691.75h0M358.36 691.35h0M357.83 690.84h0M357.22 690.49h0M356.55 690.01h0M356.75 689.6h0M358.03 689.06h0M357.77 688.28h0M357.04 687.72h0M356.78 687.34h0M357.73 686.96h0M358.31 686.58h0M356.95 685.35h0M358.44 685.04h0M357.52 684.58h0M356.87 683.81h0M356.81 683.23h0M357.87 682.26h0M358.31 681.88h0M356.86 680.29h0M356.93 679.35h0M356.74 678.21h0M356.87 677.87h0M374.97 758.77h0M375.65 757.53h0M375.8 756.14h0M374.35 755.32h0M375.82 754.67h0M374.43 753.98h0M374.24 753.28h0M374.42 751.55h0M375.87 750.68h0M375.76 749.61h0M374.58 747.49h0M374.84 746.39h0M375.53 745.29h0M375.49 744.28h0M375.67 742.94h0M374.6 742.02h0M374.34 741.24h0M374.91 740.22h0M375.75 739.6h0M375.11 739.01h0M375.62 738.07h0M374.27 737.47h0M374.89 736.83h0M375.71 735.97h0M375.02 734.78h0M375.47 733.36h0M375.5 732.26h0M374.77 731.18h0M375.26 730.26h0M375.26 728.42h0M374.76 726.66h0M374.92 725.56h0M375.5 724.95h0M375.64 724.17h0M375.85 723.51h0M374.61 722.3h0M375.23 721.18h0M374.98 720.44h0M375.58 719.66h0M374.36 718.55h0M374.81 717.59h0M374.39 714.19h0M375.49 713.13h0M375.3 712.56h0M373.89 710.48h0M374.1 709.59h0M374.16 708.44h0M375.06 707.9h0M375.43 706.9h0M374.57 704.96h0M374.04 702.82h0M375.05 699.71h0M375.11 698.97h0M374.74 697.73h0M374.42 696.19h0M374.57 695.46h0M374.34 694.73h0M375.51 692.89h0M374.64 692.11h0M375.31 691.11h0M374.98 689.67h0M386.36 766.58h0M385.16 766.34h0M385.1 765.91h0M385.45 765.62h0M384.95 765.33h0M386.1 765.16h0M386.3 764.95h0M385.95 764.76h0M385.33 764.49h0M386.21 764.19h0M386.4 763.69h0M384.9 763.08h0M385.87 762.86h0M384.88 762.6h0M386.5 762.31h0M386.12 761.66h0M385.35 761.46h0M386.01 761.25h0M385.12 760.98h0M384.66 760.62h0M385.56 759.96h0M384.68 759.68h0M385.44 759.49h0M386.24 759.13h0M385.68 758.8h0M385.06 758.25h0M384.95 757.81h0M385.65 757.36h0M385.55 757.07h0M386.34 756.57h0M384.87 756.32h0M385.46 756.12h0M385.43 755.73h0M385.28 754.93h0M384.9 754.71h0M385.3 754.48h0M385.62 754.27h0M384.92 753.97h0M385.17 753.77h0M385.58 753.38h0M386.41 753.2h0M385.5 752.67h0M385.22 752.27h0M384.6 751.8h0M385.57 751.53h0M385.22 751.26h0M384.76 751.02h0M385.48 750.67h0M385.76 750.41h0M385.23 750.12h0M386 749.94h0M385.79 749.76h0M384.66 749.38h0M384.63 748.82h0M385.58 748.58h0M385.74 748.4h0M385.64 748.2h0M384.99 748.02h0M385.22 747.65h0M385.97 747.41h0M385.32 746.96h0M385.59 746.72h0M384.99 746.19h0M385.79 745.92h0M385.49 745.64h0M384.54 745.46h0M386.04 744.87h0M386.14 744.48h0M386.5 744.3h0M386.41 744.11h0M385.93 743.91h0M385.46 743.6h0M385.06 743.36h0M385.94 743.16h0M385.37 742.96h0M385.18 742.77h0M384.76 742.47h0M385.74 741.76h0M385.95 741.56h0M386.07 741.28h0M384.84 740.99h0M384.94 740.57h0M385.8 740.04h0M384.79 739.88h0M386.3 739.7h0M386.38 739.44h0M385.79 739.3h0M385.05 739.05h0M385.65 738.73h0M386.06 738.48h0M385.22 738.2h0M385.83 738.02h0M385.73 737.63h0M386.35 737.36h0M386.08 737.11h0M385.87 736.99h0M385.62 736.56h0M386.31 736.42h0M385.74 736.09h0M385.91 735.95h0M385.15 735.65h0M384.74 735.48h0M385.65 735.25h0M384.97 734.93h0M386.47 734.76h0M384.97 734.48h0M386.32 734.3h0M385.2 734.17h0M384.91 733.82h0M385.68 733.62h0M385.17 733.44h0M386.52 733.12h0M385.77 732.92h0M384.73 732.74h0M385.15 732.45h0M384.75 732.28h0M385.52 732.12h0M385.59 731.91h0M385.16 731.65h0M385.88 731.35h0M385.42 731.14h0M386.17 730.92h0M385.89 730.63h0M385.05 730.45h0M386.19 730.01h0M384.59 729.73h0M385 729.5h0M384.59 729.25h0M386.43 728.99h0M385.6 728.84h0M386.21 728.6h0M386.51 728.26h0M384.71 727.85h0M386.33 727.48h0M384.57 727.35h0M385.93 727.07h0M386.12 726.85h0M385.3 726.57h0M386.31 726.28h0M386.06 726.12h0M385.53 725.93h0M385.09 725.78h0M384.85 725.44h0M384.68 725.14h0M385.61 724.97h0M385.58 724.68h0M384.91 724.26h0M385.59 724.11h0M384.69 723.94h0M385.13 723.7h0M385.87 723.58h0M384.83 723.42h0M385.58 723.21h0M384.8 722.9h0M386.29 722.72h0M384.95 722.45h0M386.39 722.06h0M386.37 721.85h0M386.46 721.66h0M385.09 721.51h0M385.89 721.25h0M384.67 721.02h0M386.47 720.91h0M385.91 720.74h0M384.6 720.56h0M384.81 720.42h0M384.74 720.28h0M385.23 720h0M386.4 719.89h0M386.11 719.23h0M385.18 718.84h0M386.15 718.61h0M384.55 718.26h0M385.62 718.15h0M385.31 718.01h0M384.68 717.59h0M386.37 717.28h0M385.85 716.76h0M386.52 716.57h0M385.81 716.44h0M385.77 716.31h0M384.78 716.06h0M385.48 715.76h0M386.32 715.54h0M385.65 715.39h0M385.81 715.25h0M385.45 715.1h0M385.25 714.7h0M384.55 714.52h0M384.97 714.29h0M384.9 714.16h0M384.71 713.66h0M384.64 713.53h0M386.04 713.01h0M386.52 712.74h0M385.93 712.62h0M386.19 712.46h0M384.95 712.32h0M386.23 711.89h0M385.29 711.74h0M386.24 711.6h0M385.01 711.42h0M385.13 711.23h0M385.58 711.08h0M384.98 710.89h0M385.05 710.74h0M385.98 710.5h0M386.11 710.31h0M386.5 710.12h0M385.84 709.97h0M385.23 709.8h0M385.47 709.6h0M385.7 709.42h0M385.71 709.07h0M386.36 708.91h0M385.66 708.77h0M386.45 708.63h0M385.49 708.5h0M385.42 708.36h0M384.59 708.24h0M385.18 708.03h0M385.5 707.62h0M384.55 707.39h0M385.41 707.14h0M384.76 706.94h0M385.06 706.73h0M386.3 706.44h0M386.36 706.17h0M384.76 705.43h0M385.71 704.88h0M385.5 704.56h0M384.64 703.76h0M385.12 703.43h0M385.6 703.03h0M385.38 702.74h0M385.67 701.22h0M384.66 700.78h0M385.76 700.29h0M385.75 699.99h0M384.91 699.57h0M385.66 699.14h0M386.4 698.91h0M386.31 698.57h0M385.76 697.41h0M385.57 696.55h0M386.03 695.64h0M385.44 695.19h0M385.94 694.89h0M385.28 694.14h0M385.64 693.9h0M386 693.45h0M385.7 693.22h0M385.74 692.75h0M385.3 692.28h0M385.23 692.05h0M385.84 691.58h0M385.42 690.71h0M385.41 690.08h0M385.29 689.65h0M385.11 688.9h0M385.78 688.61h0M386.29 688.26h0M384.92 687.92h0M385.83 687.55h0M385.59 687.32h0M385.8 686.5h0M385.86 685.9h0M385.33 685.54h0M384.55 685.29h0M385.26 685.01h0M385.57 684.28h0M385.79 683.97h0M386.38 683.72h0M385.85 683.22h0M385.84 682.98h0M385.23 682.61h0M386.12 682.18h0M384.79 681.6h0M386.3 681.22h0M385.51 680.89h0M385.44 680.44h0M385.91 680.14h0M385.62 679.9h0M386.52 679.47h0M384.77 679.24h0M384.66 679h0M385.72 678.43h0M384.98 677.9h0M384.98 677.52h0M386.53 677.24h0M385.59 676.94h0M385.12 676.68h0M385.26 676.42h0M384.98 675.75h0M385.03 675.4h0M384.8 674.76h0M386.48 674.44h0M386 673.93h0M385.25 673.5h0M384.75 673.15h0M402.44 732.28h0M403.72 727.02h0M402.41 712.9h0M403.73 708.97h0M402.63 701.11h0M403.57 699.46h0M403.39 694h0M403.83 690.83h0M403.11 685.95h0M402.68 683.08h0M413.26 751.34h0M412.96 747.13h0M412.98 745.11h0M414.1 743.37h0M414.57 741.55h0M413.41 738.9h0M414.03 736.69h0M413.53 734.9h0M413.02 732.98h0M413.24 730.43h0M413.29 729.14h0M413.11 727.04h0M414.2 724.92h0M412.79 722.53h0M413.38 720.91h0M414.08 719.66h0M412.68 718.37h0M414.54 715.27h0M413.84 713.65h0M413.91 709.39h0M412.99 708.17h0M413.02 701.61h0M414.3 698.33h0M414.56 696.25h0M412.64 691.42h0M414.24 687.64h0M413.01 685.62h0M412.76 679.77h0M430.12 734.96h0M431.45 734.09h0M430.29 731.37h0M430.8 724.65h0M430.37 716.17h0M430.2 703.02h0M431.11 696.9h0M430.64 694.27h0M442.36 757.13h0M441.07 755.56h0M441.75 754.84h0M442.11 754.2h0M442.57 753.73h0M442.44 753.29h0M440.99 752.87h0M442.12 752.11h0M441.55 750.63h0M441.02 749.65h0M441.61 749.13h0M442.57 748.57h0M440.73 747.53h0M442.09 746.96h0M441.77 745.57h0M442.45 745.05h0M441.64 744.09h0M441.19 743.39h0M442.39 742.85h0M440.91 741.82h0M442.07 739.78h0M441.28 738.93h0M440.8 738.61h0M441.03 738.12h0M442.39 737.77h0M441 737.52h0M442.53 737.26h0M440.98 736.3h0M442.55 735.77h0M440.8 735.52h0M442.01 734.93h0M441.76 734.69h0M441.88 734.42h0M442.54 733.95h0M441.14 733.7h0M442.68 733.19h0M441.83 732.87h0M442.31 732.43h0M441.19 732.17h0M442.68 731.73h0M442.13 731.52h0M441.63 731.31h0M441.12 730.9h0M442.45 730.65h0M441.81 730.04h0M442.67 728.85h0M442.46 728.26h0M442.19 727.58h0M442.13 727.04h0M441.03 726.5h0M442.35 725.3h0M442.12 724.46h0M440.89 724h0M440.83 721.44h0M440.89 720.5h0M441.13 719.65h0M442.22 717.83h0M442.22 717.27h0M442.08 716.54h0M441.43 715.83h0M442.57 714.64h0M440.99 714.17h0M441.15 713.44h0M441.57 712.92h0M441.21 712.35h0M442.16 710.87h0M442.36 710.15h0M442.18 709.35h0M441.34 708.52h0M441.85 707h0M441.32 704.25h0M441.79 703.07h0M441.75 702.17h0M441 701.06h0M442.38 700.45h0M442.31 699.85h0M442.25 697.84h0M440.87 696.99h0M441.16 696.34h0M442.19 695.49h0M442.31 694.72h0M441.93 692.79h0M442.56 691.72h0M441.54 691.06h0M441.14 689.57h0M441.64 688.96h0M441.29 687.62h0M441.45 687.05h0M442.25 686.37h0M441.34 685.58h0" stroke="#000" stroke-width="1.45" stroke-linecap="round" fill="none"/><path d="M300.93 753.35h0M301.67 756.11h0M300.81 759.26h0M347.16 687.33h0" stroke="#000" stroke-width="1.7" stroke-linecap="round" fill="none"/><text x="290.94" y="673.4" font-size="9.15" fill="#000" textLength="9.89" lengthAdjust="spacingAndGlyphs">ns</text><text x="319.02" y="673.4" font-size="9.15" fill="#000" textLength="9.89" lengthAdjust="spacingAndGlyphs">ns</text><text x="347.1" y="673.4" font-size="9.15" fill="#000" textLength="9.89" lengthAdjust="spacingAndGlyphs">ns</text><text x="375.18" y="673.4" font-size="9.15" fill="#000" textLength="9.89" lengthAdjust="spacingAndGlyphs">ns</text><text x="403.26" y="673.4" font-size="9.15" fill="#000" textLength="9.89" lengthAdjust="spacingAndGlyphs">ns</text><text x="431.34" y="673.4" font-size="9.15" fill="#000" textLength="9.89" lengthAdjust="spacingAndGlyphs">ns</text><text x="304.98" y="655.68" font-size="9.15" fill="#000" textLength="9.89" lengthAdjust="spacingAndGlyphs">ns</text><path d="M313.42 644.7L313.42 639.7M310.95 643.62L315.89 640.77M310.95 640.77L315.89 643.62M320.42 644.7L320.42 639.7M317.95 643.62L322.89 640.77M317.95 640.77L322.89 643.62M327.42 644.7L327.42 639.7M324.95 643.62L329.89 640.77M324.95 640.77L329.89 643.62M334.42 644.7L334.42 639.7M331.95 643.62L336.89 640.77M331.95 640.77L336.89 643.62" stroke="#000" stroke-width="0.95" fill="none"/><path d="M327.46 633.69L327.46 628.69M324.99 632.61L329.93 629.76M324.99 629.76L329.93 632.61M334.46 633.69L334.46 628.69M331.99 632.61L336.93 629.76M331.99 629.76L336.93 632.61M341.46 633.69L341.46 628.69M338.99 632.61L343.93 629.76M338.99 629.76L343.93 632.61M348.46 633.69L348.46 628.69M345.99 632.61L350.93 629.76M345.99 629.76L350.93 632.61" stroke="#000" stroke-width="0.95" fill="none"/><text x="347.1" y="622.64" font-size="9.15" fill="#000" textLength="9.89" lengthAdjust="spacingAndGlyphs">ns</text><path d="M355.54 611.66L355.54 606.66M353.07 610.59L358.01 607.74M353.07 607.74L358.01 610.59M362.54 611.66L362.54 606.66M360.07 610.59L365.01 607.74M360.07 607.74L365.01 610.59M369.54 611.66L369.54 606.66M367.07 610.59L372.01 607.74M367.07 607.74L372.01 610.59M376.54 611.66L376.54 606.66M374.07 610.59L379.01 607.74M374.07 607.74L379.01 610.59" stroke="#000" stroke-width="0.95" fill="none"/><path d="M295.84 660.41V657.41H323.92V660.41M295.84 649.4V646.4H352V649.4M295.84 638.39V635.39H380.08V638.39M295.84 627.38V624.38H408.16V627.38M295.84 616.36V613.36H436.24V616.36" stroke="#333" stroke-width="1.0" fill="none"/><rect x="279.3" y="605.82" width="173.65" height="168.3" fill="none" stroke="#333" stroke-width="0.7"/><text x="265.84" y="776.05" font-size="9.46" fill="#4D4D4D" textLength="8.7" lengthAdjust="spacingAndGlyphs">-1</text><text x="269.34" y="720.85" font-size="9.46" fill="#4D4D4D" textLength="5.33" lengthAdjust="spacingAndGlyphs">0</text><text x="269.41" y="665.65" font-size="9.46" fill="#4D4D4D" textLength="5.1" lengthAdjust="spacingAndGlyphs">1</text><text x="269.31" y="610.45" font-size="9.46" fill="#4D4D4D" textLength="5.14" lengthAdjust="spacingAndGlyphs">2</text><path d="M276 772.67H279.3M276 717.47H279.3M276 662.27H279.3M276 607.07H279.3" stroke="#333" stroke-width="0.9"/><path d="M295.84 774.12V776.82M323.92 774.12V776.82M352 774.12V776.82M380.08 774.12V776.82M408.16 774.12V776.82M436.24 774.12V776.82" stroke="#333" stroke-width="0.9"/><g transform="translate(295.84 778.62) rotate(-45)"><text x="-31.59" y="8.7" font-size="12.17" fill="#4D4D4D" textLength="31.33" lengthAdjust="spacingAndGlyphs">Basal</text></g><g transform="translate(323.92 778.62) rotate(-45)"><text x="-28.15" y="8.7" font-size="12.17" fill="#4D4D4D" textLength="27.62" lengthAdjust="spacingAndGlyphs">Her2</text></g><g transform="translate(352 778.62) rotate(-45)"><text x="-33.25" y="8.7" font-size="12.17" fill="#4D4D4D" textLength="33.09" lengthAdjust="spacingAndGlyphs">LumB</text></g><g transform="translate(380.08 778.62) rotate(-45)"><text x="-33.23" y="8.7" font-size="12.17" fill="#4D4D4D" textLength="33.16" lengthAdjust="spacingAndGlyphs">LumA</text></g><g transform="translate(408.16 778.62) rotate(-45)"><text x="-67.18" y="8.7" font-size="12.17" fill="#4D4D4D" textLength="67.14" lengthAdjust="spacingAndGlyphs">Normal-like</text></g><g transform="translate(436.24 778.62) rotate(-45)"><text x="-64.54" y="8.7" font-size="12.17" fill="#4D4D4D" textLength="64.33" lengthAdjust="spacingAndGlyphs">Normal-adj</text></g><rect x="458.6" y="605.82" width="173.9" height="168.3" fill="#fff"/><path d="M458.6 745.07H632.5M458.6 689.87H632.5M458.6 634.67H632.5" stroke="#EBEBEB" stroke-width="0.55" fill="none"/><path d="M458.6 772.67H632.5M458.6 717.47H632.5M458.6 662.27H632.5M458.6 607.07H632.5M475.37 605.82V774.12M503.45 605.82V774.12M531.53 605.82V774.12M559.61 605.82V774.12M587.69 605.82V774.12M615.77 605.82V774.12" stroke="#EBEBEB" stroke-width="1.07" fill="none"/><text x="492.51" y="600.82" font-size="10" fill="#1a1a1a" textLength="105.63" lengthAdjust="spacingAndGlyphs">TGFB, down-regulated</text><path d="M470.17 674.86V693.79M470.17 732.71V755.5" stroke="#222" stroke-width="1.0"/><rect x="465.57" y="693.79" width="9.2" height="38.92" fill="#22C16A" stroke="#333333" stroke-width="1.05"/><path d="M465.57 714.54H474.77" stroke="#333333" stroke-width="2"/><path d="M480.82 673.48V685.67M480.82 721.22V758.81" stroke="#222" stroke-width="1.0"/><rect x="476.22" y="685.67" width="9.2" height="35.55" fill="#FB6A96" stroke="#333333" stroke-width="1.05"/><path d="M476.22 696.05H485.42" stroke="#333333" stroke-width="2"/><path d="M498.25 704.88V734.75M498.25 755.78V763.4" stroke="#222" stroke-width="1.0"/><rect x="493.65" y="734.75" width="9.2" height="21.03" fill="#22C16A" stroke="#333333" stroke-width="1.05"/><path d="M493.65 741.26H502.85" stroke="#333333" stroke-width="2"/><path d="M508.9 676.68V695.17M508.9 739.61V764.11" stroke="#222" stroke-width="1.0"/><rect x="504.3" y="695.17" width="9.2" height="44.44" fill="#FB6A96" stroke="#333333" stroke-width="1.05"/><path d="M504.3 718.74H513.5" stroke="#333333" stroke-width="2"/><path d="M526.33 679.71V711.12M526.33 745.84V767.54" stroke="#222" stroke-width="1.0"/><rect x="521.73" y="711.12" width="9.2" height="34.72" fill="#22C16A" stroke="#333333" stroke-width="1.05"/><path d="M521.73 724.65H530.93" stroke="#333333" stroke-width="2"/><path d="M536.98 672.1V693.95M536.98 729.5V762.73" stroke="#222" stroke-width="1.0"/><rect x="532.38" y="693.95" width="9.2" height="35.55" fill="#FB6A96" stroke="#333333" stroke-width="1.05"/><path d="M532.38 711.95H541.58" stroke="#333333" stroke-width="2"/><path d="M554.41 681.76V711.51M554.41 745.84V763.4" stroke="#222" stroke-width="1.0"/><rect x="549.81" y="711.51" width="9.2" height="34.33" fill="#22C16A" stroke="#333333" stroke-width="1.05"/><path d="M549.81 736.13H559.01" stroke="#333333" stroke-width="2"/><path d="M565.06 673.48V700.19M565.06 740.6V763.84" stroke="#222" stroke-width="1.0"/><rect x="560.46" y="700.19" width="9.2" height="40.41" fill="#FB6A96" stroke="#333333" stroke-width="1.05"/><path d="M560.46 720.51H569.66" stroke="#333333" stroke-width="2"/><path d="M582.49 709.74V730.88M582.49 746.78V755.12" stroke="#222" stroke-width="1.0"/><rect x="577.89" y="730.88" width="9.2" height="15.9" fill="#22C16A" stroke="#333333" stroke-width="1.05"/><path d="M577.89 740.87H587.09" stroke="#333333" stroke-width="2"/><path d="M593.14 678.33V699.47M593.14 739.61V759.92" stroke="#222" stroke-width="1.0"/><rect x="588.54" y="699.47" width="9.2" height="40.13" fill="#FB6A96" stroke="#333333" stroke-width="1.05"/><path d="M588.54 727.68H597.74" stroke="#333333" stroke-width="2"/><path d="M610.57 691.86V700.74M610.57 735.74V747.77" stroke="#222" stroke-width="1.0"/><rect x="605.97" y="700.74" width="9.2" height="35" fill="#22C16A" stroke="#333333" stroke-width="1.05"/><path d="M605.97 713.33H615.17" stroke="#333333" stroke-width="2"/><path d="M621.22 676.24V700.85M621.22 728.51V762.02" stroke="#222" stroke-width="1.0"/><rect x="616.62" y="700.85" width="9.2" height="27.66" fill="#FB6A96" stroke="#333333" stroke-width="1.05"/><path d="M616.62 713.61H625.82" stroke="#333333" stroke-width="2"/><path d="M470.67 754.36h0M470.18 753.45h0M469.49 751.95h0M469.71 750.63h0M470.29 749.78h0M470.5 748.16h0M470.44 747.13h0M470.66 744.29h0M469.89 743.04h0M470.7 741.53h0M470.34 739.01h0M469.68 738.12h0M469.42 736.85h0M470.42 734.36h0M470.86 732.65h0M471.07 731.39h0M470.8 729.55h0M470.82 727.19h0M470.35 725.93h0M469.66 725.23h0M469.76 723.86h0M470.89 723.22h0M469.72 722.44h0M470.14 721.7h0M470.27 719.97h0M469.21 718.66h0M469.39 717.28h0M469.57 716.43h0M470.76 715.46h0M470.74 714.71h0M469.34 714.06h0M469.49 713.34h0M471.14 712.65h0M469.5 710.71h0M470.77 709.06h0M470.34 707.53h0M470.91 706.65h0M470.64 705.5h0M469.36 704.55h0M470.71 703.64h0M470.6 702.91h0M469.25 702.14h0M471.05 701.28h0M469.75 700.24h0M470.1 699.25h0M470.22 698.46h0M470.28 696.38h0M470.31 695.66h0M469.3 693.84h0M470.88 692.66h0M470.22 690.07h0M469.37 689.12h0M470.18 687.29h0M469.55 686.1h0M470.03 685.35h0M470.61 684.14h0M470.68 682.24h0M469.49 681.41h0M469.75 680.72h0M471.11 679.66h0M470.43 678.94h0M469.54 677.59h0M470.39 675.94h0M469.67 675.35h0M481.07 757.77h0M481.18 756.82h0M480.75 755.98h0M481.12 755.19h0M480.66 754.25h0M481 751.54h0M479.9 750.36h0M480.64 749.39h0M481.77 748.65h0M480.97 747.82h0M480.5 746.98h0M481.07 746.27h0M481.77 745.18h0M480.75 744.33h0M480.65 743.42h0M481.46 740.46h0M481.52 739.57h0M480.27 738.54h0M481.16 737.54h0M480.42 735.88h0M480.53 734.45h0M481.43 733.74h0M480.55 733.04h0M481.65 732.35h0M480.79 731.49h0M481.55 730.75h0M480.08 729.57h0M480.63 728.89h0M479.89 728.03h0M481.54 726.88h0M481.6 724.59h0M480.79 723.35h0M480.75 722.63h0M481.76 721.69h0M480.59 720.83h0M480.43 720.3h0M480.09 719.43h0M481.66 718.8h0M481.42 717.64h0M480.87 716.98h0M481.28 715.97h0M481.49 714.16h0M481.16 713.68h0M480.04 712.34h0M481.12 711.08h0M481.56 710.44h0M480.77 709.09h0M480.67 706.27h0M481.11 705.26h0M480.2 704.66h0M480.27 704.15h0M481.18 703.66h0M481.81 702.27h0M480.05 701.64h0M481.15 700.97h0M480.83 699.73h0M479.9 698.13h0M480.14 697.61h0M480.43 696.99h0M481.2 696.04h0M480.09 695.8h0M480.57 695.13h0M481.06 694.76h0M481.33 693.65h0M481.81 693.41h0M481.5 693.22h0M480.2 692.98h0M480.94 692.69h0M481.03 692.3h0M480.92 691.85h0M481.01 691.62h0M480.59 691.31h0M480.3 691.11h0M481.15 690.8h0M481.57 690.6h0M481.18 690.32h0M481.14 690.09h0M481.74 689.51h0M480.33 689.01h0M480.97 688.58h0M481.47 688.18h0M481.13 687.91h0M479.82 687.67h0M480.84 687.32h0M481.45 687.02h0M480.22 686.75h0M480.61 686.45h0M481.78 685.34h0M480.73 684.99h0M480.91 684.45h0M481.01 684.1h0M481.52 683.42h0M480.73 682.93h0M481.62 682.59h0M481.23 682.05h0M480.62 681.6h0M481.05 681.17h0M480.42 680.83h0M479.92 680.24h0M480.79 678.69h0M479.91 678.38h0M480.42 677.83h0M481.51 677.52h0M481.76 677.21h0M480.22 676.91h0M480.15 676.29h0M480.53 675.81h0M480.72 675.06h0M480.1 674.29h0M481.43 673.98h0M480.13 673.61h0M498.45 762.66h0M497.38 760.87h0M497.34 759.25h0M497.62 757.43h0M499.14 756.17h0M499.05 753.28h0M497.85 750.6h0M497.35 742.5h0M498.52 740.93h0M497.65 739.53h0M499.03 737.32h0M499.09 736.19h0M498.81 734.08h0M498.8 724.01h0M498.81 719.57h0M498.91 712.72h0M509.54 763.09h0M509.23 761.82h0M508.78 760.35h0M509.22 758.46h0M509.26 753.07h0M508.56 750.05h0M508.29 747.66h0M509.21 743.67h0M509.04 740.92h0M508 739.56h0M508.22 737.28h0M508.76 735.03h0M508.08 733.15h0M508.95 731.55h0M508.69 729.17h0M508.49 726.61h0M509.4 725.32h0M509.38 723.18h0M508.03 721.78h0M509.09 714.98h0M509.89 713.68h0M509.11 712.3h0M509.87 709.6h0M508.37 707.85h0M508.34 706.28h0M508.55 702.51h0M508.37 701.11h0M508.22 699.88h0M508.41 698.28h0M508.9 696.9h0M509.52 695.02h0M509.45 693.73h0M507.98 691.94h0M509.43 690.84h0M509.18 688.88h0M508.43 683.1h0M507.91 681.63h0M509.62 680.4h0M508.17 677.73h0M526.48 766.09h0M526.6 763.9h0M525.75 761.48h0M525.39 759.68h0M526.74 756.16h0M526.76 753.99h0M525.69 751.62h0M525.4 749.82h0M526.48 744.21h0M525.95 742.41h0M526.02 740.38h0M527.07 737.11h0M526.46 735.22h0M525.57 733.07h0M526.73 725.07h0M526.77 722.96h0M526.47 721.07h0M527.24 715.12h0M526.28 712.31h0M526.63 711.31h0M525.44 706.25h0M525.93 703.75h0M525.93 701.42h0M526.19 698.89h0M526.35 694.44h0M525.56 690.62h0M526.71 686.51h0M525.44 683.27h0M537.59 762.15h0M537.95 761.11h0M537.47 760.24h0M537.89 759.65h0M536.74 758.83h0M537.24 758.21h0M537.35 755.57h0M537.57 754.95h0M537.41 753.65h0M537.62 752.48h0M536.65 751.96h0M537.57 749.86h0M537.17 749.21h0M537.9 745.87h0M536.63 745.18h0M537.22 744.28h0M537.7 743.2h0M537.5 742.05h0M537.37 740.82h0M536.27 740.11h0M536.29 739.5h0M536.62 738.82h0M537.28 738.09h0M536.05 737.25h0M537.3 736.73h0M536.22 735.93h0M536.37 735.08h0M536.54 733.83h0M537.08 732.99h0M537.42 731.72h0M537.87 731.15h0M536.44 730.5h0M536.15 729.42h0M537.7 728.91h0M537.16 728.15h0M537.82 727.7h0M537.41 727.18h0M536.24 726.69h0M536.7 726.37h0M536.42 726.01h0M536.88 725.67h0M536.55 725.35h0M537.7 725h0M537.77 724.46h0M536.36 723.85h0M537.98 723.33h0M537.9 722.98h0M536.75 722.69h0M537.73 721.98h0M537.87 721.58h0M537.45 721.03h0M536.71 720.22h0M537.24 719.76h0M537.51 719.48h0M536.66 719.15h0M536.93 718.83h0M536.16 718.48h0M536.29 717.59h0M537.57 717.09h0M536.6 716.5h0M537.38 716.21h0M536.84 715.76h0M537.4 714.69h0M536.55 714.37h0M536.15 714h0M537.31 712.75h0M536.49 712.45h0M536.39 712.02h0M536.91 711.72h0M536.97 711.07h0M537.76 710.66h0M537.37 709.75h0M536.85 709.32h0M536.86 709.01h0M537.18 708.71h0M536.24 708.22h0M536.58 707.91h0M537.19 707.5h0M537.86 706.5h0M537.18 705.85h0M536.4 704.91h0M537.91 704.47h0M537.57 704.11h0M536.43 703.76h0M536.72 703.3h0M536.05 703.02h0M537.5 702.54h0M536.42 701.8h0M537.63 700.59h0M537.42 700h0M537.53 699.55h0M537.11 699.1h0M536.47 698.2h0M536.05 697.81h0M537.17 697.18h0M536.01 696.7h0M537.02 696.28h0M537.53 695.86h0M536.26 695.06h0M536.85 694.07h0M537.06 693.6h0M536.28 692.92h0M536.38 692.26h0M537.2 691.72h0M536.33 690.04h0M536.28 689.33h0M536.42 688.99h0M537.85 688.46h0M537.77 687.98h0M536.2 687.33h0M537.13 686.94h0M536.8 686.09h0M536.04 685.59h0M536.48 685.02h0M537.28 683.83h0M536.02 682.69h0M537.9 682.24h0M536.55 681.89h0M536.68 681.12h0M537.88 679.98h0M536.26 679.55h0M536.24 679.18h0M536.92 678.59h0M536.61 677.32h0M536.62 676.21h0M537.15 675.75h0M537.88 674.53h0M536.81 673.86h0M536.07 673.08h0M536.73 672.63h0M554.22 761.54h0M554.89 760.9h0M554.02 760.18h0M555.1 759.24h0M555.4 758.16h0M553.86 757.31h0M554.35 756.67h0M553.7 755.92h0M554.53 755.27h0M554.2 752.99h0M555.35 752.24h0M554.86 751.31h0M555.39 749.98h0M555.03 749.38h0M555.06 748.57h0M554.17 747.19h0M554.74 746.13h0M553.64 745.58h0M554.11 744.81h0M555.25 743.7h0M555.37 743.26h0M553.76 742.89h0M554.4 742.21h0M554.22 741.26h0M554.65 740.86h0M554.6 740.5h0M553.93 738.84h0M555.17 738.39h0M554.31 737.58h0M554.96 737.13h0M554.85 736.76h0M555.37 735.8h0M554.44 732.57h0M554.59 728h0M554.95 725.64h0M553.87 723.83h0M553.5 722.87h0M555.04 721.85h0M554.8 720.64h0M554.91 719.37h0M555.01 718.14h0M553.81 716.46h0M555.17 715.58h0M554.69 714.53h0M555.3 713.58h0M554.52 711.25h0M555.14 708.49h0M553.52 705.51h0M553.74 703.48h0M554.52 702.3h0M554.75 700.76h0M554.18 698.43h0M553.55 696.48h0M555.18 695.43h0M553.55 693.45h0M555.19 692.42h0M553.88 689.61h0M554.82 688.46h0M554.6 687.24h0M553.88 685.71h0M554.07 682.62h0M564.53 763.76h0M565.95 763.5h0M565.79 763.27h0M564.5 763.09h0M564.75 762.86h0M565.29 762.6h0M564.67 762.4h0M564.49 762.13h0M565.8 761.86h0M564.28 761.55h0M565.33 761.18h0M564.87 760.99h0M565 760.64h0M565.8 760.3h0M565.55 760.13h0M565.61 759.92h0M564.09 759.75h0M565.68 759.42h0M565.65 759.08h0M564.06 758.89h0M564.51 758.72h0M565.52 758.12h0M565.8 757.64h0M565.14 757.19h0M565.84 756.61h0M564.24 756.23h0M564.58 756.04h0M565.7 755.83h0M565.65 755.66h0M564.51 755.5h0M565.2 755.12h0M564.94 754.95h0M565.54 754.78h0M564.86 754.55h0M564.7 754.34h0M565.58 754.05h0M565.45 753.59h0M564.78 753.39h0M565.49 752.75h0M564.58 752.3h0M565.06 751.97h0M564.44 751.65h0M564.75 751.47h0M564.9 751.25h0M564.24 750.93h0M564.68 750.34h0M564.76 750.08h0M564.71 749.72h0M565.07 749.54h0M565.86 749.09h0M565.76 748.88h0M564.65 748.62h0M564.33 748.15h0M564.24 747.79h0M565.83 747.41h0M565.58 746.89h0M565.54 746.69h0M565.88 746.28h0M564.86 745.97h0M564.4 745.76h0M564.24 745.6h0M564.86 745.22h0M565.6 745.04h0M564.23 744.79h0M564.94 744.49h0M564.22 744.13h0M564.49 743.61h0M565.17 743.26h0M565.36 743h0M565.95 742.74h0M564.7 742.56h0M564.52 742.3h0M564.18 742.11h0M564.44 741.93h0M564.13 741.69h0M564.06 741.17h0M564.29 740.77h0M565.13 740.49h0M564.97 740.32h0M565.87 739.98h0M565.03 739.83h0M564.23 739.35h0M564.35 739.13h0M565.46 738.97h0M566.02 738.83h0M565.56 738.38h0M564.53 738.23h0M564.75 737.8h0M564.93 737.57h0M564.93 737.43h0M564.63 737.24h0M564.37 737.04h0M564.11 736.79h0M565.82 736.59h0M566.01 736.2h0M566.02 735.84h0M564.82 735.6h0M565.43 735.46h0M564.47 735.29h0M564.29 734.99h0M564.07 734.77h0M564.73 734.52h0M565.66 734.35h0M565.12 734.02h0M564.53 733.8h0M565.02 733.39h0M565.14 733.15h0M564.45 732.99h0M564.96 732.83h0M565.92 732.53h0M564.96 731.82h0M566.04 731.59h0M565.51 731.38h0M564.32 731.24h0M565.9 730.75h0M565.44 730.6h0M564.95 730.21h0M564.44 730.01h0M565.38 729.79h0M564.44 729.53h0M564.98 729.28h0M564.36 729.12h0M564.89 728.88h0M565.99 728.73h0M565.26 728.59h0M565.09 728.42h0M565.3 728.22h0M565.37 727.98h0M565.26 727.84h0M564.63 727.46h0M564.49 727.15h0M565.27 726.95h0M565.92 726.66h0M565.8 726.49h0M565.04 726.36h0M564.65 726.15h0M565.23 725.98h0M564.15 725.76h0M565.05 725.57h0M565.63 725.37h0M565.99 725.19h0M564.24 724.86h0M564.46 724.56h0M565.02 724.36h0M565.28 723.88h0M565.99 723.45h0M564.27 723.17h0M564.32 722.98h0M565.03 722.73h0M565.65 722.53h0M564.12 722.24h0M564.82 722.02h0M565.48 721.75h0M564.9 721.55h0M564.42 721.36h0M564.2 721.18h0M565.58 720.78h0M565.08 720.64h0M565.14 720.36h0M565.43 720.03h0M565.59 719.83h0M564.86 719.5h0M564.79 719.32h0M565.9 718.47h0M564.21 718.21h0M565.61 717.88h0M564.98 717.69h0M565.13 717.54h0M564.56 717.15h0M565.95 716.99h0M564.67 716.82h0M564.7 716.67h0M564.18 716.53h0M565.84 716.37h0M565.72 715.85h0M564.16 715.32h0M564.36 715.14h0M564.64 714.97h0M564.12 714.81h0M565.06 714.65h0M565.76 714.48h0M565.5 713.66h0M565.07 713.17h0M566.02 712.95h0M564.67 712.81h0M564.7 712.66h0M564.59 712.26h0M565.27 712.13h0M564.99 711.46h0M564.31 711.3h0M565.04 710.67h0M565.99 710.34h0M565.81 709.95h0M565.31 709.67h0M565.78 709.42h0M565.03 709.27h0M565.05 708.75h0M565.45 708.38h0M564.46 708.2h0M565.25 708.05h0M565.06 707.83h0M564.66 707.26h0M565.05 706.72h0M564.42 706.5h0M565.35 706.22h0M564.29 706.06h0M564.95 705.91h0M564.17 705.68h0M565.14 705h0M564.25 704.86h0M565.71 704.66h0M564.1 704.36h0M565.67 704.22h0M564.66 703.92h0M565.97 703.78h0M564.72 703.59h0M564.35 703.32h0M565.4 703.19h0M564.55 703h0M565.69 702.65h0M565.02 702.38h0M564.59 702.12h0M565.24 701.95h0M564.51 701.69h0M564.59 701.52h0M564.22 701.05h0M564.54 700.67h0M564.5 699.94h0M564.38 699.52h0M564.89 699.13h0M564.96 698.45h0M565.25 698.27h0M565.16 697.81h0M565.42 697.28h0M565.29 697.1h0M565 696.89h0M565.77 696.55h0M564.34 695.77h0M564.61 695.43h0M564.08 695.21h0M565.88 694.42h0M565.82 694.18h0M564.88 693.89h0M565.75 693.66h0M565.18 693.38h0M565.92 692.82h0M565.86 692.62h0M564.72 692.32h0M564.62 692.07h0M564.89 691.59h0M565.97 690.73h0M565 690.3h0M564.78 689.98h0M564.11 689.49h0M564.83 688.97h0M565.91 688.6h0M564.9 688.23h0M565.65 688h0M565.85 687.82h0M565.93 687.52h0M565.53 687.32h0M565.05 686.68h0M564.66 686.41h0M565.94 685.6h0M565.67 685.07h0M565.55 684.75h0M564.17 684.1h0M565.36 683.67h0M565.44 683.32h0M564.33 683.13h0M564.71 682.93h0M564.97 682.67h0M564.57 682.41h0M564.27 682.04h0M564.36 681.42h0M564.97 681.21h0M564.09 680.66h0M565.65 680.48h0M564.89 680.05h0M564.62 679.8h0M564.56 679.51h0M564.69 679.26h0M565.26 679.05h0M565.49 678.85h0M564.92 678.36h0M565.49 678.16h0M565.21 677.97h0M565.68 677.79h0M565.52 677.43h0M565.59 677.07h0M564.11 676.77h0M564.76 676.28h0M564.29 675.8h0M565.72 675.31h0M564.39 675h0M565.91 674.77h0M564.75 674.48h0M564.36 674.24h0M565.45 673.89h0M564.43 673.64h0M582.18 748.22h0M583.16 745.88h0M582.58 744.55h0M582.88 742.69h0M583.13 741.26h0M582.88 737.46h0M583.26 735.21h0M582.4 732.61h0M582.88 724.86h0M583.26 713.24h0M593.53 757.26h0M592.2 754.05h0M593.85 751.35h0M592.22 748.37h0M592.62 746.67h0M592.75 741.67h0M593.14 740.01h0M592.33 738.48h0M593 736.96h0M592.42 735.69h0M592.81 730.96h0M592.83 729.94h0M592.37 728.29h0M593.75 725.78h0M592.2 722.5h0M592.54 719.1h0M593.93 712.76h0M592.95 710.25h0M594.03 707.24h0M592.75 704.32h0M593.18 700.14h0M593.19 697.98h0M592.95 695.88h0M594.12 692.7h0M592.94 689.86h0M593.73 686.4h0M593.15 683.88h0M592.84 680.7h0M609.88 745.9h0M610.52 731.64h0M609.97 721.41h0M611.3 712.42h0M611.14 706.24h0M610.36 702.22h0M611.14 697.93h0M610.65 694.32h0M621.91 761.57h0M620.71 759.83h0M622.02 757.99h0M620.99 755.23h0M621.34 753.79h0M621.11 752.37h0M621.74 751.57h0M620.93 748.79h0M621.25 747.7h0M620.68 746.29h0M620.89 745.53h0M620.44 744.3h0M620.74 743.54h0M620.78 740.84h0M621.6 740h0M620.51 739.18h0M620.53 737.29h0M622.17 735.84h0M621.5 734.21h0M620.39 733.18h0M621.95 730.73h0M621.74 728.67h0M621.44 728.14h0M622.14 727.49h0M621.29 726.89h0M620.5 726.31h0M620.24 725.36h0M620.4 723.81h0M621.15 723.21h0M621.33 722.56h0M621.89 721.9h0M620.36 721.55h0M620.36 721.21h0M620.41 720.65h0M620.95 720h0M622.09 719.19h0M621.78 718.81h0M620.31 718.17h0M621.4 717.76h0M620.58 717.11h0M620.67 716.75h0M620.86 716.28h0M620.71 715.66h0M620.81 715.23h0M620.67 714.73h0M620.91 714.27h0M621.4 713.06h0M621.35 712.36h0M621.68 711.79h0M620.78 711.27h0M620.27 709.93h0M621.36 709.51h0M620.85 708.83h0M620.64 708.08h0M621.04 707.45h0M622.11 707.11h0M621.42 706.77h0M621.65 706.33h0M620.31 705.98h0M621.31 705.56h0M621.62 704.8h0M621.95 704.49h0M621.74 703.99h0M620.32 703.02h0M622.2 702.47h0M620.25 701.98h0M621.76 701.7h0M621.16 701.14h0M622.08 700h0M622.11 699h0M621.71 698.13h0M620.39 697.25h0M621.51 696.68h0M620.46 695.32h0M621.07 693.99h0M620.48 693.23h0M620.82 692.64h0M620.32 691.1h0M621.3 690.02h0M620.4 689.38h0M620.71 688.3h0M621.77 687.54h0M620.81 686.49h0M621.38 684.04h0M621.95 682.56h0M621.49 681.94h0M621.86 679.84h0M622.08 677.79h0M620.71 677.21h0M620.59 676.66h0" stroke="#000" stroke-width="1.45" stroke-linecap="round" fill="none"/><path d="M498.13 695.61h0" stroke="#000" stroke-width="1.7" stroke-linecap="round" fill="none"/><path d="M471.87 673.44L471.87 668.44M469.4 672.36L474.34 669.51M469.4 669.51L474.34 672.36M478.87 673.44L478.87 668.44M476.4 672.36L481.34 669.51M476.4 669.51L481.34 672.36" stroke="#000" stroke-width="0.95" fill="none"/><path d="M499.95 673.44L499.95 668.44M497.48 672.36L502.42 669.51M497.48 669.51L502.42 672.36M506.95 673.44L506.95 668.44M504.48 672.36L509.42 669.51M504.48 669.51L509.42 672.36" stroke="#000" stroke-width="0.95" fill="none"/><path d="M531.53 673.44L531.53 668.44M529.06 672.36L534 669.51M529.06 669.51L534 672.36" stroke="#000" stroke-width="0.95" fill="none"/><path d="M556.11 673.44L556.11 668.44M553.64 672.36L558.58 669.51M553.64 669.51L558.58 672.36M563.11 673.44L563.11 668.44M560.64 672.36L565.58 669.51M560.64 669.51L565.58 672.36" stroke="#000" stroke-width="0.95" fill="none"/><text x="582.79" y="673.4" font-size="9.15" fill="#000" textLength="9.89" lengthAdjust="spacingAndGlyphs">ns</text><text x="610.87" y="673.4" font-size="9.15" fill="#000" textLength="9.89" lengthAdjust="spacingAndGlyphs">ns</text><path d="M478.91 655.71L478.91 650.71M476.44 654.64L481.38 651.79M476.44 651.79L481.38 654.64M485.91 655.71L485.91 650.71M483.44 654.64L488.38 651.79M483.44 651.79L488.38 654.64M492.91 655.71L492.91 650.71M490.44 654.64L495.38 651.79M490.44 651.79L495.38 654.64M499.91 655.71L499.91 650.71M497.44 654.64L502.38 651.79M497.44 651.79L502.38 654.64" stroke="#000" stroke-width="0.95" fill="none"/><path d="M499.95 644.7L499.95 639.7M497.48 643.62L502.42 640.77M497.48 640.77L502.42 643.62M506.95 644.7L506.95 639.7M504.48 643.62L509.42 640.77M504.48 640.77L509.42 643.62" stroke="#000" stroke-width="0.95" fill="none"/><path d="M506.99 633.69L506.99 628.69M504.52 632.61L509.46 629.76M504.52 629.76L509.46 632.61M513.99 633.69L513.99 628.69M511.52 632.61L516.46 629.76M511.52 629.76L516.46 632.61M520.99 633.69L520.99 628.69M518.52 632.61L523.46 629.76M518.52 629.76L523.46 632.61M527.99 633.69L527.99 628.69M525.52 632.61L530.46 629.76M525.52 629.76L530.46 632.61" stroke="#000" stroke-width="0.95" fill="none"/><path d="M521.03 622.68L521.03 617.68M518.56 621.6L523.5 618.75M518.56 618.75L523.5 621.6M528.03 622.68L528.03 617.68M525.56 621.6L530.5 618.75M525.56 618.75L530.5 621.6M535.03 622.68L535.03 617.68M532.56 621.6L537.5 618.75M532.56 618.75L537.5 621.6M542.03 622.68L542.03 617.68M539.56 621.6L544.5 618.75M539.56 618.75L544.5 621.6" stroke="#000" stroke-width="0.95" fill="none"/><path d="M538.57 611.66L538.57 606.66M536.1 610.59L541.04 607.74M536.1 607.74L541.04 610.59M545.57 611.66L545.57 606.66M543.1 610.59L548.04 607.74M543.1 607.74L548.04 610.59M552.57 611.66L552.57 606.66M550.1 610.59L555.04 607.74M550.1 607.74L555.04 610.59" stroke="#000" stroke-width="0.95" fill="none"/><path d="M475.37 660.41V657.41H503.45V660.41M475.37 649.4V646.4H531.53V649.4M475.37 638.39V635.39H559.61V638.39M475.37 627.38V624.38H587.69V627.38M475.37 616.36V613.36H615.77V616.36" stroke="#333" stroke-width="1.0" fill="none"/><rect x="458.6" y="605.82" width="173.9" height="168.3" fill="none" stroke="#333" stroke-width="0.7"/><path d="M475.37 774.12V776.82M503.45 774.12V776.82M531.53 774.12V776.82M559.61 774.12V776.82M587.69 774.12V776.82M615.77 774.12V776.82" stroke="#333" stroke-width="0.9"/><g transform="translate(475.37 778.62) rotate(-45)"><text x="-31.59" y="8.7" font-size="12.17" fill="#4D4D4D" textLength="31.33" lengthAdjust="spacingAndGlyphs">Basal</text></g><g transform="translate(503.45 778.62) rotate(-45)"><text x="-28.15" y="8.7" font-size="12.17" fill="#4D4D4D" textLength="27.62" lengthAdjust="spacingAndGlyphs">Her2</text></g><g transform="translate(531.53 778.62) rotate(-45)"><text x="-33.25" y="8.7" font-size="12.17" fill="#4D4D4D" textLength="33.09" lengthAdjust="spacingAndGlyphs">LumB</text></g><g transform="translate(559.61 778.62) rotate(-45)"><text x="-33.23" y="8.7" font-size="12.17" fill="#4D4D4D" textLength="33.16" lengthAdjust="spacingAndGlyphs">LumA</text></g><g transform="translate(587.69 778.62) rotate(-45)"><text x="-67.18" y="8.7" font-size="12.17" fill="#4D4D4D" textLength="67.14" lengthAdjust="spacingAndGlyphs">Normal-like</text></g><g transform="translate(615.77 778.62) rotate(-45)"><text x="-64.54" y="8.7" font-size="12.17" fill="#4D4D4D" textLength="64.33" lengthAdjust="spacingAndGlyphs">Normal-adj</text></g><text x="257.8" y="10.9" font-size="15.2" fill="#1a1a1a">d</text><g transform="translate(261.2 402.6) rotate(-90)"><text x="-15.89" y="0" font-size="11.6" fill="#000" textLength="31.92" lengthAdjust="spacingAndGlyphs">Score</text></g><path d="M655.4 399.5V411.3" stroke="#333333" stroke-width="0.8"/><rect x="650.5" y="402.2" width="9.7" height="6.4" fill="#22C16A" stroke="#333333" stroke-width="1.05"/><path d="M650.5 405.4H660.2" stroke="#333333" stroke-width="1.5"/><circle cx="655.4" cy="405.4" r="0.9" fill="#000"/><text x="669.07" y="409.6" font-size="11.96" fill="#000" textLength="15.59" lengthAdjust="spacingAndGlyphs">AA</text><path d="M655.4 413.05V424.85" stroke="#333333" stroke-width="0.8"/><rect x="650.5" y="415.75" width="9.7" height="6.4" fill="#FB6A96" stroke="#333333" stroke-width="1.05"/><path d="M650.5 418.95H660.2" stroke="#333333" stroke-width="1.5"/><circle cx="655.4" cy="418.95" r="0.9" fill="#000"/><text x="669.33" y="423.15" font-size="11.96" fill="#000" textLength="10.7" lengthAdjust="spacingAndGlyphs">W</text>
</svg></body></html>
